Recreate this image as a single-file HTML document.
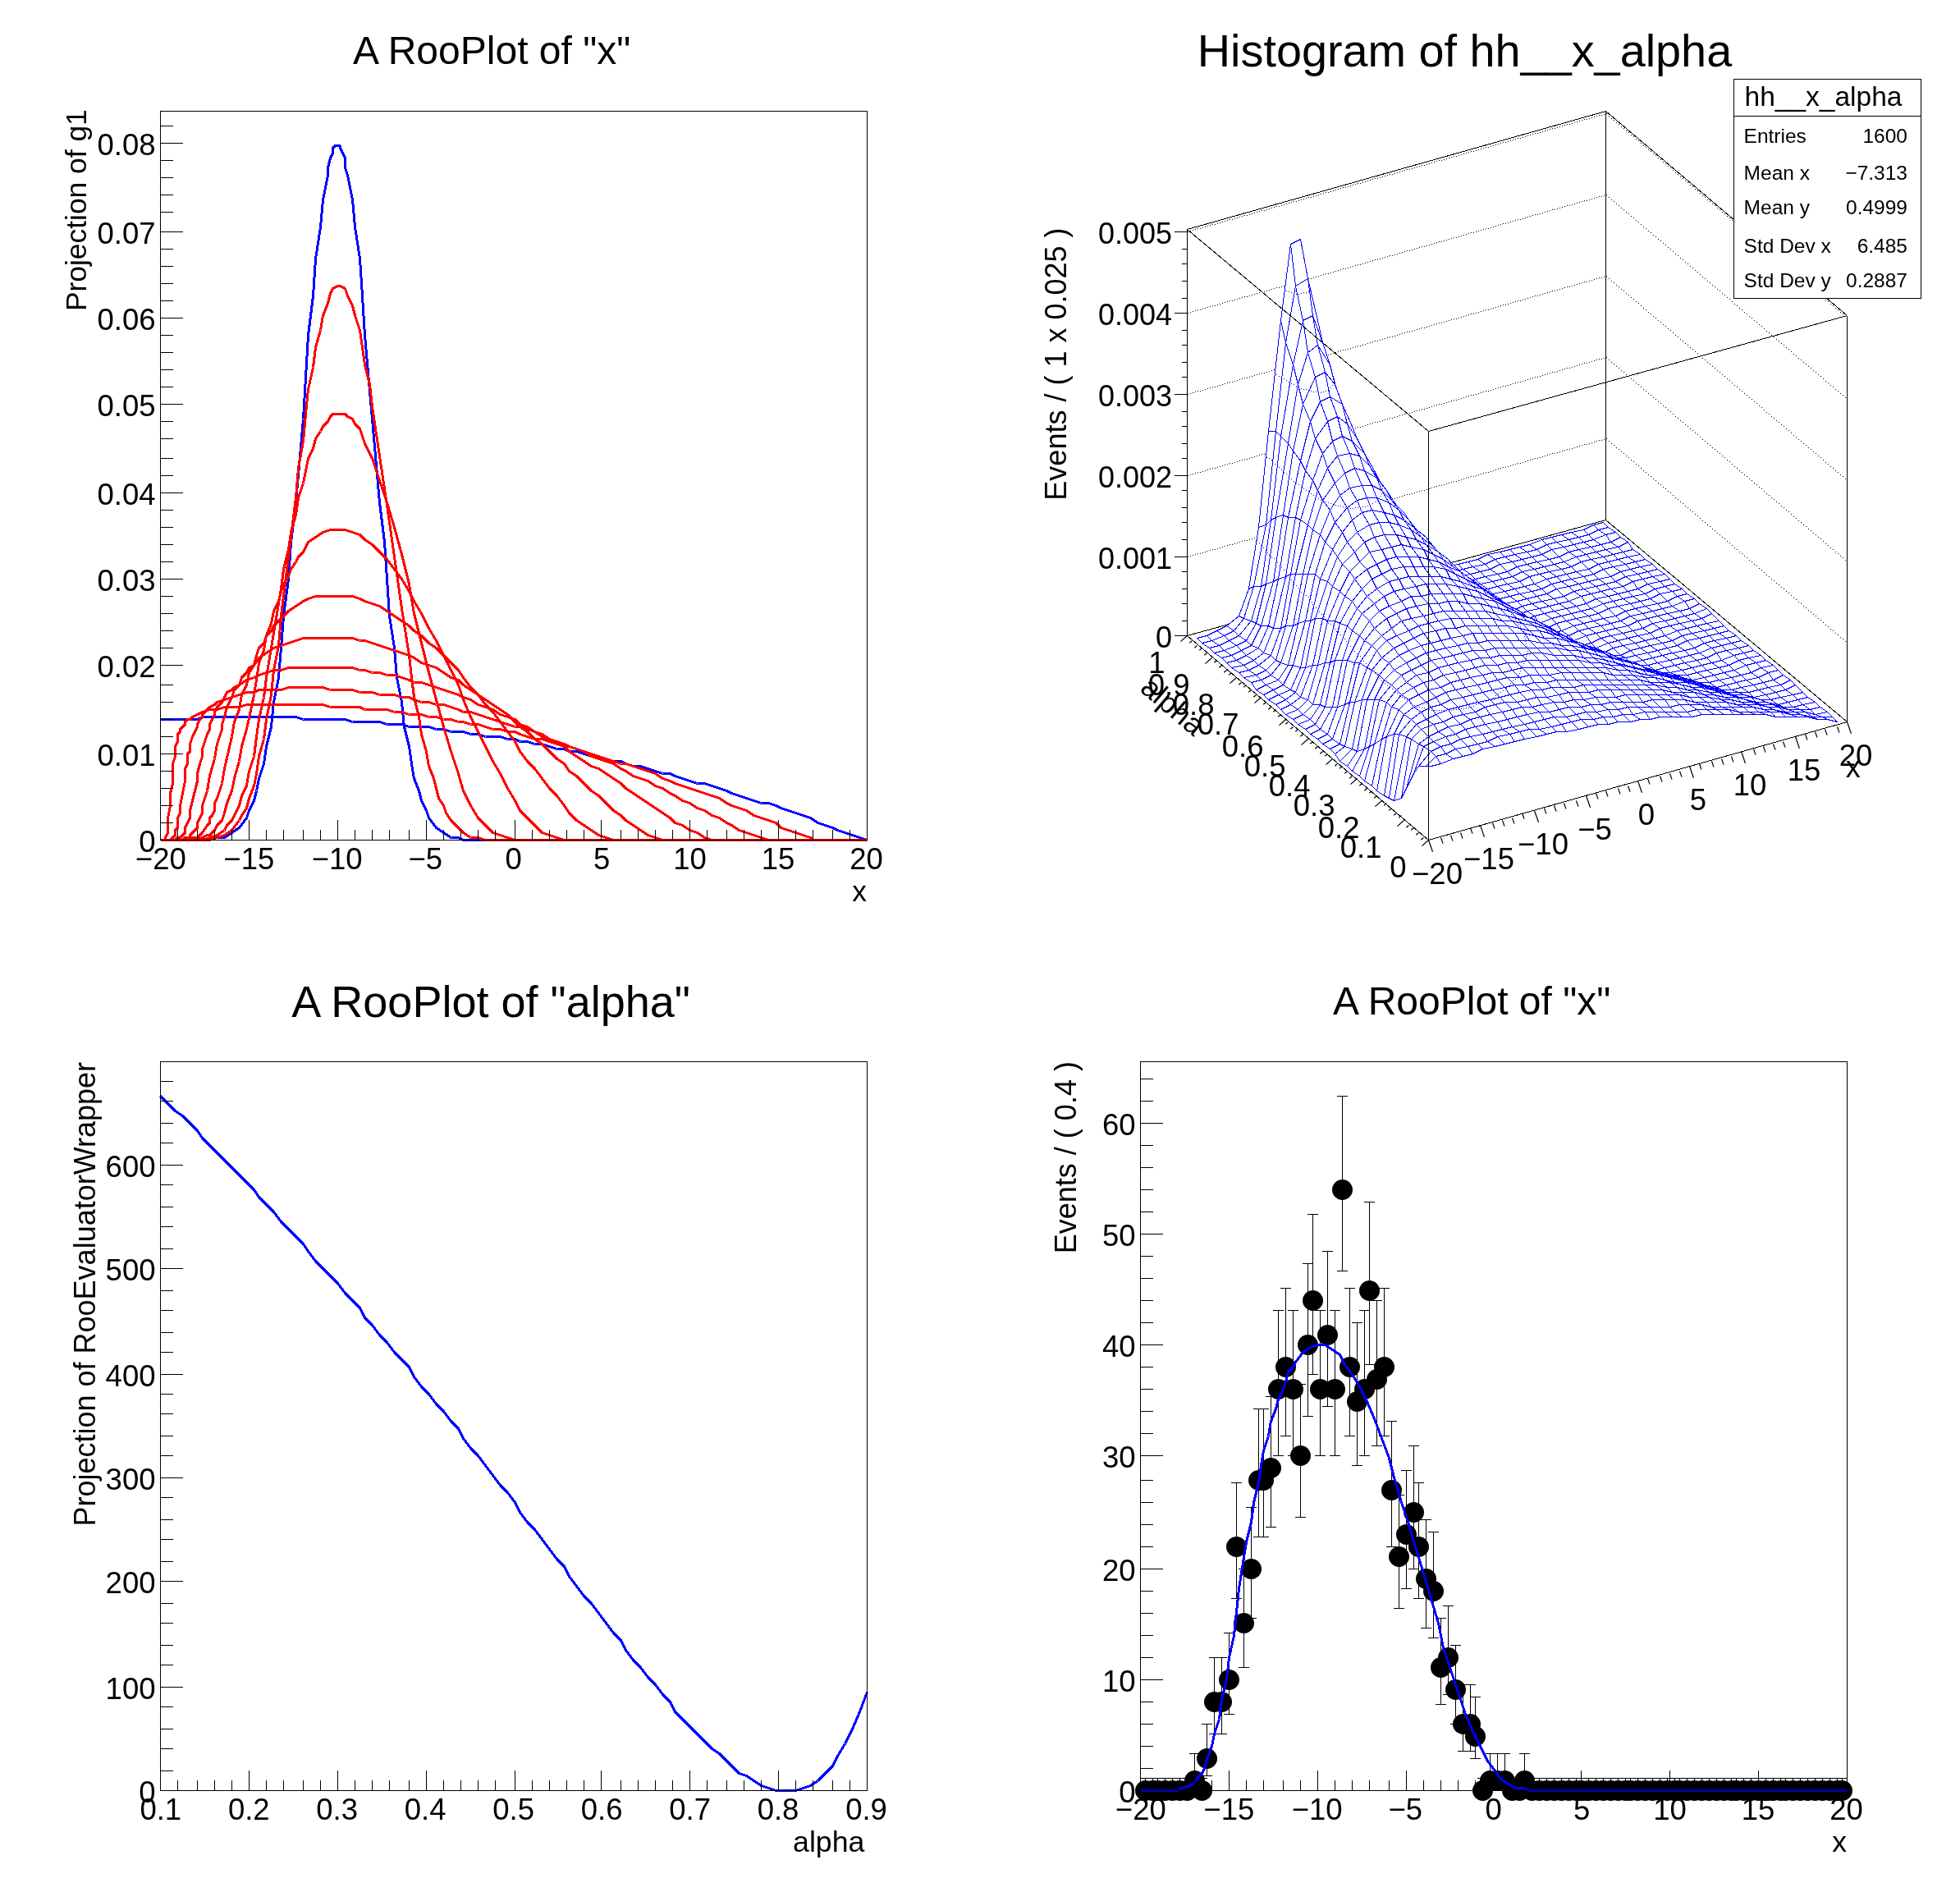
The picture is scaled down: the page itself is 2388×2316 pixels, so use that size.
<!DOCTYPE html><html><head><meta charset="utf-8"><style>html,body{margin:0;padding:0;background:#fff}svg{display:block}path.c{stroke-width:1;fill:none}text{font-family:"Liberation Sans",sans-serif;fill:#000}</style></head><body>
<svg width="2388" height="2316" viewBox="0 0 2388 2316" style="will-change:transform">
<rect width="2388" height="2316" fill="#fff"/>
<rect x="195.5" y="135.5" width="861" height="888" fill="none" stroke="#000" stroke-width="1" shape-rendering="crispEdges"/>
<path d="M195.5 1023.5L204.5 1023.5L213.5 1023.5L222.5 1023.5L231.5 1023.5L240.5 1023.5L246.5 1023.5L255.5 1023.5L264.5 1020.5L273.5 1020.5L282.5 1014.5L291.5 1008.5L300.5 996.5L303.5 987.5L309.5 975.5L312.5 963.5L315.5 948.5L321.5 930.5L324.5 909.5L330.5 885.5L333.5 855.5L339.5 825.5L342.5 789.5L345.5 750.5L351.5 705.5L354.5 660.5L360.5 612.5L369.5 510.5L375.5 408.5L381.5 360.5L384.5 315.5L390.5 276.5L393.5 243.5L396.5 228.5L399.5 213.5L399.5 204.5L402.5 192.5L405.5 186.5L405.5 180.5L408.5 177.5L411.5 177.5L414.5 177.5L414.5 180.5L417.5 186.5L420.5 192.5L420.5 204.5L423.5 213.5L426.5 228.5L429.5 243.5L432.5 276.5L438.5 315.5L441.5 360.5L444.5 408.5L453.5 510.5L462.5 612.5L468.5 660.5L471.5 705.5L474.5 750.5L480.5 789.5L483.5 825.5L489.5 855.5L492.5 885.5L498.5 909.5L501.5 930.5L504.5 948.5L510.5 963.5L513.5 975.5L519.5 987.5L522.5 996.5L531.5 1008.5L540.5 1014.5L549.5 1020.5L558.5 1020.5L564.5 1023.5L573.5 1023.5L582.5 1023.5L591.5 1023.5L600.5 1023.5L609.5 1023.5L618.5 1023.5L627.5 1023.5L633.5 1023.5L642.5 1023.5L651.5 1023.5L660.5 1023.5L669.5 1023.5L678.5 1023.5L687.5 1023.5L693.5 1023.5L702.5 1023.5L711.5 1023.5L720.5 1023.5L729.5 1023.5L738.5 1023.5L747.5 1023.5L756.5 1023.5L762.5 1023.5L771.5 1023.5L780.5 1023.5L789.5 1023.5L798.5 1023.5L807.5 1023.5L816.5 1023.5L822.5 1023.5L831.5 1023.5L840.5 1023.5L849.5 1023.5L858.5 1023.5L867.5 1023.5L876.5 1023.5L885.5 1023.5L891.5 1023.5L900.5 1023.5L909.5 1023.5L918.5 1023.5L927.5 1023.5L936.5 1023.5L945.5 1023.5L951.5 1023.5L960.5 1023.5L969.5 1023.5L978.5 1023.5L987.5 1023.5L996.5 1023.5L1005.5 1023.5L1014.5 1023.5L1020.5 1023.5L1029.5 1023.5L1038.5 1023.5L1047.5 1023.5L1056.5 1023.5" fill="none" stroke="#0000ff" stroke-width="3" stroke-linejoin="bevel" shape-rendering="crispEdges"/>
<path d="M195.5 876.5L204.5 876.5L213.5 876.5L222.5 876.5L231.5 876.5L240.5 876.5L246.5 873.5L255.5 873.5L264.5 873.5L273.5 873.5L282.5 873.5L291.5 873.5L300.5 873.5L309.5 873.5L315.5 873.5L324.5 873.5L333.5 873.5L342.5 873.5L351.5 873.5L360.5 873.5L369.5 876.5L375.5 876.5L384.5 876.5L393.5 876.5L402.5 876.5L411.5 876.5L420.5 876.5L429.5 879.5L438.5 879.5L444.5 879.5L453.5 879.5L462.5 879.5L471.5 882.5L480.5 882.5L489.5 882.5L498.5 885.5L504.5 885.5L513.5 885.5L522.5 885.5L531.5 888.5L540.5 888.5L549.5 891.5L558.5 891.5L564.5 891.5L573.5 894.5L582.5 894.5L591.5 897.5L600.5 897.5L609.5 897.5L618.5 900.5L627.5 900.5L633.5 903.5L642.5 903.5L651.5 906.5L660.5 906.5L669.5 909.5L678.5 912.5L687.5 912.5L693.5 915.5L702.5 915.5L711.5 918.5L720.5 921.5L729.5 921.5L738.5 924.5L747.5 927.5L756.5 927.5L762.5 930.5L771.5 933.5L780.5 933.5L789.5 936.5L798.5 939.5L807.5 942.5L816.5 942.5L822.5 945.5L831.5 948.5L840.5 951.5L849.5 954.5L858.5 954.5L867.5 957.5L876.5 960.5L885.5 963.5L891.5 966.5L900.5 969.5L909.5 972.5L918.5 975.5L927.5 978.5L936.5 978.5L945.5 981.5L951.5 984.5L960.5 987.5L969.5 990.5L978.5 993.5L987.5 996.5L996.5 1002.5L1005.5 1005.5L1014.5 1008.5L1020.5 1011.5L1029.5 1014.5L1038.5 1017.5L1047.5 1020.5L1056.5 1023.5" fill="none" stroke="#0000ff" stroke-width="3" stroke-linejoin="bevel" shape-rendering="crispEdges"/>
<path d="M195.5 1023.5L198.5 1023.5L201.5 1023.5L201.5 1020.5L204.5 1014.5L204.5 1008.5L204.5 996.5L207.5 981.5L207.5 966.5L210.5 954.5L210.5 939.5L210.5 930.5L213.5 921.5L213.5 915.5L213.5 909.5L216.5 903.5L216.5 900.5L216.5 894.5L219.5 891.5L219.5 888.5L222.5 885.5L225.5 882.5L225.5 879.5L228.5 876.5L231.5 876.5L234.5 873.5L240.5 870.5L246.5 867.5L255.5 864.5L264.5 864.5L273.5 861.5L282.5 861.5L291.5 861.5L300.5 858.5L309.5 858.5L315.5 858.5L324.5 858.5L333.5 858.5L342.5 858.5L351.5 858.5L360.5 858.5L369.5 858.5L375.5 858.5L384.5 858.5L393.5 858.5L402.5 861.5L411.5 861.5L420.5 861.5L429.5 861.5L438.5 861.5L444.5 864.5L453.5 864.5L462.5 864.5L471.5 864.5L480.5 867.5L489.5 867.5L498.5 870.5L504.5 870.5L513.5 870.5L522.5 873.5L531.5 873.5L540.5 876.5L549.5 876.5L558.5 879.5L564.5 879.5L573.5 882.5L582.5 882.5L591.5 885.5L600.5 888.5L609.5 888.5L618.5 891.5L627.5 891.5L633.5 894.5L642.5 897.5L651.5 900.5L660.5 900.5L669.5 903.5L678.5 906.5L687.5 909.5L693.5 909.5L702.5 912.5L711.5 915.5L720.5 918.5L729.5 921.5L738.5 924.5L747.5 927.5L756.5 930.5L762.5 930.5L771.5 933.5L780.5 936.5L789.5 939.5L798.5 942.5L807.5 948.5L816.5 951.5L822.5 954.5L831.5 957.5L840.5 960.5L849.5 963.5L858.5 966.5L867.5 969.5L876.5 972.5L885.5 978.5L891.5 981.5L900.5 984.5L909.5 987.5L918.5 993.5L927.5 996.5L936.5 999.5L945.5 1002.5L951.5 1008.5L960.5 1011.5L969.5 1014.5L978.5 1017.5L987.5 1020.5L990.5 1023.5L996.5 1023.5L999.5 1023.5L1005.5 1023.5L1014.5 1023.5L1020.5 1023.5L1029.5 1023.5L1038.5 1023.5L1047.5 1023.5L1056.5 1023.5" fill="none" stroke="#ff0000" stroke-width="3" stroke-linejoin="bevel" shape-rendering="crispEdges"/>
<path d="M195.5 1023.5L204.5 1023.5L207.5 1023.5L210.5 1020.5L213.5 1017.5L213.5 1014.5L213.5 1011.5L216.5 1008.5L216.5 1002.5L216.5 996.5L219.5 990.5L219.5 981.5L222.5 966.5L225.5 951.5L225.5 945.5L225.5 936.5L228.5 930.5L228.5 924.5L228.5 918.5L231.5 915.5L231.5 909.5L231.5 906.5L234.5 897.5L237.5 891.5L240.5 885.5L240.5 882.5L243.5 876.5L246.5 873.5L246.5 870.5L252.5 864.5L255.5 861.5L261.5 858.5L264.5 855.5L273.5 852.5L282.5 849.5L291.5 846.5L300.5 843.5L309.5 843.5L315.5 840.5L324.5 840.5L333.5 840.5L342.5 840.5L351.5 837.5L360.5 837.5L369.5 837.5L375.5 837.5L384.5 837.5L393.5 837.5L402.5 840.5L411.5 840.5L420.5 840.5L429.5 840.5L438.5 843.5L444.5 843.5L453.5 843.5L462.5 846.5L471.5 846.5L480.5 846.5L489.5 849.5L498.5 849.5L504.5 852.5L513.5 855.5L522.5 855.5L531.5 858.5L540.5 858.5L549.5 861.5L558.5 864.5L564.5 867.5L573.5 867.5L582.5 870.5L591.5 873.5L600.5 876.5L609.5 879.5L618.5 882.5L627.5 885.5L633.5 885.5L642.5 888.5L651.5 891.5L660.5 897.5L669.5 900.5L678.5 903.5L687.5 906.5L693.5 909.5L702.5 912.5L711.5 915.5L720.5 921.5L729.5 924.5L738.5 927.5L747.5 930.5L756.5 936.5L762.5 939.5L771.5 945.5L780.5 948.5L789.5 951.5L798.5 957.5L807.5 960.5L816.5 966.5L822.5 969.5L831.5 975.5L840.5 978.5L849.5 984.5L858.5 987.5L867.5 993.5L876.5 996.5L885.5 1002.5L891.5 1005.5L900.5 1011.5L909.5 1014.5L918.5 1017.5L927.5 1020.5L936.5 1023.5L945.5 1023.5L951.5 1023.5L960.5 1023.5L969.5 1023.5L978.5 1023.5L987.5 1023.5L996.5 1023.5L1005.5 1023.5L1014.5 1023.5L1020.5 1023.5L1029.5 1023.5L1038.5 1023.5L1047.5 1023.5L1056.5 1023.5" fill="none" stroke="#ff0000" stroke-width="3" stroke-linejoin="bevel" shape-rendering="crispEdges"/>
<path d="M195.5 1023.5L204.5 1023.5L213.5 1023.5L216.5 1020.5L219.5 1020.5L222.5 1017.5L225.5 1014.5L225.5 1008.5L228.5 1002.5L231.5 996.5L231.5 987.5L234.5 975.5L240.5 951.5L240.5 942.5L243.5 930.5L246.5 921.5L246.5 912.5L249.5 903.5L252.5 894.5L255.5 888.5L255.5 882.5L258.5 876.5L261.5 870.5L261.5 867.5L264.5 861.5L270.5 855.5L273.5 849.5L276.5 843.5L282.5 840.5L285.5 837.5L291.5 834.5L300.5 828.5L309.5 825.5L315.5 822.5L324.5 819.5L333.5 816.5L342.5 816.5L351.5 813.5L360.5 813.5L369.5 813.5L375.5 813.5L384.5 813.5L393.5 813.5L402.5 813.5L411.5 813.5L420.5 813.5L429.5 813.5L438.5 816.5L444.5 816.5L453.5 819.5L462.5 819.5L471.5 822.5L480.5 822.5L489.5 825.5L498.5 828.5L504.5 831.5L513.5 831.5L522.5 834.5L531.5 837.5L540.5 840.5L549.5 843.5L558.5 846.5L564.5 849.5L573.5 852.5L582.5 858.5L591.5 861.5L600.5 864.5L609.5 870.5L618.5 873.5L627.5 876.5L633.5 882.5L642.5 885.5L651.5 891.5L660.5 894.5L669.5 900.5L678.5 906.5L687.5 909.5L693.5 915.5L702.5 921.5L711.5 927.5L720.5 933.5L729.5 936.5L738.5 942.5L747.5 948.5L756.5 954.5L762.5 960.5L771.5 966.5L780.5 972.5L789.5 978.5L798.5 984.5L807.5 990.5L816.5 996.5L822.5 1002.5L831.5 1005.5L840.5 1011.5L849.5 1014.5L858.5 1020.5L867.5 1023.5L876.5 1023.5L885.5 1023.5L891.5 1023.5L900.5 1023.5L909.5 1023.5L918.5 1023.5L927.5 1023.5L936.5 1023.5L945.5 1023.5L951.5 1023.5L960.5 1023.5L969.5 1023.5L978.5 1023.5L987.5 1023.5L996.5 1023.5L1005.5 1023.5L1014.5 1023.5L1020.5 1023.5L1029.5 1023.5L1038.5 1023.5L1047.5 1023.5L1056.5 1023.5" fill="none" stroke="#ff0000" stroke-width="3" stroke-linejoin="bevel" shape-rendering="crispEdges"/>
<path d="M195.5 1023.5L204.5 1023.5L213.5 1023.5L222.5 1023.5L225.5 1020.5L231.5 1020.5L231.5 1017.5L234.5 1014.5L237.5 1011.5L240.5 1008.5L240.5 1002.5L243.5 996.5L246.5 990.5L246.5 981.5L249.5 972.5L252.5 963.5L255.5 945.5L261.5 924.5L264.5 906.5L267.5 897.5L270.5 888.5L270.5 882.5L273.5 873.5L276.5 861.5L282.5 849.5L285.5 840.5L291.5 834.5L294.5 825.5L300.5 819.5L303.5 813.5L309.5 810.5L315.5 801.5L324.5 795.5L333.5 789.5L342.5 786.5L351.5 783.5L360.5 780.5L369.5 777.5L375.5 777.5L384.5 777.5L393.5 777.5L402.5 777.5L411.5 777.5L420.5 777.5L429.5 777.5L438.5 780.5L444.5 780.5L453.5 783.5L462.5 786.5L471.5 789.5L480.5 792.5L489.5 795.5L498.5 798.5L504.5 801.5L513.5 807.5L522.5 810.5L531.5 813.5L540.5 819.5L549.5 825.5L558.5 828.5L564.5 834.5L573.5 840.5L582.5 846.5L591.5 852.5L600.5 858.5L609.5 864.5L618.5 870.5L627.5 879.5L633.5 885.5L642.5 891.5L651.5 900.5L660.5 906.5L669.5 915.5L678.5 924.5L687.5 930.5L693.5 939.5L702.5 945.5L711.5 954.5L720.5 963.5L729.5 969.5L738.5 978.5L747.5 987.5L756.5 993.5L762.5 999.5L771.5 1005.5L780.5 1011.5L789.5 1017.5L798.5 1020.5L807.5 1023.5L816.5 1023.5L822.5 1023.5L831.5 1023.5L840.5 1023.5L849.5 1023.5L858.5 1023.5L867.5 1023.5L876.5 1023.5L885.5 1023.5L891.5 1023.5L900.5 1023.5L909.5 1023.5L918.5 1023.5L927.5 1023.5L936.5 1023.5L945.5 1023.5L951.5 1023.5L960.5 1023.5L969.5 1023.5L978.5 1023.5L987.5 1023.5L996.5 1023.5L1005.5 1023.5L1014.5 1023.5L1020.5 1023.5L1029.5 1023.5L1038.5 1023.5L1047.5 1023.5L1056.5 1023.5" fill="none" stroke="#ff0000" stroke-width="3" stroke-linejoin="bevel" shape-rendering="crispEdges"/>
<path d="M195.5 1023.5L204.5 1023.5L213.5 1023.5L222.5 1023.5L231.5 1023.5L234.5 1020.5L240.5 1020.5L243.5 1017.5L246.5 1014.5L252.5 1005.5L255.5 1002.5L255.5 996.5L258.5 993.5L261.5 987.5L261.5 978.5L264.5 972.5L270.5 954.5L273.5 936.5L282.5 897.5L285.5 879.5L291.5 864.5L294.5 846.5L300.5 834.5L303.5 819.5L309.5 810.5L312.5 798.5L315.5 789.5L321.5 783.5L324.5 774.5L330.5 768.5L333.5 762.5L342.5 753.5L351.5 744.5L360.5 738.5L369.5 732.5L375.5 729.5L384.5 726.5L393.5 726.5L402.5 726.5L411.5 726.5L420.5 726.5L429.5 726.5L438.5 729.5L444.5 732.5L453.5 735.5L462.5 738.5L471.5 744.5L480.5 750.5L489.5 756.5L498.5 762.5L504.5 768.5L513.5 774.5L522.5 783.5L531.5 789.5L540.5 798.5L549.5 807.5L558.5 816.5L564.5 825.5L573.5 837.5L582.5 846.5L591.5 858.5L600.5 867.5L609.5 879.5L618.5 891.5L627.5 903.5L633.5 915.5L642.5 927.5L651.5 936.5L660.5 948.5L669.5 960.5L678.5 969.5L687.5 981.5L693.5 990.5L702.5 999.5L711.5 1005.5L720.5 1011.5L729.5 1017.5L738.5 1020.5L747.5 1023.5L756.5 1023.5L762.5 1023.5L771.5 1023.5L780.5 1023.5L789.5 1023.5L798.5 1023.5L807.5 1023.5L816.5 1023.5L822.5 1023.5L831.5 1023.5L840.5 1023.5L849.5 1023.5L858.5 1023.5L867.5 1023.5L876.5 1023.5L885.5 1023.5L891.5 1023.5L900.5 1023.5L909.5 1023.5L918.5 1023.5L927.5 1023.5L936.5 1023.5L945.5 1023.5L951.5 1023.5L960.5 1023.5L969.5 1023.5L978.5 1023.5L987.5 1023.5L996.5 1023.5L1005.5 1023.5L1014.5 1023.5L1020.5 1023.5L1029.5 1023.5L1038.5 1023.5L1047.5 1023.5L1056.5 1023.5" fill="none" stroke="#ff0000" stroke-width="3" stroke-linejoin="bevel" shape-rendering="crispEdges"/>
<path d="M195.5 1023.5L204.5 1023.5L213.5 1023.5L222.5 1023.5L231.5 1023.5L240.5 1023.5L246.5 1020.5L252.5 1017.5L255.5 1017.5L261.5 1011.5L264.5 1005.5L270.5 999.5L273.5 990.5L276.5 978.5L282.5 963.5L285.5 948.5L291.5 927.5L294.5 909.5L300.5 888.5L309.5 846.5L312.5 828.5L315.5 807.5L321.5 792.5L324.5 774.5L330.5 759.5L333.5 744.5L339.5 732.5L342.5 720.5L345.5 711.5L351.5 702.5L354.5 693.5L360.5 684.5L363.5 678.5L369.5 672.5L375.5 660.5L384.5 654.5L393.5 648.5L402.5 645.5L411.5 645.5L420.5 645.5L429.5 648.5L438.5 651.5L444.5 657.5L453.5 663.5L462.5 672.5L471.5 681.5L480.5 693.5L489.5 705.5L498.5 720.5L504.5 732.5L513.5 747.5L522.5 765.5L531.5 780.5L540.5 798.5L549.5 816.5L558.5 834.5L564.5 852.5L573.5 873.5L582.5 891.5L591.5 909.5L600.5 927.5L609.5 942.5L618.5 960.5L627.5 975.5L633.5 987.5L642.5 996.5L651.5 1005.5L660.5 1014.5L669.5 1017.5L678.5 1020.5L687.5 1023.5L693.5 1023.5L702.5 1023.5L711.5 1023.5L720.5 1023.5L729.5 1023.5L738.5 1023.5L747.5 1023.5L756.5 1023.5L762.5 1023.5L771.5 1023.5L780.5 1023.5L789.5 1023.5L798.5 1023.5L807.5 1023.5L816.5 1023.5L822.5 1023.5L831.5 1023.5L840.5 1023.5L849.5 1023.5L858.5 1023.5L867.5 1023.5L876.5 1023.5L885.5 1023.5L891.5 1023.5L900.5 1023.5L909.5 1023.5L918.5 1023.5L927.5 1023.5L936.5 1023.5L945.5 1023.5L951.5 1023.5L960.5 1023.5L969.5 1023.5L978.5 1023.5L987.5 1023.5L996.5 1023.5L1005.5 1023.5L1014.5 1023.5L1020.5 1023.5L1029.5 1023.5L1038.5 1023.5L1047.5 1023.5L1056.5 1023.5" fill="none" stroke="#ff0000" stroke-width="3" stroke-linejoin="bevel" shape-rendering="crispEdges"/>
<path d="M195.5 1023.5L204.5 1023.5L213.5 1023.5L222.5 1023.5L231.5 1023.5L240.5 1023.5L246.5 1023.5L255.5 1020.5L264.5 1017.5L273.5 1011.5L276.5 1005.5L282.5 999.5L285.5 993.5L291.5 981.5L294.5 969.5L300.5 957.5L303.5 939.5L309.5 921.5L312.5 897.5L315.5 876.5L321.5 849.5L324.5 825.5L333.5 771.5L342.5 717.5L345.5 693.5L351.5 669.5L354.5 648.5L360.5 627.5L363.5 606.5L369.5 588.5L372.5 573.5L375.5 558.5L381.5 546.5L384.5 534.5L390.5 525.5L393.5 519.5L399.5 513.5L402.5 507.5L405.5 504.5L411.5 504.5L414.5 504.5L420.5 504.5L423.5 507.5L429.5 510.5L432.5 516.5L438.5 522.5L441.5 531.5L444.5 540.5L453.5 558.5L462.5 585.5L471.5 612.5L480.5 642.5L489.5 675.5L498.5 711.5L504.5 747.5L513.5 783.5L522.5 819.5L531.5 852.5L540.5 885.5L549.5 915.5L558.5 942.5L564.5 963.5L573.5 981.5L582.5 996.5L591.5 1005.5L600.5 1014.5L609.5 1017.5L618.5 1020.5L627.5 1023.5L633.5 1023.5L642.5 1023.5L651.5 1023.5L660.5 1023.5L669.5 1023.5L678.5 1023.5L687.5 1023.5L693.5 1023.5L702.5 1023.5L711.5 1023.5L720.5 1023.5L729.5 1023.5L738.5 1023.5L747.5 1023.5L756.5 1023.5L762.5 1023.5L771.5 1023.5L780.5 1023.5L789.5 1023.5L798.5 1023.5L807.5 1023.5L816.5 1023.5L822.5 1023.5L831.5 1023.5L840.5 1023.5L849.5 1023.5L858.5 1023.5L867.5 1023.5L876.5 1023.5L885.5 1023.5L891.5 1023.5L900.5 1023.5L909.5 1023.5L918.5 1023.5L927.5 1023.5L936.5 1023.5L945.5 1023.5L951.5 1023.5L960.5 1023.5L969.5 1023.5L978.5 1023.5L987.5 1023.5L996.5 1023.5L1005.5 1023.5L1014.5 1023.5L1020.5 1023.5L1029.5 1023.5L1038.5 1023.5L1047.5 1023.5L1056.5 1023.5" fill="none" stroke="#ff0000" stroke-width="3" stroke-linejoin="bevel" shape-rendering="crispEdges"/>
<path d="M195.5 1023.5L204.5 1023.5L213.5 1023.5L222.5 1023.5L231.5 1023.5L240.5 1023.5L246.5 1023.5L255.5 1023.5L264.5 1020.5L273.5 1017.5L282.5 1011.5L291.5 999.5L294.5 993.5L300.5 984.5L303.5 972.5L309.5 957.5L312.5 942.5L315.5 921.5L321.5 900.5L324.5 876.5L330.5 846.5L333.5 816.5L339.5 786.5L342.5 750.5L351.5 678.5L360.5 606.5L363.5 570.5L369.5 537.5L372.5 504.5L375.5 474.5L381.5 447.5L384.5 423.5L390.5 402.5L393.5 384.5L399.5 369.5L402.5 357.5L405.5 351.5L411.5 348.5L414.5 348.5L420.5 351.5L423.5 360.5L429.5 372.5L432.5 384.5L438.5 402.5L441.5 423.5L444.5 444.5L450.5 468.5L453.5 495.5L462.5 555.5L471.5 615.5L480.5 678.5L489.5 741.5L498.5 798.5L501.5 825.5L504.5 849.5L510.5 873.5L513.5 894.5L519.5 915.5L522.5 933.5L528.5 948.5L531.5 960.5L534.5 972.5L540.5 981.5L543.5 990.5L549.5 999.5L558.5 1008.5L564.5 1014.5L573.5 1020.5L582.5 1020.5L591.5 1023.5L600.5 1023.5L609.5 1023.5L618.5 1023.5L627.5 1023.5L633.5 1023.5L642.5 1023.5L651.5 1023.5L660.5 1023.5L669.5 1023.5L678.5 1023.5L687.5 1023.5L693.5 1023.5L702.5 1023.5L711.5 1023.5L720.5 1023.5L729.5 1023.5L738.5 1023.5L747.5 1023.5L756.5 1023.5L762.5 1023.5L771.5 1023.5L780.5 1023.5L789.5 1023.5L798.5 1023.5L807.5 1023.5L816.5 1023.5L822.5 1023.5L831.5 1023.5L840.5 1023.5L849.5 1023.5L858.5 1023.5L867.5 1023.5L876.5 1023.5L885.5 1023.5L891.5 1023.5L900.5 1023.5L909.5 1023.5L918.5 1023.5L927.5 1023.5L936.5 1023.5L945.5 1023.5L951.5 1023.5L960.5 1023.5L969.5 1023.5L978.5 1023.5L987.5 1023.5L996.5 1023.5L1005.5 1023.5L1014.5 1023.5L1020.5 1023.5L1029.5 1023.5L1038.5 1023.5L1047.5 1023.5L1056.5 1023.5" fill="none" stroke="#ff0000" stroke-width="3" stroke-linejoin="bevel" shape-rendering="crispEdges"/>
<g stroke="#000" stroke-width="1" shape-rendering="crispEdges">
<rect x="195.5" y="135.5" width="861" height="888" fill="none"/>
<line x1="195.5" y1="1023.5" x2="195.5" y2="998.5"/>
<line x1="216.5" y1="1023.5" x2="216.5" y2="1010.5"/>
<line x1="240.5" y1="1023.5" x2="240.5" y2="1010.5"/>
<line x1="261.5" y1="1023.5" x2="261.5" y2="1010.5"/>
<line x1="282.5" y1="1023.5" x2="282.5" y2="1010.5"/>
<line x1="303.5" y1="1023.5" x2="303.5" y2="998.5"/>
<line x1="324.5" y1="1023.5" x2="324.5" y2="1010.5"/>
<line x1="345.5" y1="1023.5" x2="345.5" y2="1010.5"/>
<line x1="369.5" y1="1023.5" x2="369.5" y2="1010.5"/>
<line x1="390.5" y1="1023.5" x2="390.5" y2="1010.5"/>
<line x1="411.5" y1="1023.5" x2="411.5" y2="998.5"/>
<line x1="432.5" y1="1023.5" x2="432.5" y2="1010.5"/>
<line x1="453.5" y1="1023.5" x2="453.5" y2="1010.5"/>
<line x1="474.5" y1="1023.5" x2="474.5" y2="1010.5"/>
<line x1="498.5" y1="1023.5" x2="498.5" y2="1010.5"/>
<line x1="519.5" y1="1023.5" x2="519.5" y2="998.5"/>
<line x1="540.5" y1="1023.5" x2="540.5" y2="1010.5"/>
<line x1="561.5" y1="1023.5" x2="561.5" y2="1010.5"/>
<line x1="582.5" y1="1023.5" x2="582.5" y2="1010.5"/>
<line x1="603.5" y1="1023.5" x2="603.5" y2="1010.5"/>
<line x1="627.5" y1="1023.5" x2="627.5" y2="998.5"/>
<line x1="648.5" y1="1023.5" x2="648.5" y2="1010.5"/>
<line x1="669.5" y1="1023.5" x2="669.5" y2="1010.5"/>
<line x1="690.5" y1="1023.5" x2="690.5" y2="1010.5"/>
<line x1="711.5" y1="1023.5" x2="711.5" y2="1010.5"/>
<line x1="732.5" y1="1023.5" x2="732.5" y2="998.5"/>
<line x1="756.5" y1="1023.5" x2="756.5" y2="1010.5"/>
<line x1="777.5" y1="1023.5" x2="777.5" y2="1010.5"/>
<line x1="798.5" y1="1023.5" x2="798.5" y2="1010.5"/>
<line x1="819.5" y1="1023.5" x2="819.5" y2="1010.5"/>
<line x1="840.5" y1="1023.5" x2="840.5" y2="998.5"/>
<line x1="861.5" y1="1023.5" x2="861.5" y2="1010.5"/>
<line x1="885.5" y1="1023.5" x2="885.5" y2="1010.5"/>
<line x1="906.5" y1="1023.5" x2="906.5" y2="1010.5"/>
<line x1="927.5" y1="1023.5" x2="927.5" y2="1010.5"/>
<line x1="948.5" y1="1023.5" x2="948.5" y2="998.5"/>
<line x1="969.5" y1="1023.5" x2="969.5" y2="1010.5"/>
<line x1="990.5" y1="1023.5" x2="990.5" y2="1010.5"/>
<line x1="1014.5" y1="1023.5" x2="1014.5" y2="1010.5"/>
<line x1="1035.5" y1="1023.5" x2="1035.5" y2="1010.5"/>
<line x1="1056.5" y1="1023.5" x2="1056.5" y2="998.5"/>
<line x1="195.5" y1="1023.5" x2="222.5" y2="1023.5"/>
<line x1="195.5" y1="1002.5" x2="210.5" y2="1002.5"/>
<line x1="195.5" y1="981.5" x2="210.5" y2="981.5"/>
<line x1="195.5" y1="960.5" x2="210.5" y2="960.5"/>
<line x1="195.5" y1="939.5" x2="210.5" y2="939.5"/>
<line x1="195.5" y1="918.5" x2="222.5" y2="918.5"/>
<line x1="195.5" y1="897.5" x2="210.5" y2="897.5"/>
<line x1="195.5" y1="876.5" x2="210.5" y2="876.5"/>
<line x1="195.5" y1="855.5" x2="210.5" y2="855.5"/>
<line x1="195.5" y1="834.5" x2="210.5" y2="834.5"/>
<line x1="195.5" y1="810.5" x2="222.5" y2="810.5"/>
<line x1="195.5" y1="789.5" x2="210.5" y2="789.5"/>
<line x1="195.5" y1="768.5" x2="210.5" y2="768.5"/>
<line x1="195.5" y1="747.5" x2="210.5" y2="747.5"/>
<line x1="195.5" y1="726.5" x2="210.5" y2="726.5"/>
<line x1="195.5" y1="705.5" x2="222.5" y2="705.5"/>
<line x1="195.5" y1="684.5" x2="210.5" y2="684.5"/>
<line x1="195.5" y1="663.5" x2="210.5" y2="663.5"/>
<line x1="195.5" y1="642.5" x2="210.5" y2="642.5"/>
<line x1="195.5" y1="621.5" x2="210.5" y2="621.5"/>
<line x1="195.5" y1="600.5" x2="222.5" y2="600.5"/>
<line x1="195.5" y1="579.5" x2="210.5" y2="579.5"/>
<line x1="195.5" y1="558.5" x2="210.5" y2="558.5"/>
<line x1="195.5" y1="534.5" x2="210.5" y2="534.5"/>
<line x1="195.5" y1="513.5" x2="210.5" y2="513.5"/>
<line x1="195.5" y1="492.5" x2="222.5" y2="492.5"/>
<line x1="195.5" y1="471.5" x2="210.5" y2="471.5"/>
<line x1="195.5" y1="450.5" x2="210.5" y2="450.5"/>
<line x1="195.5" y1="429.5" x2="210.5" y2="429.5"/>
<line x1="195.5" y1="408.5" x2="210.5" y2="408.5"/>
<line x1="195.5" y1="387.5" x2="222.5" y2="387.5"/>
<line x1="195.5" y1="366.5" x2="210.5" y2="366.5"/>
<line x1="195.5" y1="345.5" x2="210.5" y2="345.5"/>
<line x1="195.5" y1="324.5" x2="210.5" y2="324.5"/>
<line x1="195.5" y1="303.5" x2="210.5" y2="303.5"/>
<line x1="195.5" y1="282.5" x2="222.5" y2="282.5"/>
<line x1="195.5" y1="258.5" x2="210.5" y2="258.5"/>
<line x1="195.5" y1="237.5" x2="210.5" y2="237.5"/>
<line x1="195.5" y1="216.5" x2="210.5" y2="216.5"/>
<line x1="195.5" y1="195.5" x2="210.5" y2="195.5"/>
<line x1="195.5" y1="174.5" x2="222.5" y2="174.5"/>
<line x1="195.5" y1="153.5" x2="210.5" y2="153.5"/>
</g>
<g font-size="36.5">
<text x="195.8" y="1058.9" text-anchor="middle">−20</text>
<text x="303.3" y="1058.9" text-anchor="middle">−15</text>
<text x="410.7" y="1058.9" text-anchor="middle">−10</text>
<text x="518.2" y="1058.9" text-anchor="middle">−5</text>
<text x="625.7" y="1058.9" text-anchor="middle">0</text>
<text x="733.1" y="1058.9" text-anchor="middle">5</text>
<text x="840.6" y="1058.9" text-anchor="middle">10</text>
<text x="948" y="1058.9" text-anchor="middle">15</text>
<text x="1055.5" y="1058.9" text-anchor="middle">20</text>
<text x="189.5" y="1038.3" text-anchor="end" font-size="36.5">0</text>
<text x="189.5" y="933.3" text-anchor="end" font-size="36.5">0.01</text>
<text x="189.5" y="825.3" text-anchor="end" font-size="36.5">0.02</text>
<text x="189.5" y="720.3" text-anchor="end" font-size="36.5">0.03</text>
<text x="189.5" y="615.3" text-anchor="end" font-size="36.5">0.04</text>
<text x="189.5" y="507.3" text-anchor="end" font-size="36.5">0.05</text>
<text x="189.5" y="402.3" text-anchor="end" font-size="36.5">0.06</text>
<text x="189.5" y="297.3" text-anchor="end" font-size="36.5">0.07</text>
<text x="189.5" y="189.3" text-anchor="end" font-size="36.5">0.08</text>
</g>
<text x="1055.9" y="1097.8" font-size="35.4" text-anchor="end">x</text>
<text x="104.9" y="133.2" font-size="35.4" text-anchor="end" transform="rotate(-90 104.9 133.2)">Projection of g1</text>
<text x="430" y="77.8" font-size="48" text-anchor="start">A RooPlot of "x"</text>
<rect x="195.5" y="1293.5" width="861" height="888" fill="none" stroke="#000" stroke-width="1" shape-rendering="crispEdges"/>
<path d="M195.5 1335.5L204.5 1344.5L213.5 1353.5L222.5 1359.5L231.5 1368.5L240.5 1377.5L246.5 1386.5L255.5 1395.5L264.5 1404.5L273.5 1413.5L282.5 1422.5L291.5 1431.5L300.5 1440.5L309.5 1449.5L315.5 1458.5L324.5 1467.5L333.5 1476.5L342.5 1488.5L351.5 1497.5L360.5 1506.5L369.5 1515.5L375.5 1524.5L384.5 1536.5L393.5 1545.5L402.5 1554.5L411.5 1563.5L420.5 1575.5L429.5 1584.5L438.5 1593.5L444.5 1605.5L453.5 1614.5L462.5 1626.5L471.5 1635.5L480.5 1647.5L489.5 1656.5L498.5 1665.5L504.5 1677.5L513.5 1689.5L522.5 1698.5L531.5 1710.5L540.5 1719.5L549.5 1731.5L558.5 1740.5L564.5 1752.5L573.5 1764.5L582.5 1773.5L591.5 1785.5L600.5 1797.5L609.5 1809.5L618.5 1818.5L627.5 1830.5L633.5 1842.5L642.5 1854.5L651.5 1863.5L660.5 1875.5L669.5 1887.5L678.5 1899.5L687.5 1908.5L693.5 1920.5L702.5 1932.5L711.5 1944.5L720.5 1953.5L729.5 1965.5L738.5 1977.5L747.5 1989.5L756.5 1998.5L762.5 2010.5L771.5 2022.5L780.5 2031.5L789.5 2043.5L798.5 2052.5L807.5 2064.5L816.5 2073.5L822.5 2085.5L831.5 2094.5L840.5 2103.5L849.5 2112.5L858.5 2121.5L867.5 2130.5L876.5 2136.5L885.5 2145.5L891.5 2151.5L900.5 2160.5L909.5 2163.5L918.5 2169.5L927.5 2175.5L936.5 2178.5L945.5 2181.5L951.5 2181.5L960.5 2181.5L969.5 2181.5L978.5 2178.5L987.5 2175.5L996.5 2169.5L1005.5 2160.5L1014.5 2151.5L1020.5 2139.5L1029.5 2124.5L1038.5 2106.5L1047.5 2085.5L1056.5 2061.5" fill="none" stroke="#0000ff" stroke-width="3" stroke-linejoin="bevel" shape-rendering="crispEdges"/>
<g stroke="#000" stroke-width="1" shape-rendering="crispEdges">
<rect x="195.5" y="1293.5" width="861" height="888" fill="none"/>
<line x1="195.5" y1="2181.5" x2="195.5" y2="2156.5"/>
<line x1="216.5" y1="2181.5" x2="216.5" y2="2168.5"/>
<line x1="240.5" y1="2181.5" x2="240.5" y2="2168.5"/>
<line x1="261.5" y1="2181.5" x2="261.5" y2="2168.5"/>
<line x1="282.5" y1="2181.5" x2="282.5" y2="2168.5"/>
<line x1="303.5" y1="2181.5" x2="303.5" y2="2156.5"/>
<line x1="324.5" y1="2181.5" x2="324.5" y2="2168.5"/>
<line x1="345.5" y1="2181.5" x2="345.5" y2="2168.5"/>
<line x1="369.5" y1="2181.5" x2="369.5" y2="2168.5"/>
<line x1="390.5" y1="2181.5" x2="390.5" y2="2168.5"/>
<line x1="411.5" y1="2181.5" x2="411.5" y2="2156.5"/>
<line x1="432.5" y1="2181.5" x2="432.5" y2="2168.5"/>
<line x1="453.5" y1="2181.5" x2="453.5" y2="2168.5"/>
<line x1="474.5" y1="2181.5" x2="474.5" y2="2168.5"/>
<line x1="498.5" y1="2181.5" x2="498.5" y2="2168.5"/>
<line x1="519.5" y1="2181.5" x2="519.5" y2="2156.5"/>
<line x1="540.5" y1="2181.5" x2="540.5" y2="2168.5"/>
<line x1="561.5" y1="2181.5" x2="561.5" y2="2168.5"/>
<line x1="582.5" y1="2181.5" x2="582.5" y2="2168.5"/>
<line x1="603.5" y1="2181.5" x2="603.5" y2="2168.5"/>
<line x1="627.5" y1="2181.5" x2="627.5" y2="2156.5"/>
<line x1="648.5" y1="2181.5" x2="648.5" y2="2168.5"/>
<line x1="669.5" y1="2181.5" x2="669.5" y2="2168.5"/>
<line x1="690.5" y1="2181.5" x2="690.5" y2="2168.5"/>
<line x1="711.5" y1="2181.5" x2="711.5" y2="2168.5"/>
<line x1="732.5" y1="2181.5" x2="732.5" y2="2156.5"/>
<line x1="756.5" y1="2181.5" x2="756.5" y2="2168.5"/>
<line x1="777.5" y1="2181.5" x2="777.5" y2="2168.5"/>
<line x1="798.5" y1="2181.5" x2="798.5" y2="2168.5"/>
<line x1="819.5" y1="2181.5" x2="819.5" y2="2168.5"/>
<line x1="840.5" y1="2181.5" x2="840.5" y2="2156.5"/>
<line x1="861.5" y1="2181.5" x2="861.5" y2="2168.5"/>
<line x1="885.5" y1="2181.5" x2="885.5" y2="2168.5"/>
<line x1="906.5" y1="2181.5" x2="906.5" y2="2168.5"/>
<line x1="927.5" y1="2181.5" x2="927.5" y2="2168.5"/>
<line x1="948.5" y1="2181.5" x2="948.5" y2="2156.5"/>
<line x1="969.5" y1="2181.5" x2="969.5" y2="2168.5"/>
<line x1="990.5" y1="2181.5" x2="990.5" y2="2168.5"/>
<line x1="1014.5" y1="2181.5" x2="1014.5" y2="2168.5"/>
<line x1="1035.5" y1="2181.5" x2="1035.5" y2="2168.5"/>
<line x1="1056.5" y1="2181.5" x2="1056.5" y2="2156.5"/>
<line x1="195.5" y1="2181.5" x2="222.5" y2="2181.5"/>
<line x1="195.5" y1="2157.5" x2="210.5" y2="2157.5"/>
<line x1="195.5" y1="2130.5" x2="210.5" y2="2130.5"/>
<line x1="195.5" y1="2106.5" x2="210.5" y2="2106.5"/>
<line x1="195.5" y1="2079.5" x2="210.5" y2="2079.5"/>
<line x1="195.5" y1="2055.5" x2="222.5" y2="2055.5"/>
<line x1="195.5" y1="2028.5" x2="210.5" y2="2028.5"/>
<line x1="195.5" y1="2004.5" x2="210.5" y2="2004.5"/>
<line x1="195.5" y1="1977.5" x2="210.5" y2="1977.5"/>
<line x1="195.5" y1="1953.5" x2="210.5" y2="1953.5"/>
<line x1="195.5" y1="1926.5" x2="222.5" y2="1926.5"/>
<line x1="195.5" y1="1902.5" x2="210.5" y2="1902.5"/>
<line x1="195.5" y1="1875.5" x2="210.5" y2="1875.5"/>
<line x1="195.5" y1="1851.5" x2="210.5" y2="1851.5"/>
<line x1="195.5" y1="1824.5" x2="210.5" y2="1824.5"/>
<line x1="195.5" y1="1800.5" x2="222.5" y2="1800.5"/>
<line x1="195.5" y1="1773.5" x2="210.5" y2="1773.5"/>
<line x1="195.5" y1="1749.5" x2="210.5" y2="1749.5"/>
<line x1="195.5" y1="1722.5" x2="210.5" y2="1722.5"/>
<line x1="195.5" y1="1698.5" x2="210.5" y2="1698.5"/>
<line x1="195.5" y1="1674.5" x2="222.5" y2="1674.5"/>
<line x1="195.5" y1="1647.5" x2="210.5" y2="1647.5"/>
<line x1="195.5" y1="1623.5" x2="210.5" y2="1623.5"/>
<line x1="195.5" y1="1596.5" x2="210.5" y2="1596.5"/>
<line x1="195.5" y1="1572.5" x2="210.5" y2="1572.5"/>
<line x1="195.5" y1="1545.5" x2="222.5" y2="1545.5"/>
<line x1="195.5" y1="1521.5" x2="210.5" y2="1521.5"/>
<line x1="195.5" y1="1494.5" x2="210.5" y2="1494.5"/>
<line x1="195.5" y1="1470.5" x2="210.5" y2="1470.5"/>
<line x1="195.5" y1="1443.5" x2="210.5" y2="1443.5"/>
<line x1="195.5" y1="1419.5" x2="222.5" y2="1419.5"/>
<line x1="195.5" y1="1392.5" x2="210.5" y2="1392.5"/>
<line x1="195.5" y1="1368.5" x2="210.5" y2="1368.5"/>
<line x1="195.5" y1="1341.5" x2="210.5" y2="1341.5"/>
<line x1="195.5" y1="1317.5" x2="210.5" y2="1317.5"/>
</g>
<g font-size="36.5">
<text x="195.8" y="2216.9" text-anchor="middle">0.1</text>
<text x="303.3" y="2216.9" text-anchor="middle">0.2</text>
<text x="410.7" y="2216.9" text-anchor="middle">0.3</text>
<text x="518.2" y="2216.9" text-anchor="middle">0.4</text>
<text x="625.7" y="2216.9" text-anchor="middle">0.5</text>
<text x="733.1" y="2216.9" text-anchor="middle">0.6</text>
<text x="840.6" y="2216.9" text-anchor="middle">0.7</text>
<text x="948" y="2216.9" text-anchor="middle">0.8</text>
<text x="1055.5" y="2216.9" text-anchor="middle">0.9</text>
<text x="189.5" y="2196.3" text-anchor="end" font-size="36.5">0</text>
<text x="189.5" y="2070.3" text-anchor="end" font-size="36.5">100</text>
<text x="189.5" y="1941.3" text-anchor="end" font-size="36.5">200</text>
<text x="189.5" y="1815.3" text-anchor="end" font-size="36.5">300</text>
<text x="189.5" y="1689.3" text-anchor="end" font-size="36.5">400</text>
<text x="189.5" y="1560.3" text-anchor="end" font-size="36.5">500</text>
<text x="189.5" y="1434.3" text-anchor="end" font-size="36.5">600</text>
</g>
<text x="1053.4" y="2255.8" font-size="35.7" text-anchor="end">alpha</text>
<text x="116.5" y="1293.9" font-size="36" text-anchor="end" transform="rotate(-90 116.5 1293.9)">Projection of RooEvaluatorWrapper</text>
<text x="355.3" y="1238.9" font-size="54" text-anchor="start">A RooPlot of "alpha"</text>
<rect x="1389.5" y="1293.5" width="861" height="888" fill="none" stroke="#000" stroke-width="1" shape-rendering="crispEdges"/>
<g stroke="#000" stroke-width="1" shape-rendering="crispEdges">
<line x1="1395.5" y1="2181.5" x2="1395.5" y2="2166.5"/>
<line x1="1389.5" y1="2166.5" x2="1401.5" y2="2166.5"/>
<line x1="1404.5" y1="2181.5" x2="1404.5" y2="2166.5"/>
<line x1="1397.5" y1="2166.5" x2="1410.5" y2="2166.5"/>
<line x1="1410.5" y1="2181.5" x2="1410.5" y2="2166.5"/>
<line x1="1403.5" y1="2166.5" x2="1416.5" y2="2166.5"/>
<line x1="1419.5" y1="2181.5" x2="1419.5" y2="2166.5"/>
<line x1="1412.5" y1="2166.5" x2="1425.5" y2="2166.5"/>
<line x1="1428.5" y1="2181.5" x2="1428.5" y2="2166.5"/>
<line x1="1421.5" y1="2166.5" x2="1434.5" y2="2166.5"/>
<line x1="1437.5" y1="2181.5" x2="1437.5" y2="2166.5"/>
<line x1="1430.5" y1="2166.5" x2="1443.5" y2="2166.5"/>
<line x1="1446.5" y1="2181.5" x2="1446.5" y2="2166.5"/>
<line x1="1439.5" y1="2166.5" x2="1452.5" y2="2166.5"/>
<line x1="1455.5" y1="2178.5" x2="1455.5" y2="2136.5"/>
<line x1="1448.5" y1="2136.5" x2="1461.5" y2="2136.5"/>
<line x1="1448.5" y1="2178.5" x2="1461.5" y2="2178.5"/>
<line x1="1464.5" y1="2181.5" x2="1464.5" y2="2166.5"/>
<line x1="1457.5" y1="2166.5" x2="1470.5" y2="2166.5"/>
<line x1="1470.5" y1="2163.5" x2="1470.5" y2="2100.5"/>
<line x1="1463.5" y1="2100.5" x2="1476.5" y2="2100.5"/>
<line x1="1463.5" y1="2163.5" x2="1476.5" y2="2163.5"/>
<line x1="1479.5" y1="2112.5" x2="1479.5" y2="2019.5"/>
<line x1="1472.5" y1="2019.5" x2="1485.5" y2="2019.5"/>
<line x1="1472.5" y1="2112.5" x2="1485.5" y2="2112.5"/>
<line x1="1488.5" y1="2112.5" x2="1488.5" y2="2019.5"/>
<line x1="1481.5" y1="2019.5" x2="1494.5" y2="2019.5"/>
<line x1="1481.5" y1="2112.5" x2="1494.5" y2="2112.5"/>
<line x1="1497.5" y1="2088.5" x2="1497.5" y2="1989.5"/>
<line x1="1490.5" y1="1989.5" x2="1503.5" y2="1989.5"/>
<line x1="1490.5" y1="2088.5" x2="1503.5" y2="2088.5"/>
<line x1="1506.5" y1="1947.5" x2="1506.5" y2="1806.5"/>
<line x1="1499.5" y1="1806.5" x2="1512.5" y2="1806.5"/>
<line x1="1499.5" y1="1947.5" x2="1512.5" y2="1947.5"/>
<line x1="1515.5" y1="2031.5" x2="1515.5" y2="1911.5"/>
<line x1="1508.5" y1="1911.5" x2="1521.5" y2="1911.5"/>
<line x1="1508.5" y1="2031.5" x2="1521.5" y2="2031.5"/>
<line x1="1524.5" y1="1971.5" x2="1524.5" y2="1836.5"/>
<line x1="1517.5" y1="1836.5" x2="1530.5" y2="1836.5"/>
<line x1="1517.5" y1="1971.5" x2="1530.5" y2="1971.5"/>
<line x1="1533.5" y1="1872.5" x2="1533.5" y2="1716.5"/>
<line x1="1526.5" y1="1716.5" x2="1539.5" y2="1716.5"/>
<line x1="1526.5" y1="1872.5" x2="1539.5" y2="1872.5"/>
<line x1="1539.5" y1="1872.5" x2="1539.5" y2="1716.5"/>
<line x1="1532.5" y1="1716.5" x2="1545.5" y2="1716.5"/>
<line x1="1532.5" y1="1872.5" x2="1545.5" y2="1872.5"/>
<line x1="1548.5" y1="1860.5" x2="1548.5" y2="1701.5"/>
<line x1="1541.5" y1="1701.5" x2="1554.5" y2="1701.5"/>
<line x1="1541.5" y1="1860.5" x2="1554.5" y2="1860.5"/>
<line x1="1557.5" y1="1773.5" x2="1557.5" y2="1596.5"/>
<line x1="1550.5" y1="1596.5" x2="1563.5" y2="1596.5"/>
<line x1="1550.5" y1="1773.5" x2="1563.5" y2="1773.5"/>
<line x1="1566.5" y1="1749.5" x2="1566.5" y2="1569.5"/>
<line x1="1559.5" y1="1569.5" x2="1572.5" y2="1569.5"/>
<line x1="1559.5" y1="1749.5" x2="1572.5" y2="1749.5"/>
<line x1="1575.5" y1="1773.5" x2="1575.5" y2="1596.5"/>
<line x1="1568.5" y1="1596.5" x2="1581.5" y2="1596.5"/>
<line x1="1568.5" y1="1773.5" x2="1581.5" y2="1773.5"/>
<line x1="1584.5" y1="1848.5" x2="1584.5" y2="1686.5"/>
<line x1="1577.5" y1="1686.5" x2="1590.5" y2="1686.5"/>
<line x1="1577.5" y1="1848.5" x2="1590.5" y2="1848.5"/>
<line x1="1593.5" y1="1725.5" x2="1593.5" y2="1539.5"/>
<line x1="1586.5" y1="1539.5" x2="1599.5" y2="1539.5"/>
<line x1="1586.5" y1="1725.5" x2="1599.5" y2="1725.5"/>
<line x1="1599.5" y1="1674.5" x2="1599.5" y2="1479.5"/>
<line x1="1592.5" y1="1479.5" x2="1605.5" y2="1479.5"/>
<line x1="1592.5" y1="1674.5" x2="1605.5" y2="1674.5"/>
<line x1="1608.5" y1="1773.5" x2="1608.5" y2="1596.5"/>
<line x1="1601.5" y1="1596.5" x2="1614.5" y2="1596.5"/>
<line x1="1601.5" y1="1773.5" x2="1614.5" y2="1773.5"/>
<line x1="1617.5" y1="1713.5" x2="1617.5" y2="1524.5"/>
<line x1="1610.5" y1="1524.5" x2="1623.5" y2="1524.5"/>
<line x1="1610.5" y1="1713.5" x2="1623.5" y2="1713.5"/>
<line x1="1626.5" y1="1773.5" x2="1626.5" y2="1596.5"/>
<line x1="1619.5" y1="1596.5" x2="1632.5" y2="1596.5"/>
<line x1="1619.5" y1="1773.5" x2="1632.5" y2="1773.5"/>
<line x1="1635.5" y1="1548.5" x2="1635.5" y2="1335.5"/>
<line x1="1628.5" y1="1335.5" x2="1641.5" y2="1335.5"/>
<line x1="1628.5" y1="1548.5" x2="1641.5" y2="1548.5"/>
<line x1="1644.5" y1="1749.5" x2="1644.5" y2="1569.5"/>
<line x1="1637.5" y1="1569.5" x2="1650.5" y2="1569.5"/>
<line x1="1637.5" y1="1749.5" x2="1650.5" y2="1749.5"/>
<line x1="1653.5" y1="1785.5" x2="1653.5" y2="1611.5"/>
<line x1="1646.5" y1="1611.5" x2="1659.5" y2="1611.5"/>
<line x1="1646.5" y1="1785.5" x2="1659.5" y2="1785.5"/>
<line x1="1662.5" y1="1773.5" x2="1662.5" y2="1596.5"/>
<line x1="1655.5" y1="1596.5" x2="1668.5" y2="1596.5"/>
<line x1="1655.5" y1="1773.5" x2="1668.5" y2="1773.5"/>
<line x1="1668.5" y1="1662.5" x2="1668.5" y2="1464.5"/>
<line x1="1661.5" y1="1464.5" x2="1674.5" y2="1464.5"/>
<line x1="1661.5" y1="1662.5" x2="1674.5" y2="1662.5"/>
<line x1="1677.5" y1="1761.5" x2="1677.5" y2="1584.5"/>
<line x1="1670.5" y1="1584.5" x2="1683.5" y2="1584.5"/>
<line x1="1670.5" y1="1761.5" x2="1683.5" y2="1761.5"/>
<line x1="1686.5" y1="1749.5" x2="1686.5" y2="1569.5"/>
<line x1="1679.5" y1="1569.5" x2="1692.5" y2="1569.5"/>
<line x1="1679.5" y1="1749.5" x2="1692.5" y2="1749.5"/>
<line x1="1695.5" y1="1884.5" x2="1695.5" y2="1731.5"/>
<line x1="1688.5" y1="1731.5" x2="1701.5" y2="1731.5"/>
<line x1="1688.5" y1="1884.5" x2="1701.5" y2="1884.5"/>
<line x1="1704.5" y1="1959.5" x2="1704.5" y2="1821.5"/>
<line x1="1697.5" y1="1821.5" x2="1710.5" y2="1821.5"/>
<line x1="1697.5" y1="1959.5" x2="1710.5" y2="1959.5"/>
<line x1="1713.5" y1="1935.5" x2="1713.5" y2="1791.5"/>
<line x1="1706.5" y1="1791.5" x2="1719.5" y2="1791.5"/>
<line x1="1706.5" y1="1935.5" x2="1719.5" y2="1935.5"/>
<line x1="1722.5" y1="1911.5" x2="1722.5" y2="1761.5"/>
<line x1="1715.5" y1="1761.5" x2="1728.5" y2="1761.5"/>
<line x1="1715.5" y1="1911.5" x2="1728.5" y2="1911.5"/>
<line x1="1728.5" y1="1947.5" x2="1728.5" y2="1806.5"/>
<line x1="1721.5" y1="1806.5" x2="1734.5" y2="1806.5"/>
<line x1="1721.5" y1="1947.5" x2="1734.5" y2="1947.5"/>
<line x1="1737.5" y1="1983.5" x2="1737.5" y2="1851.5"/>
<line x1="1730.5" y1="1851.5" x2="1743.5" y2="1851.5"/>
<line x1="1730.5" y1="1983.5" x2="1743.5" y2="1983.5"/>
<line x1="1746.5" y1="1995.5" x2="1746.5" y2="1866.5"/>
<line x1="1739.5" y1="1866.5" x2="1752.5" y2="1866.5"/>
<line x1="1739.5" y1="1995.5" x2="1752.5" y2="1995.5"/>
<line x1="1755.5" y1="2076.5" x2="1755.5" y2="1971.5"/>
<line x1="1748.5" y1="1971.5" x2="1761.5" y2="1971.5"/>
<line x1="1748.5" y1="2076.5" x2="1761.5" y2="2076.5"/>
<line x1="1764.5" y1="2064.5" x2="1764.5" y2="1956.5"/>
<line x1="1757.5" y1="1956.5" x2="1770.5" y2="1956.5"/>
<line x1="1757.5" y1="2064.5" x2="1770.5" y2="2064.5"/>
<line x1="1773.5" y1="2100.5" x2="1773.5" y2="2004.5"/>
<line x1="1766.5" y1="2004.5" x2="1779.5" y2="2004.5"/>
<line x1="1766.5" y1="2100.5" x2="1779.5" y2="2100.5"/>
<line x1="1782.5" y1="2133.5" x2="1782.5" y2="2052.5"/>
<line x1="1775.5" y1="2052.5" x2="1788.5" y2="2052.5"/>
<line x1="1775.5" y1="2133.5" x2="1788.5" y2="2133.5"/>
<line x1="1791.5" y1="2133.5" x2="1791.5" y2="2052.5"/>
<line x1="1784.5" y1="2052.5" x2="1797.5" y2="2052.5"/>
<line x1="1784.5" y1="2133.5" x2="1797.5" y2="2133.5"/>
<line x1="1797.5" y1="2142.5" x2="1797.5" y2="2067.5"/>
<line x1="1790.5" y1="2067.5" x2="1803.5" y2="2067.5"/>
<line x1="1790.5" y1="2142.5" x2="1803.5" y2="2142.5"/>
<line x1="1806.5" y1="2181.5" x2="1806.5" y2="2166.5"/>
<line x1="1799.5" y1="2166.5" x2="1812.5" y2="2166.5"/>
<line x1="1815.5" y1="2178.5" x2="1815.5" y2="2136.5"/>
<line x1="1808.5" y1="2136.5" x2="1821.5" y2="2136.5"/>
<line x1="1808.5" y1="2178.5" x2="1821.5" y2="2178.5"/>
<line x1="1824.5" y1="2178.5" x2="1824.5" y2="2136.5"/>
<line x1="1817.5" y1="2136.5" x2="1830.5" y2="2136.5"/>
<line x1="1817.5" y1="2178.5" x2="1830.5" y2="2178.5"/>
<line x1="1833.5" y1="2178.5" x2="1833.5" y2="2136.5"/>
<line x1="1826.5" y1="2136.5" x2="1839.5" y2="2136.5"/>
<line x1="1826.5" y1="2178.5" x2="1839.5" y2="2178.5"/>
<line x1="1842.5" y1="2181.5" x2="1842.5" y2="2166.5"/>
<line x1="1835.5" y1="2166.5" x2="1848.5" y2="2166.5"/>
<line x1="1851.5" y1="2181.5" x2="1851.5" y2="2166.5"/>
<line x1="1844.5" y1="2166.5" x2="1857.5" y2="2166.5"/>
<line x1="1857.5" y1="2178.5" x2="1857.5" y2="2136.5"/>
<line x1="1850.5" y1="2136.5" x2="1863.5" y2="2136.5"/>
<line x1="1850.5" y1="2178.5" x2="1863.5" y2="2178.5"/>
<line x1="1866.5" y1="2181.5" x2="1866.5" y2="2166.5"/>
<line x1="1859.5" y1="2166.5" x2="1872.5" y2="2166.5"/>
<line x1="1875.5" y1="2181.5" x2="1875.5" y2="2166.5"/>
<line x1="1868.5" y1="2166.5" x2="1881.5" y2="2166.5"/>
<line x1="1884.5" y1="2181.5" x2="1884.5" y2="2166.5"/>
<line x1="1877.5" y1="2166.5" x2="1890.5" y2="2166.5"/>
<line x1="1893.5" y1="2181.5" x2="1893.5" y2="2166.5"/>
<line x1="1886.5" y1="2166.5" x2="1899.5" y2="2166.5"/>
<line x1="1902.5" y1="2181.5" x2="1902.5" y2="2166.5"/>
<line x1="1895.5" y1="2166.5" x2="1908.5" y2="2166.5"/>
<line x1="1911.5" y1="2181.5" x2="1911.5" y2="2166.5"/>
<line x1="1904.5" y1="2166.5" x2="1917.5" y2="2166.5"/>
<line x1="1920.5" y1="2181.5" x2="1920.5" y2="2166.5"/>
<line x1="1913.5" y1="2166.5" x2="1926.5" y2="2166.5"/>
<line x1="1926.5" y1="2181.5" x2="1926.5" y2="2166.5"/>
<line x1="1919.5" y1="2166.5" x2="1932.5" y2="2166.5"/>
<line x1="1935.5" y1="2181.5" x2="1935.5" y2="2166.5"/>
<line x1="1928.5" y1="2166.5" x2="1941.5" y2="2166.5"/>
<line x1="1944.5" y1="2181.5" x2="1944.5" y2="2166.5"/>
<line x1="1937.5" y1="2166.5" x2="1950.5" y2="2166.5"/>
<line x1="1953.5" y1="2181.5" x2="1953.5" y2="2166.5"/>
<line x1="1946.5" y1="2166.5" x2="1959.5" y2="2166.5"/>
<line x1="1962.5" y1="2181.5" x2="1962.5" y2="2166.5"/>
<line x1="1955.5" y1="2166.5" x2="1968.5" y2="2166.5"/>
<line x1="1971.5" y1="2181.5" x2="1971.5" y2="2166.5"/>
<line x1="1964.5" y1="2166.5" x2="1977.5" y2="2166.5"/>
<line x1="1980.5" y1="2181.5" x2="1980.5" y2="2166.5"/>
<line x1="1973.5" y1="2166.5" x2="1986.5" y2="2166.5"/>
<line x1="1986.5" y1="2181.5" x2="1986.5" y2="2166.5"/>
<line x1="1979.5" y1="2166.5" x2="1992.5" y2="2166.5"/>
<line x1="1995.5" y1="2181.5" x2="1995.5" y2="2166.5"/>
<line x1="1988.5" y1="2166.5" x2="2001.5" y2="2166.5"/>
<line x1="2004.5" y1="2181.5" x2="2004.5" y2="2166.5"/>
<line x1="1997.5" y1="2166.5" x2="2010.5" y2="2166.5"/>
<line x1="2013.5" y1="2181.5" x2="2013.5" y2="2166.5"/>
<line x1="2006.5" y1="2166.5" x2="2019.5" y2="2166.5"/>
<line x1="2022.5" y1="2181.5" x2="2022.5" y2="2166.5"/>
<line x1="2015.5" y1="2166.5" x2="2028.5" y2="2166.5"/>
<line x1="2031.5" y1="2181.5" x2="2031.5" y2="2166.5"/>
<line x1="2024.5" y1="2166.5" x2="2037.5" y2="2166.5"/>
<line x1="2040.5" y1="2181.5" x2="2040.5" y2="2166.5"/>
<line x1="2033.5" y1="2166.5" x2="2046.5" y2="2166.5"/>
<line x1="2046.5" y1="2181.5" x2="2046.5" y2="2166.5"/>
<line x1="2039.5" y1="2166.5" x2="2052.5" y2="2166.5"/>
<line x1="2055.5" y1="2181.5" x2="2055.5" y2="2166.5"/>
<line x1="2048.5" y1="2166.5" x2="2061.5" y2="2166.5"/>
<line x1="2064.5" y1="2181.5" x2="2064.5" y2="2166.5"/>
<line x1="2057.5" y1="2166.5" x2="2070.5" y2="2166.5"/>
<line x1="2073.5" y1="2181.5" x2="2073.5" y2="2166.5"/>
<line x1="2066.5" y1="2166.5" x2="2079.5" y2="2166.5"/>
<line x1="2082.5" y1="2181.5" x2="2082.5" y2="2166.5"/>
<line x1="2075.5" y1="2166.5" x2="2088.5" y2="2166.5"/>
<line x1="2091.5" y1="2181.5" x2="2091.5" y2="2166.5"/>
<line x1="2084.5" y1="2166.5" x2="2097.5" y2="2166.5"/>
<line x1="2100.5" y1="2181.5" x2="2100.5" y2="2166.5"/>
<line x1="2093.5" y1="2166.5" x2="2106.5" y2="2166.5"/>
<line x1="2109.5" y1="2181.5" x2="2109.5" y2="2166.5"/>
<line x1="2102.5" y1="2166.5" x2="2115.5" y2="2166.5"/>
<line x1="2115.5" y1="2181.5" x2="2115.5" y2="2166.5"/>
<line x1="2108.5" y1="2166.5" x2="2121.5" y2="2166.5"/>
<line x1="2124.5" y1="2181.5" x2="2124.5" y2="2166.5"/>
<line x1="2117.5" y1="2166.5" x2="2130.5" y2="2166.5"/>
<line x1="2133.5" y1="2181.5" x2="2133.5" y2="2166.5"/>
<line x1="2126.5" y1="2166.5" x2="2139.5" y2="2166.5"/>
<line x1="2142.5" y1="2181.5" x2="2142.5" y2="2166.5"/>
<line x1="2135.5" y1="2166.5" x2="2148.5" y2="2166.5"/>
<line x1="2151.5" y1="2181.5" x2="2151.5" y2="2166.5"/>
<line x1="2144.5" y1="2166.5" x2="2157.5" y2="2166.5"/>
<line x1="2160.5" y1="2181.5" x2="2160.5" y2="2166.5"/>
<line x1="2153.5" y1="2166.5" x2="2166.5" y2="2166.5"/>
<line x1="2169.5" y1="2181.5" x2="2169.5" y2="2166.5"/>
<line x1="2162.5" y1="2166.5" x2="2175.5" y2="2166.5"/>
<line x1="2175.5" y1="2181.5" x2="2175.5" y2="2166.5"/>
<line x1="2168.5" y1="2166.5" x2="2181.5" y2="2166.5"/>
<line x1="2184.5" y1="2181.5" x2="2184.5" y2="2166.5"/>
<line x1="2177.5" y1="2166.5" x2="2190.5" y2="2166.5"/>
<line x1="2193.5" y1="2181.5" x2="2193.5" y2="2166.5"/>
<line x1="2186.5" y1="2166.5" x2="2199.5" y2="2166.5"/>
<line x1="2202.5" y1="2181.5" x2="2202.5" y2="2166.5"/>
<line x1="2195.5" y1="2166.5" x2="2208.5" y2="2166.5"/>
<line x1="2211.5" y1="2181.5" x2="2211.5" y2="2166.5"/>
<line x1="2204.5" y1="2166.5" x2="2217.5" y2="2166.5"/>
<line x1="2220.5" y1="2181.5" x2="2220.5" y2="2166.5"/>
<line x1="2213.5" y1="2166.5" x2="2226.5" y2="2166.5"/>
<line x1="2229.5" y1="2181.5" x2="2229.5" y2="2166.5"/>
<line x1="2222.5" y1="2166.5" x2="2235.5" y2="2166.5"/>
<line x1="2238.5" y1="2181.5" x2="2238.5" y2="2166.5"/>
<line x1="2231.5" y1="2166.5" x2="2244.5" y2="2166.5"/>
<line x1="2244.5" y1="2181.5" x2="2244.5" y2="2166.5"/>
<line x1="2237.5" y1="2166.5" x2="2250.5" y2="2166.5"/>
</g>
<g fill="#000">
<circle cx="1395.5" cy="2181.5" r="12.5"/>
<circle cx="1404.5" cy="2181.5" r="12.5"/>
<circle cx="1410.5" cy="2181.5" r="12.5"/>
<circle cx="1419.5" cy="2181.5" r="12.5"/>
<circle cx="1428.5" cy="2181.5" r="12.5"/>
<circle cx="1437.5" cy="2181.5" r="12.5"/>
<circle cx="1446.5" cy="2181.5" r="12.5"/>
<circle cx="1455.5" cy="2169.5" r="12.5"/>
<circle cx="1464.5" cy="2181.5" r="12.5"/>
<circle cx="1470.5" cy="2142.5" r="12.5"/>
<circle cx="1479.5" cy="2073.5" r="12.5"/>
<circle cx="1488.5" cy="2073.5" r="12.5"/>
<circle cx="1497.5" cy="2046.5" r="12.5"/>
<circle cx="1506.5" cy="1884.5" r="12.5"/>
<circle cx="1515.5" cy="1977.5" r="12.5"/>
<circle cx="1524.5" cy="1911.5" r="12.5"/>
<circle cx="1533.5" cy="1803.5" r="12.5"/>
<circle cx="1539.5" cy="1803.5" r="12.5"/>
<circle cx="1548.5" cy="1788.5" r="12.5"/>
<circle cx="1557.5" cy="1692.5" r="12.5"/>
<circle cx="1566.5" cy="1665.5" r="12.5"/>
<circle cx="1575.5" cy="1692.5" r="12.5"/>
<circle cx="1584.5" cy="1773.5" r="12.5"/>
<circle cx="1593.5" cy="1638.5" r="12.5"/>
<circle cx="1599.5" cy="1584.5" r="12.5"/>
<circle cx="1608.5" cy="1692.5" r="12.5"/>
<circle cx="1617.5" cy="1626.5" r="12.5"/>
<circle cx="1626.5" cy="1692.5" r="12.5"/>
<circle cx="1635.5" cy="1449.5" r="12.5"/>
<circle cx="1644.5" cy="1665.5" r="12.5"/>
<circle cx="1653.5" cy="1707.5" r="12.5"/>
<circle cx="1662.5" cy="1692.5" r="12.5"/>
<circle cx="1668.5" cy="1572.5" r="12.5"/>
<circle cx="1677.5" cy="1680.5" r="12.5"/>
<circle cx="1686.5" cy="1665.5" r="12.5"/>
<circle cx="1695.5" cy="1815.5" r="12.5"/>
<circle cx="1704.5" cy="1896.5" r="12.5"/>
<circle cx="1713.5" cy="1869.5" r="12.5"/>
<circle cx="1722.5" cy="1842.5" r="12.5"/>
<circle cx="1728.5" cy="1884.5" r="12.5"/>
<circle cx="1737.5" cy="1923.5" r="12.5"/>
<circle cx="1746.5" cy="1938.5" r="12.5"/>
<circle cx="1755.5" cy="2031.5" r="12.5"/>
<circle cx="1764.5" cy="2019.5" r="12.5"/>
<circle cx="1773.5" cy="2058.5" r="12.5"/>
<circle cx="1782.5" cy="2100.5" r="12.5"/>
<circle cx="1791.5" cy="2100.5" r="12.5"/>
<circle cx="1797.5" cy="2115.5" r="12.5"/>
<circle cx="1806.5" cy="2181.5" r="12.5"/>
<circle cx="1815.5" cy="2169.5" r="12.5"/>
<circle cx="1824.5" cy="2169.5" r="12.5"/>
<circle cx="1833.5" cy="2169.5" r="12.5"/>
<circle cx="1842.5" cy="2181.5" r="12.5"/>
<circle cx="1851.5" cy="2181.5" r="12.5"/>
<circle cx="1857.5" cy="2169.5" r="12.5"/>
<circle cx="1866.5" cy="2181.5" r="12.5"/>
<circle cx="1875.5" cy="2181.5" r="12.5"/>
<circle cx="1884.5" cy="2181.5" r="12.5"/>
<circle cx="1893.5" cy="2181.5" r="12.5"/>
<circle cx="1902.5" cy="2181.5" r="12.5"/>
<circle cx="1911.5" cy="2181.5" r="12.5"/>
<circle cx="1920.5" cy="2181.5" r="12.5"/>
<circle cx="1926.5" cy="2181.5" r="12.5"/>
<circle cx="1935.5" cy="2181.5" r="12.5"/>
<circle cx="1944.5" cy="2181.5" r="12.5"/>
<circle cx="1953.5" cy="2181.5" r="12.5"/>
<circle cx="1962.5" cy="2181.5" r="12.5"/>
<circle cx="1971.5" cy="2181.5" r="12.5"/>
<circle cx="1980.5" cy="2181.5" r="12.5"/>
<circle cx="1986.5" cy="2181.5" r="12.5"/>
<circle cx="1995.5" cy="2181.5" r="12.5"/>
<circle cx="2004.5" cy="2181.5" r="12.5"/>
<circle cx="2013.5" cy="2181.5" r="12.5"/>
<circle cx="2022.5" cy="2181.5" r="12.5"/>
<circle cx="2031.5" cy="2181.5" r="12.5"/>
<circle cx="2040.5" cy="2181.5" r="12.5"/>
<circle cx="2046.5" cy="2181.5" r="12.5"/>
<circle cx="2055.5" cy="2181.5" r="12.5"/>
<circle cx="2064.5" cy="2181.5" r="12.5"/>
<circle cx="2073.5" cy="2181.5" r="12.5"/>
<circle cx="2082.5" cy="2181.5" r="12.5"/>
<circle cx="2091.5" cy="2181.5" r="12.5"/>
<circle cx="2100.5" cy="2181.5" r="12.5"/>
<circle cx="2109.5" cy="2181.5" r="12.5"/>
<circle cx="2115.5" cy="2181.5" r="12.5"/>
<circle cx="2124.5" cy="2181.5" r="12.5"/>
<circle cx="2133.5" cy="2181.5" r="12.5"/>
<circle cx="2142.5" cy="2181.5" r="12.5"/>
<circle cx="2151.5" cy="2181.5" r="12.5"/>
<circle cx="2160.5" cy="2181.5" r="12.5"/>
<circle cx="2169.5" cy="2181.5" r="12.5"/>
<circle cx="2175.5" cy="2181.5" r="12.5"/>
<circle cx="2184.5" cy="2181.5" r="12.5"/>
<circle cx="2193.5" cy="2181.5" r="12.5"/>
<circle cx="2202.5" cy="2181.5" r="12.5"/>
<circle cx="2211.5" cy="2181.5" r="12.5"/>
<circle cx="2220.5" cy="2181.5" r="12.5"/>
<circle cx="2229.5" cy="2181.5" r="12.5"/>
<circle cx="2238.5" cy="2181.5" r="12.5"/>
<circle cx="2244.5" cy="2181.5" r="12.5"/>
</g>
<path d="M1389.5 2181.5L1398.5 2181.5L1407.5 2181.5L1416.5 2181.5L1425.5 2181.5L1434.5 2181.5L1440.5 2178.5L1449.5 2175.5L1455.5 2172.5L1458.5 2166.5L1464.5 2160.5L1467.5 2154.5L1470.5 2142.5L1476.5 2127.5L1479.5 2112.5L1485.5 2094.5L1488.5 2070.5L1494.5 2046.5L1497.5 2019.5L1503.5 1992.5L1509.5 1935.5L1518.5 1878.5L1524.5 1854.5L1527.5 1830.5L1533.5 1806.5L1536.5 1785.5L1539.5 1767.5L1545.5 1749.5L1548.5 1731.5L1554.5 1716.5L1557.5 1704.5L1563.5 1692.5L1566.5 1683.5L1569.5 1671.5L1575.5 1665.5L1578.5 1659.5L1587.5 1647.5L1596.5 1641.5L1605.5 1638.5L1614.5 1638.5L1623.5 1644.5L1632.5 1650.5L1638.5 1662.5L1647.5 1674.5L1656.5 1689.5L1665.5 1707.5L1674.5 1728.5L1683.5 1752.5L1692.5 1776.5L1698.5 1800.5L1707.5 1830.5L1716.5 1857.5L1725.5 1887.5L1734.5 1917.5L1743.5 1947.5L1752.5 1977.5L1758.5 2007.5L1767.5 2034.5L1776.5 2061.5L1785.5 2088.5L1794.5 2109.5L1803.5 2127.5L1812.5 2145.5L1821.5 2157.5L1827.5 2166.5L1836.5 2172.5L1845.5 2178.5L1854.5 2178.5L1863.5 2181.5L1872.5 2181.5L1881.5 2181.5L1887.5 2181.5L1896.5 2181.5L1905.5 2181.5L1914.5 2181.5L1923.5 2181.5L1932.5 2181.5L1941.5 2181.5L1950.5 2181.5L1956.5 2181.5L1965.5 2181.5L1974.5 2181.5L1983.5 2181.5L1992.5 2181.5L2001.5 2181.5L2010.5 2181.5L2016.5 2181.5L2025.5 2181.5L2034.5 2181.5L2043.5 2181.5L2052.5 2181.5L2061.5 2181.5L2070.5 2181.5L2079.5 2181.5L2085.5 2181.5L2094.5 2181.5L2103.5 2181.5L2112.5 2181.5L2121.5 2181.5L2130.5 2181.5L2139.5 2181.5L2145.5 2181.5L2154.5 2181.5L2163.5 2181.5L2172.5 2181.5L2181.5 2181.5L2190.5 2181.5L2199.5 2181.5L2208.5 2181.5L2214.5 2181.5L2223.5 2181.5L2232.5 2181.5L2241.5 2181.5L2250.5 2181.5" fill="none" stroke="#0000ff" stroke-width="3" stroke-linejoin="bevel" shape-rendering="crispEdges"/>
<g stroke="#000" stroke-width="1" shape-rendering="crispEdges">
<rect x="1389.5" y="1293.5" width="861" height="888" fill="none"/>
<line x1="1389.5" y1="2181.5" x2="1389.5" y2="2156.5"/>
<line x1="1410.5" y1="2181.5" x2="1410.5" y2="2168.5"/>
<line x1="1434.5" y1="2181.5" x2="1434.5" y2="2168.5"/>
<line x1="1455.5" y1="2181.5" x2="1455.5" y2="2168.5"/>
<line x1="1476.5" y1="2181.5" x2="1476.5" y2="2168.5"/>
<line x1="1497.5" y1="2181.5" x2="1497.5" y2="2156.5"/>
<line x1="1518.5" y1="2181.5" x2="1518.5" y2="2168.5"/>
<line x1="1539.5" y1="2181.5" x2="1539.5" y2="2168.5"/>
<line x1="1563.5" y1="2181.5" x2="1563.5" y2="2168.5"/>
<line x1="1584.5" y1="2181.5" x2="1584.5" y2="2168.5"/>
<line x1="1605.5" y1="2181.5" x2="1605.5" y2="2156.5"/>
<line x1="1626.5" y1="2181.5" x2="1626.5" y2="2168.5"/>
<line x1="1647.5" y1="2181.5" x2="1647.5" y2="2168.5"/>
<line x1="1668.5" y1="2181.5" x2="1668.5" y2="2168.5"/>
<line x1="1692.5" y1="2181.5" x2="1692.5" y2="2168.5"/>
<line x1="1713.5" y1="2181.5" x2="1713.5" y2="2156.5"/>
<line x1="1734.5" y1="2181.5" x2="1734.5" y2="2168.5"/>
<line x1="1755.5" y1="2181.5" x2="1755.5" y2="2168.5"/>
<line x1="1776.5" y1="2181.5" x2="1776.5" y2="2168.5"/>
<line x1="1797.5" y1="2181.5" x2="1797.5" y2="2168.5"/>
<line x1="1821.5" y1="2181.5" x2="1821.5" y2="2156.5"/>
<line x1="1842.5" y1="2181.5" x2="1842.5" y2="2168.5"/>
<line x1="1863.5" y1="2181.5" x2="1863.5" y2="2168.5"/>
<line x1="1884.5" y1="2181.5" x2="1884.5" y2="2168.5"/>
<line x1="1905.5" y1="2181.5" x2="1905.5" y2="2168.5"/>
<line x1="1926.5" y1="2181.5" x2="1926.5" y2="2156.5"/>
<line x1="1950.5" y1="2181.5" x2="1950.5" y2="2168.5"/>
<line x1="1971.5" y1="2181.5" x2="1971.5" y2="2168.5"/>
<line x1="1992.5" y1="2181.5" x2="1992.5" y2="2168.5"/>
<line x1="2013.5" y1="2181.5" x2="2013.5" y2="2168.5"/>
<line x1="2034.5" y1="2181.5" x2="2034.5" y2="2156.5"/>
<line x1="2055.5" y1="2181.5" x2="2055.5" y2="2168.5"/>
<line x1="2079.5" y1="2181.5" x2="2079.5" y2="2168.5"/>
<line x1="2100.5" y1="2181.5" x2="2100.5" y2="2168.5"/>
<line x1="2121.5" y1="2181.5" x2="2121.5" y2="2168.5"/>
<line x1="2142.5" y1="2181.5" x2="2142.5" y2="2156.5"/>
<line x1="2163.5" y1="2181.5" x2="2163.5" y2="2168.5"/>
<line x1="2184.5" y1="2181.5" x2="2184.5" y2="2168.5"/>
<line x1="2208.5" y1="2181.5" x2="2208.5" y2="2168.5"/>
<line x1="2229.5" y1="2181.5" x2="2229.5" y2="2168.5"/>
<line x1="2250.5" y1="2181.5" x2="2250.5" y2="2156.5"/>
<line x1="1389.5" y1="2181.5" x2="1416.5" y2="2181.5"/>
<line x1="1389.5" y1="2154.5" x2="1404.5" y2="2154.5"/>
<line x1="1389.5" y1="2127.5" x2="1404.5" y2="2127.5"/>
<line x1="1389.5" y1="2100.5" x2="1404.5" y2="2100.5"/>
<line x1="1389.5" y1="2073.5" x2="1404.5" y2="2073.5"/>
<line x1="1389.5" y1="2046.5" x2="1416.5" y2="2046.5"/>
<line x1="1389.5" y1="2019.5" x2="1404.5" y2="2019.5"/>
<line x1="1389.5" y1="1992.5" x2="1404.5" y2="1992.5"/>
<line x1="1389.5" y1="1965.5" x2="1404.5" y2="1965.5"/>
<line x1="1389.5" y1="1938.5" x2="1404.5" y2="1938.5"/>
<line x1="1389.5" y1="1911.5" x2="1416.5" y2="1911.5"/>
<line x1="1389.5" y1="1884.5" x2="1404.5" y2="1884.5"/>
<line x1="1389.5" y1="1857.5" x2="1404.5" y2="1857.5"/>
<line x1="1389.5" y1="1830.5" x2="1404.5" y2="1830.5"/>
<line x1="1389.5" y1="1803.5" x2="1404.5" y2="1803.5"/>
<line x1="1389.5" y1="1773.5" x2="1416.5" y2="1773.5"/>
<line x1="1389.5" y1="1746.5" x2="1404.5" y2="1746.5"/>
<line x1="1389.5" y1="1719.5" x2="1404.5" y2="1719.5"/>
<line x1="1389.5" y1="1692.5" x2="1404.5" y2="1692.5"/>
<line x1="1389.5" y1="1665.5" x2="1404.5" y2="1665.5"/>
<line x1="1389.5" y1="1638.5" x2="1416.5" y2="1638.5"/>
<line x1="1389.5" y1="1611.5" x2="1404.5" y2="1611.5"/>
<line x1="1389.5" y1="1584.5" x2="1404.5" y2="1584.5"/>
<line x1="1389.5" y1="1557.5" x2="1404.5" y2="1557.5"/>
<line x1="1389.5" y1="1530.5" x2="1404.5" y2="1530.5"/>
<line x1="1389.5" y1="1503.5" x2="1416.5" y2="1503.5"/>
<line x1="1389.5" y1="1476.5" x2="1404.5" y2="1476.5"/>
<line x1="1389.5" y1="1449.5" x2="1404.5" y2="1449.5"/>
<line x1="1389.5" y1="1422.5" x2="1404.5" y2="1422.5"/>
<line x1="1389.5" y1="1395.5" x2="1404.5" y2="1395.5"/>
<line x1="1389.5" y1="1368.5" x2="1416.5" y2="1368.5"/>
<line x1="1389.5" y1="1341.5" x2="1404.5" y2="1341.5"/>
<line x1="1389.5" y1="1314.5" x2="1404.5" y2="1314.5"/>
</g>
<g font-size="36.5">
<text x="1389.8" y="2216.9" text-anchor="middle">−20</text>
<text x="1497.3" y="2216.9" text-anchor="middle">−15</text>
<text x="1604.7" y="2216.9" text-anchor="middle">−10</text>
<text x="1712.2" y="2216.9" text-anchor="middle">−5</text>
<text x="1819.7" y="2216.9" text-anchor="middle">0</text>
<text x="1927.1" y="2216.9" text-anchor="middle">5</text>
<text x="2034.6" y="2216.9" text-anchor="middle">10</text>
<text x="2142" y="2216.9" text-anchor="middle">15</text>
<text x="2249.5" y="2216.9" text-anchor="middle">20</text>
<text x="1383.5" y="2196.3" text-anchor="end" font-size="36.5">0</text>
<text x="1383.5" y="2061.3" text-anchor="end" font-size="36.5">10</text>
<text x="1383.5" y="1926.3" text-anchor="end" font-size="36.5">20</text>
<text x="1383.5" y="1788.3" text-anchor="end" font-size="36.5">30</text>
<text x="1383.5" y="1653.3" text-anchor="end" font-size="36.5">40</text>
<text x="1383.5" y="1518.3" text-anchor="end" font-size="36.5">50</text>
<text x="1383.5" y="1383.3" text-anchor="end" font-size="36.5">60</text>
</g>
<text x="2249.9" y="2255.8" font-size="35.4" text-anchor="end">x</text>
<text x="1311" y="1293.1" font-size="36" text-anchor="end" transform="rotate(-90 1311 1293.1)">Events / ( 0.4 )</text>
<text x="1624" y="1235.8" font-size="48" text-anchor="start">A RooPlot of "x"</text>
<g stroke="#000" stroke-width="1" fill="none" shape-rendering="crispEdges">
<line x1="1446.5" y1="774.5" x2="1956.5" y2="633.5"/>
<line x1="1956.5" y1="633.5" x2="2250.5" y2="879.5"/>
<line x1="1956.5" y1="633.5" x2="1956.5" y2="135.5"/>
<line x1="1446.5" y1="279.5" x2="1956.5" y2="135.5"/>
<line x1="1956.5" y1="135.5" x2="2250.5" y2="384.5"/>
<line x1="1446.5" y1="774.5" x2="1446.5" y2="279.5"/>
<line x1="2250.5" y1="879.5" x2="2250.5" y2="384.5"/>
</g>
<path d="M1447 678.5h1M1450 677.5h1M1453 676.5h1M1456 675.5h1M1459 674.5h1M1462 674.5h1M1465 673.5h1M1468 672.5h1M1471 671.5h1M1474 670.5h1M1477 669.5h1M1480 669.5h1M1483 668.5h1M1486 667.5h1M1489 666.5h1M1492 665.5h1M1495 664.5h1M1498 663.5h1M1501 663.5h1M1504 662.5h1M1507 661.5h1M1510 660.5h1M1513 659.5h1M1516 658.5h1M1519 658.5h1M1522 657.5h1M1525 656.5h1M1528 655.5h1M1531 654.5h1M1534 653.5h1M1537 652.5h1M1540 652.5h1M1543 651.5h1M1546 650.5h1M1549 649.5h1M1552 648.5h1M1555 647.5h1M1558 647.5h1M1561 646.5h1M1564 645.5h1M1567 644.5h1M1570 643.5h1M1573 642.5h1M1576 641.5h1M1579 641.5h1M1582 640.5h1M1585 639.5h1M1588 638.5h1M1591 637.5h1M1594 636.5h1M1597 636.5h1M1600 635.5h1M1603 634.5h1M1606 633.5h1M1609 632.5h1M1612 631.5h1M1615 630.5h1M1618 630.5h1M1621 629.5h1M1624 628.5h1M1627 627.5h1M1630 626.5h1M1633 625.5h1M1636 624.5h1M1639 624.5h1M1642 623.5h1M1645 622.5h1M1648 621.5h1M1651 620.5h1M1654 619.5h1M1657 619.5h1M1660 618.5h1M1663 617.5h1M1666 616.5h1M1669 615.5h1M1672 614.5h1M1675 613.5h1M1678 613.5h1M1681 612.5h1M1684 611.5h1M1687 610.5h1M1690 609.5h1M1693 608.5h1M1696 608.5h1M1699 607.5h1M1702 606.5h1M1705 605.5h1M1708 604.5h1M1711 603.5h1M1714 602.5h1M1717 602.5h1M1720 601.5h1M1723 600.5h1M1726 599.5h1M1729 598.5h1M1732 597.5h1M1735 597.5h1M1738 596.5h1M1741 595.5h1M1744 594.5h1M1747 593.5h1M1750 592.5h1M1753 591.5h1M1756 591.5h1M1759 590.5h1M1762 589.5h1M1765 588.5h1M1768 587.5h1M1771 586.5h1M1774 586.5h1M1777 585.5h1M1780 584.5h1M1783 583.5h1M1786 582.5h1M1789 581.5h1M1792 580.5h1M1795 580.5h1M1798 579.5h1M1801 578.5h1M1804 577.5h1M1807 576.5h1M1810 575.5h1M1813 575.5h1M1816 574.5h1M1819 573.5h1M1822 572.5h1M1825 571.5h1M1828 570.5h1M1831 569.5h1M1834 569.5h1M1837 568.5h1M1840 567.5h1M1843 566.5h1M1846 565.5h1M1849 564.5h1M1852 564.5h1M1855 563.5h1M1858 562.5h1M1861 561.5h1M1864 560.5h1M1867 559.5h1M1870 558.5h1M1873 558.5h1M1876 557.5h1M1879 556.5h1M1882 555.5h1M1885 554.5h1M1888 553.5h1M1891 552.5h1M1894 552.5h1M1897 551.5h1M1900 550.5h1M1903 549.5h1M1906 548.5h1M1909 547.5h1M1912 547.5h1M1915 546.5h1M1918 545.5h1M1921 544.5h1M1924 543.5h1M1927 542.5h1M1930 541.5h1M1933 541.5h1M1936 540.5h1M1939 539.5h1M1942 538.5h1M1945 537.5h1M1948 536.5h1M1951 536.5h1M1954 535.5h1M1957 534.5h1M1960 537.5h1M1963 540.5h1M1966 542.5h1M1969 545.5h1M1972 547.5h1M1975 550.5h1M1978 552.5h1M1981 555.5h1M1984 557.5h1M1987 560.5h1M1990 562.5h1M1993 565.5h1M1996 567.5h1M1999 570.5h1M2002 573.5h1M2005 575.5h1M2008 578.5h1M2011 580.5h1M2014 583.5h1M2017 585.5h1M2020 588.5h1M2023 590.5h1M2026 593.5h1M2029 595.5h1M2032 598.5h1M2035 600.5h1M2038 603.5h1M2041 606.5h1M2044 608.5h1M2047 611.5h1M2050 613.5h1M2053 616.5h1M2056 618.5h1M2059 621.5h1M2062 623.5h1M2065 626.5h1M2068 628.5h1M2071 631.5h1M2074 634.5h1M2077 636.5h1M2080 639.5h1M2083 641.5h1M2086 644.5h1M2089 646.5h1M2092 649.5h1M2095 651.5h1M2098 654.5h1M2101 656.5h1M2104 659.5h1M2107 661.5h1M2110 664.5h1M2113 667.5h1M2116 669.5h1M2119 672.5h1M2122 674.5h1M2125 677.5h1M2128 679.5h1M2131 682.5h1M2134 684.5h1M2137 687.5h1M2140 689.5h1M2143 692.5h1M2146 694.5h1M2149 697.5h1M2152 700.5h1M2155 702.5h1M2158 705.5h1M2161 707.5h1M2164 710.5h1M2167 712.5h1M2170 715.5h1M2173 717.5h1M2176 720.5h1M2179 722.5h1M2182 725.5h1M2185 728.5h1M2188 730.5h1M2191 733.5h1M2194 735.5h1M2197 738.5h1M2200 740.5h1M2203 743.5h1M2206 745.5h1M2209 748.5h1M2212 750.5h1M2215 753.5h1M2218 755.5h1M2221 758.5h1M2224 761.5h1M2227 763.5h1M2230 766.5h1M2233 768.5h1M2236 771.5h1M2239 773.5h1M2242 776.5h1M2245 778.5h1M2248 781.5h1M1447 579.5h1M1450 578.5h1M1453 577.5h1M1456 576.5h1M1459 575.5h1M1462 575.5h1M1465 574.5h1M1468 573.5h1M1471 572.5h1M1474 571.5h1M1477 570.5h1M1480 570.5h1M1483 569.5h1M1486 568.5h1M1489 567.5h1M1492 566.5h1M1495 565.5h1M1498 564.5h1M1501 564.5h1M1504 563.5h1M1507 562.5h1M1510 561.5h1M1513 560.5h1M1516 559.5h1M1519 559.5h1M1522 558.5h1M1525 557.5h1M1528 556.5h1M1531 555.5h1M1534 554.5h1M1537 553.5h1M1540 553.5h1M1543 552.5h1M1546 551.5h1M1549 550.5h1M1552 549.5h1M1555 548.5h1M1558 548.5h1M1561 547.5h1M1564 546.5h1M1567 545.5h1M1570 544.5h1M1573 543.5h1M1576 542.5h1M1579 542.5h1M1582 541.5h1M1585 540.5h1M1588 539.5h1M1591 538.5h1M1594 537.5h1M1597 537.5h1M1600 536.5h1M1603 535.5h1M1606 534.5h1M1609 533.5h1M1612 532.5h1M1615 531.5h1M1618 531.5h1M1621 530.5h1M1624 529.5h1M1627 528.5h1M1630 527.5h1M1633 526.5h1M1636 525.5h1M1639 525.5h1M1642 524.5h1M1645 523.5h1M1648 522.5h1M1651 521.5h1M1654 520.5h1M1657 520.5h1M1660 519.5h1M1663 518.5h1M1666 517.5h1M1669 516.5h1M1672 515.5h1M1675 514.5h1M1678 514.5h1M1681 513.5h1M1684 512.5h1M1687 511.5h1M1690 510.5h1M1693 509.5h1M1696 509.5h1M1699 508.5h1M1702 507.5h1M1705 506.5h1M1708 505.5h1M1711 504.5h1M1714 503.5h1M1717 503.5h1M1720 502.5h1M1723 501.5h1M1726 500.5h1M1729 499.5h1M1732 498.5h1M1735 498.5h1M1738 497.5h1M1741 496.5h1M1744 495.5h1M1747 494.5h1M1750 493.5h1M1753 492.5h1M1756 492.5h1M1759 491.5h1M1762 490.5h1M1765 489.5h1M1768 488.5h1M1771 487.5h1M1774 487.5h1M1777 486.5h1M1780 485.5h1M1783 484.5h1M1786 483.5h1M1789 482.5h1M1792 481.5h1M1795 481.5h1M1798 480.5h1M1801 479.5h1M1804 478.5h1M1807 477.5h1M1810 476.5h1M1813 476.5h1M1816 475.5h1M1819 474.5h1M1822 473.5h1M1825 472.5h1M1828 471.5h1M1831 470.5h1M1834 470.5h1M1837 469.5h1M1840 468.5h1M1843 467.5h1M1846 466.5h1M1849 465.5h1M1852 465.5h1M1855 464.5h1M1858 463.5h1M1861 462.5h1M1864 461.5h1M1867 460.5h1M1870 459.5h1M1873 459.5h1M1876 458.5h1M1879 457.5h1M1882 456.5h1M1885 455.5h1M1888 454.5h1M1891 453.5h1M1894 453.5h1M1897 452.5h1M1900 451.5h1M1903 450.5h1M1906 449.5h1M1909 448.5h1M1912 448.5h1M1915 447.5h1M1918 446.5h1M1921 445.5h1M1924 444.5h1M1927 443.5h1M1930 442.5h1M1933 442.5h1M1936 441.5h1M1939 440.5h1M1942 439.5h1M1945 438.5h1M1948 437.5h1M1951 437.5h1M1954 436.5h1M1957 435.5h1M1960 438.5h1M1963 441.5h1M1966 443.5h1M1969 446.5h1M1972 448.5h1M1975 451.5h1M1978 453.5h1M1981 456.5h1M1984 458.5h1M1987 461.5h1M1990 463.5h1M1993 466.5h1M1996 468.5h1M1999 471.5h1M2002 474.5h1M2005 476.5h1M2008 479.5h1M2011 481.5h1M2014 484.5h1M2017 486.5h1M2020 489.5h1M2023 491.5h1M2026 494.5h1M2029 496.5h1M2032 499.5h1M2035 501.5h1M2038 504.5h1M2041 507.5h1M2044 509.5h1M2047 512.5h1M2050 514.5h1M2053 517.5h1M2056 519.5h1M2059 522.5h1M2062 524.5h1M2065 527.5h1M2068 529.5h1M2071 532.5h1M2074 535.5h1M2077 537.5h1M2080 540.5h1M2083 542.5h1M2086 545.5h1M2089 547.5h1M2092 550.5h1M2095 552.5h1M2098 555.5h1M2101 557.5h1M2104 560.5h1M2107 562.5h1M2110 565.5h1M2113 568.5h1M2116 570.5h1M2119 573.5h1M2122 575.5h1M2125 578.5h1M2128 580.5h1M2131 583.5h1M2134 585.5h1M2137 588.5h1M2140 590.5h1M2143 593.5h1M2146 595.5h1M2149 598.5h1M2152 601.5h1M2155 603.5h1M2158 606.5h1M2161 608.5h1M2164 611.5h1M2167 613.5h1M2170 616.5h1M2173 618.5h1M2176 621.5h1M2179 623.5h1M2182 626.5h1M2185 629.5h1M2188 631.5h1M2191 634.5h1M2194 636.5h1M2197 639.5h1M2200 641.5h1M2203 644.5h1M2206 646.5h1M2209 649.5h1M2212 651.5h1M2215 654.5h1M2218 656.5h1M2221 659.5h1M2224 662.5h1M2227 664.5h1M2230 667.5h1M2233 669.5h1M2236 672.5h1M2239 674.5h1M2242 677.5h1M2245 679.5h1M2248 682.5h1M1447 480.5h1M1450 479.5h1M1453 478.5h1M1456 477.5h1M1459 476.5h1M1462 476.5h1M1465 475.5h1M1468 474.5h1M1471 473.5h1M1474 472.5h1M1477 471.5h1M1480 471.5h1M1483 470.5h1M1486 469.5h1M1489 468.5h1M1492 467.5h1M1495 466.5h1M1498 465.5h1M1501 465.5h1M1504 464.5h1M1507 463.5h1M1510 462.5h1M1513 461.5h1M1516 460.5h1M1519 460.5h1M1522 459.5h1M1525 458.5h1M1528 457.5h1M1531 456.5h1M1534 455.5h1M1537 454.5h1M1540 454.5h1M1543 453.5h1M1546 452.5h1M1549 451.5h1M1552 450.5h1M1555 449.5h1M1558 449.5h1M1561 448.5h1M1564 447.5h1M1567 446.5h1M1570 445.5h1M1573 444.5h1M1576 443.5h1M1579 443.5h1M1582 442.5h1M1585 441.5h1M1588 440.5h1M1591 439.5h1M1594 438.5h1M1597 438.5h1M1600 437.5h1M1603 436.5h1M1606 435.5h1M1609 434.5h1M1612 433.5h1M1615 432.5h1M1618 432.5h1M1621 431.5h1M1624 430.5h1M1627 429.5h1M1630 428.5h1M1633 427.5h1M1636 426.5h1M1639 426.5h1M1642 425.5h1M1645 424.5h1M1648 423.5h1M1651 422.5h1M1654 421.5h1M1657 421.5h1M1660 420.5h1M1663 419.5h1M1666 418.5h1M1669 417.5h1M1672 416.5h1M1675 415.5h1M1678 415.5h1M1681 414.5h1M1684 413.5h1M1687 412.5h1M1690 411.5h1M1693 410.5h1M1696 410.5h1M1699 409.5h1M1702 408.5h1M1705 407.5h1M1708 406.5h1M1711 405.5h1M1714 404.5h1M1717 404.5h1M1720 403.5h1M1723 402.5h1M1726 401.5h1M1729 400.5h1M1732 399.5h1M1735 399.5h1M1738 398.5h1M1741 397.5h1M1744 396.5h1M1747 395.5h1M1750 394.5h1M1753 393.5h1M1756 393.5h1M1759 392.5h1M1762 391.5h1M1765 390.5h1M1768 389.5h1M1771 388.5h1M1774 388.5h1M1777 387.5h1M1780 386.5h1M1783 385.5h1M1786 384.5h1M1789 383.5h1M1792 382.5h1M1795 382.5h1M1798 381.5h1M1801 380.5h1M1804 379.5h1M1807 378.5h1M1810 377.5h1M1813 377.5h1M1816 376.5h1M1819 375.5h1M1822 374.5h1M1825 373.5h1M1828 372.5h1M1831 371.5h1M1834 371.5h1M1837 370.5h1M1840 369.5h1M1843 368.5h1M1846 367.5h1M1849 366.5h1M1852 366.5h1M1855 365.5h1M1858 364.5h1M1861 363.5h1M1864 362.5h1M1867 361.5h1M1870 360.5h1M1873 360.5h1M1876 359.5h1M1879 358.5h1M1882 357.5h1M1885 356.5h1M1888 355.5h1M1891 354.5h1M1894 354.5h1M1897 353.5h1M1900 352.5h1M1903 351.5h1M1906 350.5h1M1909 349.5h1M1912 349.5h1M1915 348.5h1M1918 347.5h1M1921 346.5h1M1924 345.5h1M1927 344.5h1M1930 343.5h1M1933 343.5h1M1936 342.5h1M1939 341.5h1M1942 340.5h1M1945 339.5h1M1948 338.5h1M1951 338.5h1M1954 337.5h1M1957 336.5h1M1960 339.5h1M1963 342.5h1M1966 344.5h1M1969 347.5h1M1972 349.5h1M1975 352.5h1M1978 354.5h1M1981 357.5h1M1984 359.5h1M1987 362.5h1M1990 364.5h1M1993 367.5h1M1996 369.5h1M1999 372.5h1M2002 375.5h1M2005 377.5h1M2008 380.5h1M2011 382.5h1M2014 385.5h1M2017 387.5h1M2020 390.5h1M2023 392.5h1M2026 395.5h1M2029 397.5h1M2032 400.5h1M2035 402.5h1M2038 405.5h1M2041 408.5h1M2044 410.5h1M2047 413.5h1M2050 415.5h1M2053 418.5h1M2056 420.5h1M2059 423.5h1M2062 425.5h1M2065 428.5h1M2068 430.5h1M2071 433.5h1M2074 436.5h1M2077 438.5h1M2080 441.5h1M2083 443.5h1M2086 446.5h1M2089 448.5h1M2092 451.5h1M2095 453.5h1M2098 456.5h1M2101 458.5h1M2104 461.5h1M2107 463.5h1M2110 466.5h1M2113 469.5h1M2116 471.5h1M2119 474.5h1M2122 476.5h1M2125 479.5h1M2128 481.5h1M2131 484.5h1M2134 486.5h1M2137 489.5h1M2140 491.5h1M2143 494.5h1M2146 496.5h1M2149 499.5h1M2152 502.5h1M2155 504.5h1M2158 507.5h1M2161 509.5h1M2164 512.5h1M2167 514.5h1M2170 517.5h1M2173 519.5h1M2176 522.5h1M2179 524.5h1M2182 527.5h1M2185 530.5h1M2188 532.5h1M2191 535.5h1M2194 537.5h1M2197 540.5h1M2200 542.5h1M2203 545.5h1M2206 547.5h1M2209 550.5h1M2212 552.5h1M2215 555.5h1M2218 557.5h1M2221 560.5h1M2224 563.5h1M2227 565.5h1M2230 568.5h1M2233 570.5h1M2236 573.5h1M2239 575.5h1M2242 578.5h1M2245 580.5h1M2248 583.5h1M1447 381.5h1M1450 380.5h1M1453 379.5h1M1456 378.5h1M1459 377.5h1M1462 377.5h1M1465 376.5h1M1468 375.5h1M1471 374.5h1M1474 373.5h1M1477 372.5h1M1480 372.5h1M1483 371.5h1M1486 370.5h1M1489 369.5h1M1492 368.5h1M1495 367.5h1M1498 366.5h1M1501 366.5h1M1504 365.5h1M1507 364.5h1M1510 363.5h1M1513 362.5h1M1516 361.5h1M1519 361.5h1M1522 360.5h1M1525 359.5h1M1528 358.5h1M1531 357.5h1M1534 356.5h1M1537 355.5h1M1540 355.5h1M1543 354.5h1M1546 353.5h1M1549 352.5h1M1552 351.5h1M1555 350.5h1M1558 350.5h1M1561 349.5h1M1564 348.5h1M1567 347.5h1M1570 346.5h1M1573 345.5h1M1576 344.5h1M1579 344.5h1M1582 343.5h1M1585 342.5h1M1588 341.5h1M1591 340.5h1M1594 339.5h1M1597 339.5h1M1600 338.5h1M1603 337.5h1M1606 336.5h1M1609 335.5h1M1612 334.5h1M1615 333.5h1M1618 333.5h1M1621 332.5h1M1624 331.5h1M1627 330.5h1M1630 329.5h1M1633 328.5h1M1636 327.5h1M1639 327.5h1M1642 326.5h1M1645 325.5h1M1648 324.5h1M1651 323.5h1M1654 322.5h1M1657 322.5h1M1660 321.5h1M1663 320.5h1M1666 319.5h1M1669 318.5h1M1672 317.5h1M1675 316.5h1M1678 316.5h1M1681 315.5h1M1684 314.5h1M1687 313.5h1M1690 312.5h1M1693 311.5h1M1696 311.5h1M1699 310.5h1M1702 309.5h1M1705 308.5h1M1708 307.5h1M1711 306.5h1M1714 305.5h1M1717 305.5h1M1720 304.5h1M1723 303.5h1M1726 302.5h1M1729 301.5h1M1732 300.5h1M1735 300.5h1M1738 299.5h1M1741 298.5h1M1744 297.5h1M1747 296.5h1M1750 295.5h1M1753 294.5h1M1756 294.5h1M1759 293.5h1M1762 292.5h1M1765 291.5h1M1768 290.5h1M1771 289.5h1M1774 289.5h1M1777 288.5h1M1780 287.5h1M1783 286.5h1M1786 285.5h1M1789 284.5h1M1792 283.5h1M1795 283.5h1M1798 282.5h1M1801 281.5h1M1804 280.5h1M1807 279.5h1M1810 278.5h1M1813 278.5h1M1816 277.5h1M1819 276.5h1M1822 275.5h1M1825 274.5h1M1828 273.5h1M1831 272.5h1M1834 272.5h1M1837 271.5h1M1840 270.5h1M1843 269.5h1M1846 268.5h1M1849 267.5h1M1852 267.5h1M1855 266.5h1M1858 265.5h1M1861 264.5h1M1864 263.5h1M1867 262.5h1M1870 261.5h1M1873 261.5h1M1876 260.5h1M1879 259.5h1M1882 258.5h1M1885 257.5h1M1888 256.5h1M1891 255.5h1M1894 255.5h1M1897 254.5h1M1900 253.5h1M1903 252.5h1M1906 251.5h1M1909 250.5h1M1912 250.5h1M1915 249.5h1M1918 248.5h1M1921 247.5h1M1924 246.5h1M1927 245.5h1M1930 244.5h1M1933 244.5h1M1936 243.5h1M1939 242.5h1M1942 241.5h1M1945 240.5h1M1948 239.5h1M1951 239.5h1M1954 238.5h1M1957 237.5h1M1960 240.5h1M1963 243.5h1M1966 245.5h1M1969 248.5h1M1972 250.5h1M1975 253.5h1M1978 255.5h1M1981 258.5h1M1984 260.5h1M1987 263.5h1M1990 265.5h1M1993 268.5h1M1996 270.5h1M1999 273.5h1M2002 276.5h1M2005 278.5h1M2008 281.5h1M2011 283.5h1M2014 286.5h1M2017 288.5h1M2020 291.5h1M2023 293.5h1M2026 296.5h1M2029 298.5h1M2032 301.5h1M2035 303.5h1M2038 306.5h1M2041 309.5h1M2044 311.5h1M2047 314.5h1M2050 316.5h1M2053 319.5h1M2056 321.5h1M2059 324.5h1M2062 326.5h1M2065 329.5h1M2068 331.5h1M2071 334.5h1M2074 337.5h1M2077 339.5h1M2080 342.5h1M2083 344.5h1M2086 347.5h1M2089 349.5h1M2092 352.5h1M2095 354.5h1M2098 357.5h1M2101 359.5h1M2104 362.5h1M2107 364.5h1M2110 367.5h1M2113 370.5h1M2116 372.5h1M2119 375.5h1M2122 377.5h1M2125 380.5h1M2128 382.5h1M2131 385.5h1M2134 387.5h1M2137 390.5h1M2140 392.5h1M2143 395.5h1M2146 397.5h1M2149 400.5h1M2152 403.5h1M2155 405.5h1M2158 408.5h1M2161 410.5h1M2164 413.5h1M2167 415.5h1M2170 418.5h1M2173 420.5h1M2176 423.5h1M2179 425.5h1M2182 428.5h1M2185 431.5h1M2188 433.5h1M2191 436.5h1M2194 438.5h1M2197 441.5h1M2200 443.5h1M2203 446.5h1M2206 448.5h1M2209 451.5h1M2212 453.5h1M2215 456.5h1M2218 458.5h1M2221 461.5h1M2224 464.5h1M2227 466.5h1M2230 469.5h1M2233 471.5h1M2236 474.5h1M2239 476.5h1M2242 479.5h1M2245 481.5h1M2248 484.5h1M1447 282.5h1M1450 281.5h1M1453 280.5h1M1456 279.5h1M1459 278.5h1M1462 278.5h1M1465 277.5h1M1468 276.5h1M1471 275.5h1M1474 274.5h1M1477 273.5h1M1480 273.5h1M1483 272.5h1M1486 271.5h1M1489 270.5h1M1492 269.5h1M1495 268.5h1M1498 267.5h1M1501 267.5h1M1504 266.5h1M1507 265.5h1M1510 264.5h1M1513 263.5h1M1516 262.5h1M1519 262.5h1M1522 261.5h1M1525 260.5h1M1528 259.5h1M1531 258.5h1M1534 257.5h1M1537 256.5h1M1540 256.5h1M1543 255.5h1M1546 254.5h1M1549 253.5h1M1552 252.5h1M1555 251.5h1M1558 251.5h1M1561 250.5h1M1564 249.5h1M1567 248.5h1M1570 247.5h1M1573 246.5h1M1576 245.5h1M1579 245.5h1M1582 244.5h1M1585 243.5h1M1588 242.5h1M1591 241.5h1M1594 240.5h1M1597 240.5h1M1600 239.5h1M1603 238.5h1M1606 237.5h1M1609 236.5h1M1612 235.5h1M1615 234.5h1M1618 234.5h1M1621 233.5h1M1624 232.5h1M1627 231.5h1M1630 230.5h1M1633 229.5h1M1636 228.5h1M1639 228.5h1M1642 227.5h1M1645 226.5h1M1648 225.5h1M1651 224.5h1M1654 223.5h1M1657 223.5h1M1660 222.5h1M1663 221.5h1M1666 220.5h1M1669 219.5h1M1672 218.5h1M1675 217.5h1M1678 217.5h1M1681 216.5h1M1684 215.5h1M1687 214.5h1M1690 213.5h1M1693 212.5h1M1696 212.5h1M1699 211.5h1M1702 210.5h1M1705 209.5h1M1708 208.5h1M1711 207.5h1M1714 206.5h1M1717 206.5h1M1720 205.5h1M1723 204.5h1M1726 203.5h1M1729 202.5h1M1732 201.5h1M1735 201.5h1M1738 200.5h1M1741 199.5h1M1744 198.5h1M1747 197.5h1M1750 196.5h1M1753 195.5h1M1756 195.5h1M1759 194.5h1M1762 193.5h1M1765 192.5h1M1768 191.5h1M1771 190.5h1M1774 190.5h1M1777 189.5h1M1780 188.5h1M1783 187.5h1M1786 186.5h1M1789 185.5h1M1792 184.5h1M1795 184.5h1M1798 183.5h1M1801 182.5h1M1804 181.5h1M1807 180.5h1M1810 179.5h1M1813 179.5h1M1816 178.5h1M1819 177.5h1M1822 176.5h1M1825 175.5h1M1828 174.5h1M1831 173.5h1M1834 173.5h1M1837 172.5h1M1840 171.5h1M1843 170.5h1M1846 169.5h1M1849 168.5h1M1852 168.5h1M1855 167.5h1M1858 166.5h1M1861 165.5h1M1864 164.5h1M1867 163.5h1M1870 162.5h1M1873 162.5h1M1876 161.5h1M1879 160.5h1M1882 159.5h1M1885 158.5h1M1888 157.5h1M1891 156.5h1M1894 156.5h1M1897 155.5h1M1900 154.5h1M1903 153.5h1M1906 152.5h1M1909 151.5h1M1912 151.5h1M1915 150.5h1M1918 149.5h1M1921 148.5h1M1924 147.5h1M1927 146.5h1M1930 145.5h1M1933 145.5h1M1936 144.5h1M1939 143.5h1M1942 142.5h1M1945 141.5h1M1948 140.5h1M1951 140.5h1M1954 139.5h1M1957 138.5h1M1960 141.5h1M1963 144.5h1M1966 146.5h1M1969 149.5h1M1972 151.5h1M1975 154.5h1M1978 156.5h1M1981 159.5h1M1984 161.5h1M1987 164.5h1M1990 166.5h1M1993 169.5h1M1996 171.5h1M1999 174.5h1M2002 177.5h1M2005 179.5h1M2008 182.5h1M2011 184.5h1M2014 187.5h1M2017 189.5h1M2020 192.5h1M2023 194.5h1M2026 197.5h1M2029 199.5h1M2032 202.5h1M2035 204.5h1M2038 207.5h1M2041 210.5h1M2044 212.5h1M2047 215.5h1M2050 217.5h1M2053 220.5h1M2056 222.5h1M2059 225.5h1M2062 227.5h1M2065 230.5h1M2068 232.5h1M2071 235.5h1M2074 238.5h1M2077 240.5h1M2080 243.5h1M2083 245.5h1M2086 248.5h1M2089 250.5h1M2092 253.5h1M2095 255.5h1M2098 258.5h1M2101 260.5h1M2104 263.5h1M2107 265.5h1M2110 268.5h1M2113 271.5h1M2116 273.5h1M2119 276.5h1M2122 278.5h1M2125 281.5h1M2128 283.5h1M2131 286.5h1M2134 288.5h1M2137 291.5h1M2140 293.5h1M2143 296.5h1M2146 298.5h1M2149 301.5h1M2152 304.5h1M2155 306.5h1M2158 309.5h1M2161 311.5h1M2164 314.5h1M2167 316.5h1M2170 319.5h1M2173 321.5h1M2176 324.5h1M2179 326.5h1M2182 329.5h1M2185 332.5h1M2188 334.5h1M2191 337.5h1M2194 339.5h1M2197 342.5h1M2200 344.5h1M2203 347.5h1M2206 349.5h1M2209 352.5h1M2212 354.5h1M2215 357.5h1M2218 359.5h1M2221 362.5h1M2224 365.5h1M2227 367.5h1M2230 370.5h1M2233 372.5h1M2236 375.5h1M2239 377.5h1M2242 380.5h1M2245 382.5h1M2248 385.5h1" stroke="#000" stroke-width="1" fill="none" shape-rendering="crispEdges"/>
<g stroke="#0000ff" stroke-width="1" fill="#fff" stroke-linejoin="round" shape-rendering="crispEdges">
<path d="M1947.5 645.5L1959.5 642.5L1953.5 636.5L1941.5 639.5Z"/>
<path d="M1935.5 651.5L1947.5 645.5L1941.5 639.5L1929.5 645.5Z"/>
<path d="M1956.5 651.5L1968.5 648.5L1959.5 642.5L1947.5 645.5Z"/>
<path d="M1923.5 654.5L1935.5 651.5L1929.5 645.5L1914.5 648.5Z"/>
<path d="M1941.5 657.5L1956.5 651.5L1947.5 645.5L1935.5 651.5Z"/>
<path d="M1911.5 657.5L1923.5 654.5L1914.5 648.5L1902.5 651.5Z"/>
<path d="M1962.5 660.5L1974.5 654.5L1968.5 648.5L1956.5 651.5Z"/>
<path d="M1929.5 660.5L1941.5 657.5L1935.5 651.5L1923.5 654.5Z"/>
<path d="M1896.5 660.5L1911.5 657.5L1902.5 651.5L1890.5 654.5Z"/>
<path d="M1950.5 663.5L1962.5 660.5L1956.5 651.5L1941.5 657.5Z"/>
<path d="M1917.5 663.5L1929.5 660.5L1923.5 654.5L1911.5 657.5Z"/>
<path d="M1884.5 663.5L1896.5 660.5L1890.5 654.5L1878.5 657.5Z"/>
<path d="M1971.5 666.5L1983.5 660.5L1974.5 654.5L1962.5 660.5Z"/>
<path d="M1938.5 666.5L1950.5 663.5L1941.5 657.5L1929.5 660.5Z"/>
<path d="M1905.5 666.5L1917.5 663.5L1911.5 657.5L1896.5 660.5Z"/>
<path d="M1872.5 669.5L1884.5 663.5L1878.5 657.5L1863.5 663.5Z"/>
<path d="M1956.5 669.5L1971.5 666.5L1962.5 660.5L1950.5 663.5Z"/>
<path d="M1923.5 669.5L1938.5 666.5L1929.5 660.5L1917.5 663.5Z"/>
<path d="M1890.5 669.5L1905.5 666.5L1896.5 660.5L1884.5 663.5Z"/>
<path d="M1977.5 672.5L1989.5 669.5L1983.5 660.5L1971.5 666.5Z"/>
<path d="M1860.5 672.5L1872.5 669.5L1863.5 663.5L1851.5 666.5Z"/>
<path d="M1944.5 672.5L1956.5 669.5L1950.5 663.5L1938.5 666.5Z"/>
<path d="M1911.5 672.5L1923.5 669.5L1917.5 663.5L1905.5 666.5Z"/>
<path d="M1878.5 675.5L1890.5 669.5L1884.5 663.5L1872.5 669.5Z"/>
<path d="M1965.5 675.5L1977.5 672.5L1971.5 666.5L1956.5 669.5Z"/>
<path d="M1845.5 675.5L1860.5 672.5L1851.5 666.5L1839.5 669.5Z"/>
<path d="M1932.5 675.5L1944.5 672.5L1938.5 666.5L1923.5 669.5Z"/>
<path d="M1899.5 678.5L1911.5 672.5L1905.5 666.5L1890.5 669.5Z"/>
<path d="M1983.5 678.5L1998.5 675.5L1989.5 669.5L1977.5 672.5Z"/>
<path d="M1866.5 678.5L1878.5 675.5L1872.5 669.5L1860.5 672.5Z"/>
<path d="M1953.5 678.5L1965.5 675.5L1956.5 669.5L1944.5 672.5Z"/>
<path d="M1833.5 678.5L1845.5 675.5L1839.5 669.5L1827.5 672.5Z"/>
<path d="M1920.5 678.5L1932.5 675.5L1923.5 669.5L1911.5 672.5Z"/>
<path d="M1887.5 681.5L1899.5 678.5L1890.5 669.5L1878.5 675.5Z"/>
<path d="M1971.5 681.5L1983.5 678.5L1977.5 672.5L1965.5 675.5Z"/>
<path d="M1854.5 681.5L1866.5 678.5L1860.5 672.5L1845.5 675.5Z"/>
<path d="M1938.5 681.5L1953.5 678.5L1944.5 672.5L1932.5 675.5Z"/>
<path d="M1821.5 681.5L1833.5 678.5L1827.5 672.5L1812.5 675.5Z"/>
<path d="M1905.5 684.5L1920.5 678.5L1911.5 672.5L1899.5 678.5Z"/>
<path d="M1992.5 684.5L2004.5 681.5L1998.5 675.5L1983.5 678.5Z"/>
<path d="M1872.5 684.5L1887.5 681.5L1878.5 675.5L1866.5 678.5Z"/>
<path d="M1959.5 684.5L1971.5 681.5L1965.5 675.5L1953.5 678.5Z"/>
<path d="M1842.5 684.5L1854.5 681.5L1845.5 675.5L1833.5 678.5Z"/>
<path d="M1926.5 684.5L1938.5 681.5L1932.5 675.5L1920.5 678.5Z"/>
<path d="M1809.5 687.5L1821.5 681.5L1812.5 675.5L1800.5 681.5Z"/>
<path d="M1893.5 687.5L1905.5 684.5L1899.5 678.5L1887.5 681.5Z"/>
<path d="M1980.5 687.5L1992.5 684.5L1983.5 678.5L1971.5 681.5Z"/>
<path d="M1860.5 687.5L1872.5 684.5L1866.5 678.5L1854.5 681.5Z"/>
<path d="M1947.5 687.5L1959.5 684.5L1953.5 678.5L1938.5 681.5Z"/>
<path d="M1827.5 687.5L1842.5 684.5L1833.5 678.5L1821.5 681.5Z"/>
<path d="M1914.5 690.5L1926.5 684.5L1920.5 678.5L1905.5 684.5Z"/>
<path d="M1794.5 690.5L1809.5 687.5L1800.5 681.5L1788.5 684.5Z"/>
<path d="M1998.5 690.5L2013.5 687.5L2004.5 681.5L1992.5 684.5Z"/>
<path d="M1881.5 690.5L1893.5 687.5L1887.5 681.5L1872.5 684.5Z"/>
<path d="M1965.5 690.5L1980.5 687.5L1971.5 681.5L1959.5 684.5Z"/>
<path d="M1848.5 690.5L1860.5 687.5L1854.5 681.5L1842.5 684.5Z"/>
<path d="M1935.5 693.5L1947.5 687.5L1938.5 681.5L1926.5 684.5Z"/>
<path d="M1815.5 693.5L1827.5 687.5L1821.5 681.5L1809.5 687.5Z"/>
<path d="M1902.5 693.5L1914.5 690.5L1905.5 684.5L1893.5 687.5Z"/>
<path d="M1782.5 693.5L1794.5 690.5L1788.5 684.5L1776.5 687.5Z"/>
<path d="M1986.5 693.5L1998.5 690.5L1992.5 684.5L1980.5 687.5Z"/>
<path d="M1869.5 693.5L1881.5 690.5L1872.5 684.5L1860.5 687.5Z"/>
<path d="M1953.5 693.5L1965.5 690.5L1959.5 684.5L1947.5 687.5Z"/>
<path d="M1836.5 696.5L1848.5 690.5L1842.5 684.5L1827.5 687.5Z"/>
<path d="M1920.5 696.5L1935.5 693.5L1926.5 684.5L1914.5 690.5Z"/>
<path d="M1803.5 696.5L1815.5 693.5L1809.5 687.5L1794.5 690.5Z"/>
<path d="M2007.5 696.5L2019.5 693.5L2013.5 687.5L1998.5 690.5Z"/>
<path d="M1887.5 696.5L1902.5 693.5L1893.5 687.5L1881.5 690.5Z"/>
<path d="M1770.5 696.5L1782.5 693.5L1776.5 687.5L1761.5 690.5Z"/>
<path d="M1974.5 696.5L1986.5 693.5L1980.5 687.5L1965.5 690.5Z"/>
<path d="M1854.5 696.5L1869.5 693.5L1860.5 687.5L1848.5 690.5Z"/>
<path d="M1941.5 699.5L1953.5 693.5L1947.5 687.5L1935.5 693.5Z"/>
<path d="M1824.5 699.5L1836.5 696.5L1827.5 687.5L1815.5 693.5Z"/>
<path d="M1908.5 699.5L1920.5 696.5L1914.5 690.5L1902.5 693.5Z"/>
<path d="M1791.5 699.5L1803.5 696.5L1794.5 690.5L1782.5 693.5Z"/>
<path d="M1995.5 699.5L2007.5 696.5L1998.5 690.5L1986.5 693.5Z"/>
<path d="M1875.5 699.5L1887.5 696.5L1881.5 690.5L1869.5 693.5Z"/>
<path d="M1758.5 699.5L1770.5 696.5L1761.5 690.5L1749.5 693.5Z"/>
<path d="M1962.5 702.5L1974.5 696.5L1965.5 690.5L1953.5 693.5Z"/>
<path d="M1842.5 702.5L1854.5 696.5L1848.5 690.5L1836.5 696.5Z"/>
<path d="M1929.5 702.5L1941.5 699.5L1935.5 693.5L1920.5 696.5Z"/>
<path d="M1809.5 702.5L1824.5 699.5L1815.5 693.5L1803.5 696.5Z"/>
<path d="M2013.5 702.5L2028.5 699.5L2019.5 693.5L2007.5 696.5Z"/>
<path d="M1896.5 702.5L1908.5 699.5L1902.5 693.5L1887.5 696.5Z"/>
<path d="M1776.5 702.5L1791.5 699.5L1782.5 693.5L1770.5 696.5Z"/>
<path d="M1980.5 702.5L1995.5 699.5L1986.5 693.5L1974.5 696.5Z"/>
<path d="M1863.5 702.5L1875.5 699.5L1869.5 693.5L1854.5 696.5Z"/>
<path d="M1743.5 705.5L1758.5 699.5L1749.5 693.5L1737.5 696.5Z"/>
<path d="M1947.5 705.5L1962.5 702.5L1953.5 693.5L1941.5 699.5Z"/>
<path d="M1830.5 705.5L1842.5 702.5L1836.5 696.5L1824.5 699.5Z"/>
<path d="M1914.5 705.5L1929.5 702.5L1920.5 696.5L1908.5 699.5Z"/>
<path d="M1797.5 705.5L1809.5 702.5L1803.5 696.5L1791.5 699.5Z"/>
<path d="M2001.5 705.5L2013.5 702.5L2007.5 696.5L1995.5 699.5Z"/>
<path d="M1884.5 705.5L1896.5 702.5L1887.5 696.5L1875.5 699.5Z"/>
<path d="M1764.5 705.5L1776.5 702.5L1770.5 696.5L1758.5 699.5Z"/>
<path d="M1968.5 708.5L1980.5 702.5L1974.5 696.5L1962.5 702.5Z"/>
<path d="M1851.5 708.5L1863.5 702.5L1854.5 696.5L1842.5 702.5Z"/>
<path d="M1731.5 708.5L1743.5 705.5L1737.5 696.5L1725.5 702.5Z"/>
<path d="M1935.5 708.5L1947.5 705.5L1941.5 699.5L1929.5 702.5Z"/>
<path d="M1818.5 708.5L1830.5 705.5L1824.5 699.5L1809.5 702.5Z"/>
<path d="M2022.5 708.5L2034.5 705.5L2028.5 699.5L2013.5 702.5Z"/>
<path d="M1902.5 708.5L1914.5 705.5L1908.5 699.5L1896.5 702.5Z"/>
<path d="M1785.5 708.5L1797.5 705.5L1791.5 699.5L1776.5 702.5Z"/>
<path d="M1989.5 708.5L2001.5 705.5L1995.5 699.5L1980.5 702.5Z"/>
<path d="M1869.5 711.5L1884.5 705.5L1875.5 699.5L1863.5 702.5Z"/>
<path d="M1752.5 711.5L1764.5 705.5L1758.5 699.5L1743.5 705.5Z"/>
<path d="M1956.5 711.5L1968.5 708.5L1962.5 702.5L1947.5 705.5Z"/>
<path d="M1836.5 711.5L1851.5 708.5L1842.5 702.5L1830.5 705.5Z"/>
<path d="M1719.5 711.5L1731.5 708.5L1725.5 702.5L1710.5 705.5Z"/>
<path d="M1923.5 711.5L1935.5 708.5L1929.5 702.5L1914.5 705.5Z"/>
<path d="M1803.5 711.5L1818.5 708.5L1809.5 702.5L1797.5 705.5Z"/>
<path d="M2007.5 711.5L2022.5 708.5L2013.5 702.5L2001.5 705.5Z"/>
<path d="M1890.5 711.5L1902.5 708.5L1896.5 702.5L1884.5 705.5Z"/>
<path d="M1773.5 714.5L1785.5 708.5L1776.5 702.5L1764.5 705.5Z"/>
<path d="M1977.5 714.5L1989.5 708.5L1980.5 702.5L1968.5 708.5Z"/>
<path d="M1857.5 714.5L1869.5 711.5L1863.5 702.5L1851.5 708.5Z"/>
<path d="M1740.5 714.5L1752.5 711.5L1743.5 705.5L1731.5 708.5Z"/>
<path d="M1944.5 714.5L1956.5 711.5L1947.5 705.5L1935.5 708.5Z"/>
<path d="M1824.5 714.5L1836.5 711.5L1830.5 705.5L1818.5 708.5Z"/>
<path d="M1707.5 714.5L1719.5 711.5L1710.5 705.5L1698.5 708.5Z"/>
<path d="M2028.5 714.5L2040.5 711.5L2034.5 705.5L2022.5 708.5Z"/>
<path d="M1911.5 714.5L1923.5 711.5L1914.5 705.5L1902.5 708.5Z"/>
<path d="M1791.5 714.5L1803.5 711.5L1797.5 705.5L1785.5 708.5Z"/>
<path d="M1995.5 717.5L2007.5 711.5L2001.5 705.5L1989.5 708.5Z"/>
<path d="M1878.5 717.5L1890.5 711.5L1884.5 705.5L1869.5 711.5Z"/>
<path d="M1758.5 717.5L1773.5 714.5L1764.5 705.5L1752.5 711.5Z"/>
<path d="M1962.5 717.5L1977.5 714.5L1968.5 708.5L1956.5 711.5Z"/>
<path d="M1845.5 717.5L1857.5 714.5L1851.5 708.5L1836.5 711.5Z"/>
<path d="M1725.5 717.5L1740.5 714.5L1731.5 708.5L1719.5 711.5Z"/>
<path d="M1929.5 717.5L1944.5 714.5L1935.5 708.5L1923.5 711.5Z"/>
<path d="M1812.5 717.5L1824.5 714.5L1818.5 708.5L1803.5 711.5Z"/>
<path d="M1692.5 717.5L1707.5 714.5L1698.5 708.5L1686.5 711.5Z"/>
<path d="M2016.5 717.5L2028.5 714.5L2022.5 708.5L2007.5 711.5Z"/>
<path d="M1896.5 717.5L1911.5 714.5L1902.5 708.5L1890.5 711.5Z"/>
<path d="M1779.5 720.5L1791.5 714.5L1785.5 708.5L1773.5 714.5Z"/>
<path d="M1983.5 720.5L1995.5 717.5L1989.5 708.5L1977.5 714.5Z"/>
<path d="M1866.5 720.5L1878.5 717.5L1869.5 711.5L1857.5 714.5Z"/>
<path d="M1746.5 720.5L1758.5 717.5L1752.5 711.5L1740.5 714.5Z"/>
<path d="M1950.5 720.5L1962.5 717.5L1956.5 711.5L1944.5 714.5Z"/>
<path d="M1833.5 720.5L1845.5 717.5L1836.5 711.5L1824.5 714.5Z"/>
<path d="M1713.5 720.5L1725.5 717.5L1719.5 711.5L1707.5 714.5Z"/>
<path d="M2037.5 720.5L2049.5 717.5L2040.5 711.5L2028.5 714.5Z"/>
<path d="M1917.5 720.5L1929.5 717.5L1923.5 711.5L1911.5 714.5Z"/>
<path d="M1800.5 720.5L1812.5 717.5L1803.5 711.5L1791.5 714.5Z"/>
<path d="M1680.5 720.5L1692.5 717.5L1686.5 711.5L1674.5 714.5Z"/>
<path d="M2004.5 723.5L2016.5 717.5L2007.5 711.5L1995.5 717.5Z"/>
<path d="M1884.5 723.5L1896.5 717.5L1890.5 711.5L1878.5 717.5Z"/>
<path d="M1767.5 723.5L1779.5 720.5L1773.5 714.5L1758.5 717.5Z"/>
<path d="M1971.5 723.5L1983.5 720.5L1977.5 714.5L1962.5 717.5Z"/>
<path d="M1851.5 723.5L1866.5 720.5L1857.5 714.5L1845.5 717.5Z"/>
<path d="M1734.5 723.5L1746.5 720.5L1740.5 714.5L1725.5 717.5Z"/>
<path d="M1938.5 723.5L1950.5 720.5L1944.5 714.5L1929.5 717.5Z"/>
<path d="M1818.5 723.5L1833.5 720.5L1824.5 714.5L1812.5 717.5Z"/>
<path d="M1701.5 723.5L1713.5 720.5L1707.5 714.5L1692.5 717.5Z"/>
<path d="M2022.5 723.5L2037.5 720.5L2028.5 714.5L2016.5 717.5Z"/>
<path d="M1905.5 726.5L1917.5 720.5L1911.5 714.5L1896.5 717.5Z"/>
<path d="M1785.5 726.5L1800.5 720.5L1791.5 714.5L1779.5 720.5Z"/>
<path d="M1668.5 717.5L1680.5 720.5L1674.5 714.5L1662.5 714.5Z"/>
<path d="M1989.5 726.5L2004.5 723.5L1995.5 717.5L1983.5 720.5Z"/>
<path d="M1872.5 726.5L1884.5 723.5L1878.5 717.5L1866.5 720.5Z"/>
<path d="M1755.5 726.5L1767.5 723.5L1758.5 717.5L1746.5 720.5Z"/>
<path d="M1959.5 726.5L1971.5 723.5L1962.5 717.5L1950.5 720.5Z"/>
<path d="M1839.5 726.5L1851.5 723.5L1845.5 717.5L1833.5 720.5Z"/>
<path d="M1722.5 726.5L1734.5 723.5L1725.5 717.5L1713.5 720.5Z"/>
<path d="M2043.5 726.5L2055.5 723.5L2049.5 717.5L2037.5 720.5Z"/>
<path d="M1926.5 726.5L1938.5 723.5L1929.5 717.5L1917.5 720.5Z"/>
<path d="M1806.5 729.5L1818.5 723.5L1812.5 717.5L1800.5 720.5Z"/>
<path d="M1689.5 723.5L1701.5 723.5L1692.5 717.5L1680.5 720.5Z"/>
<path d="M2010.5 729.5L2022.5 723.5L2016.5 717.5L2004.5 723.5Z"/>
<path d="M1893.5 729.5L1905.5 726.5L1896.5 717.5L1884.5 723.5Z"/>
<path d="M1773.5 729.5L1785.5 726.5L1779.5 720.5L1767.5 723.5Z"/>
<path d="M1656.5 699.5L1668.5 717.5L1662.5 714.5L1647.5 705.5Z"/>
<path d="M1977.5 729.5L1989.5 726.5L1983.5 720.5L1971.5 723.5Z"/>
<path d="M1860.5 729.5L1872.5 726.5L1866.5 720.5L1851.5 723.5Z"/>
<path d="M1740.5 729.5L1755.5 726.5L1746.5 720.5L1734.5 723.5Z"/>
<path d="M1944.5 729.5L1959.5 726.5L1950.5 720.5L1938.5 723.5Z"/>
<path d="M1827.5 729.5L1839.5 726.5L1833.5 720.5L1818.5 723.5Z"/>
<path d="M1707.5 729.5L1722.5 726.5L1713.5 720.5L1701.5 723.5Z"/>
<path d="M2031.5 732.5L2043.5 726.5L2037.5 720.5L2022.5 723.5Z"/>
<path d="M1911.5 732.5L1926.5 726.5L1917.5 720.5L1905.5 726.5Z"/>
<path d="M1794.5 732.5L1806.5 729.5L1800.5 720.5L1785.5 726.5Z"/>
<path d="M1674.5 714.5L1689.5 723.5L1680.5 720.5L1668.5 717.5Z"/>
<path d="M1998.5 732.5L2010.5 729.5L2004.5 723.5L1989.5 726.5Z"/>
<path d="M1878.5 732.5L1893.5 729.5L1884.5 723.5L1872.5 726.5Z"/>
<path d="M1761.5 732.5L1773.5 729.5L1767.5 723.5L1755.5 726.5Z"/>
<path d="M1644.5 654.5L1656.5 699.5L1647.5 705.5L1635.5 675.5Z"/>
<path d="M1965.5 732.5L1977.5 729.5L1971.5 723.5L1959.5 726.5Z"/>
<path d="M1848.5 732.5L1860.5 729.5L1851.5 723.5L1839.5 726.5Z"/>
<path d="M1728.5 732.5L1740.5 729.5L1734.5 723.5L1722.5 726.5Z"/>
<path d="M2052.5 732.5L2064.5 729.5L2055.5 723.5L2043.5 726.5Z"/>
<path d="M1932.5 735.5L1944.5 729.5L1938.5 723.5L1926.5 726.5Z"/>
<path d="M1815.5 735.5L1827.5 729.5L1818.5 723.5L1806.5 729.5Z"/>
<path d="M1695.5 723.5L1707.5 729.5L1701.5 723.5L1689.5 723.5Z"/>
<path d="M2019.5 735.5L2031.5 732.5L2022.5 723.5L2010.5 729.5Z"/>
<path d="M1899.5 735.5L1911.5 732.5L1905.5 726.5L1893.5 729.5Z"/>
<path d="M1782.5 735.5L1794.5 732.5L1785.5 726.5L1773.5 729.5Z"/>
<path d="M1662.5 684.5L1674.5 714.5L1668.5 717.5L1656.5 699.5Z"/>
<path d="M1986.5 735.5L1998.5 732.5L1989.5 726.5L1977.5 729.5Z"/>
<path d="M1866.5 735.5L1878.5 732.5L1872.5 726.5L1860.5 729.5Z"/>
<path d="M1749.5 735.5L1761.5 732.5L1755.5 726.5L1740.5 729.5Z"/>
<path d="M1629.5 576.5L1644.5 654.5L1635.5 675.5L1623.5 603.5Z"/>
<path class="c" d="M1630 630.5h1M1633 632.5h1M1636 633.5h1M1639 635.5h1"/>
<path d="M1953.5 735.5L1965.5 732.5L1959.5 726.5L1944.5 729.5Z"/>
<path d="M1833.5 735.5L1848.5 732.5L1839.5 726.5L1827.5 729.5Z"/>
<path d="M1716.5 732.5L1728.5 732.5L1722.5 726.5L1707.5 729.5Z"/>
<path d="M2037.5 738.5L2052.5 732.5L2043.5 726.5L2031.5 732.5Z"/>
<path d="M1920.5 738.5L1932.5 735.5L1926.5 726.5L1911.5 732.5Z"/>
<path d="M1800.5 738.5L1815.5 735.5L1806.5 729.5L1794.5 732.5Z"/>
<path d="M1683.5 705.5L1695.5 723.5L1689.5 723.5L1674.5 714.5Z"/>
<path d="M2004.5 738.5L2019.5 735.5L2010.5 729.5L1998.5 732.5Z"/>
<path d="M1887.5 738.5L1899.5 735.5L1893.5 729.5L1878.5 732.5Z"/>
<path d="M1767.5 738.5L1782.5 735.5L1773.5 729.5L1761.5 732.5Z"/>
<path d="M1650.5 630.5L1662.5 684.5L1656.5 699.5L1644.5 654.5Z"/>
<path class="c" d="M1651 638.5h1"/>
<path d="M1971.5 738.5L1986.5 735.5L1977.5 729.5L1965.5 732.5Z"/>
<path d="M1854.5 738.5L1866.5 735.5L1860.5 729.5L1848.5 732.5Z"/>
<path d="M1734.5 735.5L1749.5 735.5L1740.5 729.5L1728.5 732.5Z"/>
<path d="M2058.5 741.5L2070.5 735.5L2064.5 729.5L2052.5 732.5Z"/>
<path d="M1617.5 480.5L1629.5 576.5L1623.5 603.5L1611.5 492.5Z"/>
<path class="c" d="M1618 535.5h1M1621 537.5h1M1624 539.5h1"/>
<path d="M1938.5 741.5L1953.5 735.5L1944.5 729.5L1932.5 735.5Z"/>
<path d="M1821.5 741.5L1833.5 735.5L1827.5 729.5L1815.5 735.5Z"/>
<path d="M1704.5 720.5L1716.5 732.5L1707.5 729.5L1695.5 723.5Z"/>
<path d="M2025.5 741.5L2037.5 738.5L2031.5 732.5L2019.5 735.5Z"/>
<path d="M1908.5 741.5L1920.5 738.5L1911.5 732.5L1899.5 735.5Z"/>
<path d="M1788.5 741.5L1800.5 738.5L1794.5 732.5L1782.5 735.5Z"/>
<path d="M1671.5 669.5L1683.5 705.5L1674.5 714.5L1662.5 684.5Z"/>
<path d="M1992.5 741.5L2004.5 738.5L1998.5 732.5L1986.5 735.5Z"/>
<path d="M1875.5 741.5L1887.5 738.5L1878.5 732.5L1866.5 735.5Z"/>
<path d="M1755.5 741.5L1767.5 738.5L1761.5 732.5L1749.5 735.5Z"/>
<path d="M1638.5 558.5L1650.5 630.5L1644.5 654.5L1629.5 576.5Z"/>
<path class="c" d="M1642 636.5h1M1645 637.5h1M1648 638.5h1"/>
<path d="M1959.5 741.5L1971.5 738.5L1965.5 732.5L1953.5 735.5Z"/>
<path d="M1842.5 744.5L1854.5 738.5L1848.5 732.5L1833.5 735.5Z"/>
<path d="M1722.5 729.5L1734.5 735.5L1728.5 732.5L1716.5 732.5Z"/>
<path d="M2046.5 744.5L2058.5 741.5L2052.5 732.5L2037.5 738.5Z"/>
<path d="M1605.5 390.5L1617.5 480.5L1611.5 492.5L1596.5 369.5Z"/>
<path class="c" d="M1606 439.5h1M1609 442.5h1M1612 444.5h1"/>
<path d="M1926.5 744.5L1938.5 741.5L1932.5 735.5L1920.5 738.5Z"/>
<path d="M1809.5 744.5L1821.5 741.5L1815.5 735.5L1800.5 738.5Z"/>
<path d="M1689.5 693.5L1704.5 720.5L1695.5 723.5L1683.5 705.5Z"/>
<path d="M2013.5 744.5L2025.5 741.5L2019.5 735.5L2004.5 738.5Z"/>
<path d="M1893.5 744.5L1908.5 741.5L1899.5 735.5L1887.5 738.5Z"/>
<path d="M1776.5 744.5L1788.5 741.5L1782.5 735.5L1767.5 738.5Z"/>
<path d="M1656.5 615.5L1671.5 669.5L1662.5 684.5L1650.5 630.5Z"/>
<path class="c" d="M1654 640.5h1M1657 641.5h1M1660 643.5h1M1663 644.5h1"/>
<path d="M1980.5 744.5L1992.5 741.5L1986.5 735.5L1971.5 738.5Z"/>
<path d="M1860.5 744.5L1875.5 741.5L1866.5 735.5L1854.5 738.5Z"/>
<path d="M1743.5 738.5L1755.5 741.5L1749.5 735.5L1734.5 735.5Z"/>
<path d="M2064.5 747.5L2079.5 741.5L2070.5 735.5L2058.5 741.5Z"/>
<path d="M1623.5 480.5L1638.5 558.5L1629.5 576.5L1617.5 480.5Z"/>
<path class="c" d="M1627 541.5h1M1630 542.5h1M1633 544.5h1M1636 545.5h1"/>
<path d="M1947.5 747.5L1959.5 741.5L1953.5 735.5L1938.5 741.5Z"/>
<path d="M1827.5 747.5L1842.5 744.5L1833.5 735.5L1821.5 741.5Z"/>
<path d="M1710.5 714.5L1722.5 729.5L1716.5 732.5L1704.5 720.5Z"/>
<path d="M2031.5 747.5L2046.5 744.5L2037.5 738.5L2025.5 741.5Z"/>
<path d="M1593.5 339.5L1605.5 390.5L1596.5 369.5L1584.5 291.5Z"/>
<path class="c" d="M1593 346.5h1M1595 349.5h1"/>
<path d="M1914.5 747.5L1926.5 744.5L1920.5 738.5L1908.5 741.5Z"/>
<path d="M1797.5 747.5L1809.5 744.5L1800.5 738.5L1788.5 741.5Z"/>
<path d="M1677.5 654.5L1689.5 693.5L1683.5 705.5L1671.5 669.5Z"/>
<path d="M2001.5 747.5L2013.5 744.5L2004.5 738.5L1992.5 741.5Z"/>
<path d="M1881.5 747.5L1893.5 744.5L1887.5 738.5L1875.5 741.5Z"/>
<path d="M1764.5 744.5L1776.5 744.5L1767.5 738.5L1755.5 741.5Z"/>
<path d="M1644.5 549.5L1656.5 615.5L1650.5 630.5L1638.5 558.5Z"/>
<path d="M1968.5 750.5L1980.5 744.5L1971.5 738.5L1959.5 741.5Z"/>
<path d="M1848.5 750.5L1860.5 744.5L1854.5 738.5L1842.5 744.5Z"/>
<path d="M1731.5 726.5L1743.5 738.5L1734.5 735.5L1722.5 729.5Z"/>
<path d="M2052.5 750.5L2064.5 747.5L2058.5 741.5L2046.5 744.5Z"/>
<path d="M1611.5 417.5L1623.5 480.5L1617.5 480.5L1605.5 390.5Z"/>
<path class="c" d="M1614 448.5h1M1617 451.5h1"/>
<path d="M1935.5 750.5L1947.5 747.5L1938.5 741.5L1926.5 744.5Z"/>
<path d="M1815.5 750.5L1827.5 747.5L1821.5 741.5L1809.5 744.5Z"/>
<path d="M1698.5 681.5L1710.5 714.5L1704.5 720.5L1689.5 693.5Z"/>
<path d="M2019.5 750.5L2031.5 747.5L2025.5 741.5L2013.5 744.5Z"/>
<path d="M1578.5 348.5L1593.5 339.5L1584.5 291.5L1572.5 297.5Z"/>
<path d="M1902.5 750.5L1914.5 747.5L1908.5 741.5L1893.5 744.5Z"/>
<path d="M1782.5 750.5L1797.5 747.5L1788.5 741.5L1776.5 744.5Z"/>
<path d="M1665.5 603.5L1677.5 654.5L1671.5 669.5L1656.5 615.5Z"/>
<path class="c" d="M1666 646.5h1M1669 647.5h1M1672 648.5h1M1675 649.5h1"/>
<path d="M1986.5 750.5L2001.5 747.5L1992.5 741.5L1980.5 744.5Z"/>
<path d="M1869.5 750.5L1881.5 747.5L1875.5 741.5L1860.5 744.5Z"/>
<path d="M1749.5 738.5L1764.5 744.5L1755.5 741.5L1743.5 738.5Z"/>
<path d="M2073.5 753.5L2085.5 747.5L2079.5 741.5L2064.5 747.5Z"/>
<path d="M1632.5 489.5L1644.5 549.5L1638.5 558.5L1623.5 480.5Z"/>
<path class="c" d="M1639 547.5h1M1642 549.5h1"/>
<path d="M1953.5 753.5L1968.5 750.5L1959.5 741.5L1947.5 747.5Z"/>
<path d="M1836.5 753.5L1848.5 750.5L1842.5 744.5L1827.5 747.5Z"/>
<path d="M1716.5 705.5L1731.5 726.5L1722.5 729.5L1710.5 714.5Z"/>
<path d="M2040.5 753.5L2052.5 750.5L2046.5 744.5L2031.5 747.5Z"/>
<path d="M1599.5 384.5L1611.5 417.5L1605.5 390.5L1593.5 339.5Z"/>
<path class="c" d="M1596 352.5h1M1595 355.5h1"/>
<path d="M1920.5 753.5L1935.5 750.5L1926.5 744.5L1914.5 747.5Z"/>
<path d="M1803.5 753.5L1815.5 750.5L1809.5 744.5L1797.5 747.5Z"/>
<path d="M1686.5 642.5L1698.5 681.5L1689.5 693.5L1677.5 654.5Z"/>
<path class="c" d="M1681 652.5h1M1684 652.5h1M1687 653.5h1M1690 654.5h1"/>
<path d="M2007.5 753.5L2019.5 750.5L2013.5 744.5L2001.5 747.5Z"/>
<path d="M1566.5 417.5L1578.5 348.5L1572.5 297.5L1560.5 390.5Z"/>
<path class="c" d="M1567 354.5h1M1570 355.5h1M1573 356.5h1M1576 357.5h1"/>
<path d="M1890.5 753.5L1902.5 750.5L1893.5 744.5L1881.5 747.5Z"/>
<path d="M1770.5 747.5L1782.5 750.5L1776.5 744.5L1764.5 744.5Z"/>
<path d="M1653.5 549.5L1665.5 603.5L1656.5 615.5L1644.5 549.5Z"/>
<path class="c" d="M1645 551.5h1M1648 552.5h1M1651 554.5h1M1654 556.5h1"/>
<path d="M1974.5 756.5L1986.5 750.5L1980.5 744.5L1968.5 750.5Z"/>
<path d="M1857.5 756.5L1869.5 750.5L1860.5 744.5L1848.5 750.5Z"/>
<path d="M1737.5 720.5L1749.5 738.5L1743.5 738.5L1731.5 726.5Z"/>
<path d="M2061.5 756.5L2073.5 753.5L2064.5 747.5L2052.5 750.5Z"/>
<path d="M1620.5 444.5L1632.5 489.5L1623.5 480.5L1611.5 417.5Z"/>
<path class="c" d="M1619 454.5h1M1622 457.5h1"/>
<path d="M1941.5 756.5L1953.5 753.5L1947.5 747.5L1935.5 750.5Z"/>
<path d="M1824.5 756.5L1836.5 753.5L1827.5 747.5L1815.5 750.5Z"/>
<path d="M1704.5 672.5L1716.5 705.5L1710.5 714.5L1698.5 681.5Z"/>
<path d="M2028.5 756.5L2040.5 753.5L2031.5 747.5L2019.5 750.5Z"/>
<path d="M1587.5 390.5L1599.5 384.5L1593.5 339.5L1578.5 348.5Z"/>
<path class="c" d="M1582 358.5h1M1585 357.5h1M1588 356.5h1M1591 356.5h1M1594 355.5h1"/>
<path d="M1908.5 756.5L1920.5 753.5L1914.5 747.5L1902.5 750.5Z"/>
<path d="M1791.5 753.5L1803.5 753.5L1797.5 747.5L1782.5 750.5Z"/>
<path d="M1671.5 597.5L1686.5 642.5L1677.5 654.5L1665.5 603.5Z"/>
<path class="c" d="M1678 651.5h1"/>
<path d="M1995.5 756.5L2007.5 753.5L2001.5 747.5L1986.5 750.5Z"/>
<path d="M1554.5 525.5L1566.5 417.5L1560.5 390.5L1545.5 525.5Z"/>
<path class="c" d="M1555 456.5h1M1558 458.5h1M1561 459.5h1"/>
<path d="M1875.5 759.5L1890.5 753.5L1881.5 747.5L1869.5 750.5Z"/>
<path d="M1758.5 735.5L1770.5 747.5L1764.5 744.5L1749.5 738.5Z"/>
<path d="M2079.5 759.5L2094.5 756.5L2085.5 747.5L2073.5 753.5Z"/>
<path d="M1638.5 504.5L1653.5 549.5L1644.5 549.5L1632.5 489.5Z"/>
<path d="M1962.5 759.5L1974.5 756.5L1968.5 750.5L1953.5 753.5Z"/>
<path d="M1842.5 759.5L1857.5 756.5L1848.5 750.5L1836.5 753.5Z"/>
<path d="M1725.5 696.5L1737.5 720.5L1731.5 726.5L1716.5 705.5Z"/>
<path d="M2046.5 759.5L2061.5 756.5L2052.5 750.5L2040.5 753.5Z"/>
<path d="M1605.5 420.5L1620.5 444.5L1611.5 417.5L1599.5 384.5Z"/>
<path d="M1929.5 759.5L1941.5 756.5L1935.5 750.5L1920.5 753.5Z"/>
<path d="M1809.5 756.5L1824.5 756.5L1815.5 750.5L1803.5 753.5Z"/>
<path d="M1692.5 636.5L1704.5 672.5L1698.5 681.5L1686.5 642.5Z"/>
<path class="c" d="M1693 655.5h1M1696 657.5h1M1699 659.5h1"/>
<path d="M2013.5 759.5L2028.5 756.5L2019.5 750.5L2007.5 753.5Z"/>
<path d="M1575.5 444.5L1587.5 390.5L1578.5 348.5L1566.5 417.5Z"/>
<path class="c" d="M1579 358.5h1"/>
<path d="M1896.5 759.5L1908.5 756.5L1902.5 750.5L1890.5 753.5Z"/>
<path d="M1779.5 744.5L1791.5 753.5L1782.5 750.5L1770.5 747.5Z"/>
<path d="M1659.5 555.5L1671.5 597.5L1665.5 603.5L1653.5 549.5Z"/>
<path class="c" d="M1656 559.5h1M1659 562.5h1"/>
<path d="M1983.5 762.5L1995.5 756.5L1986.5 750.5L1974.5 756.5Z"/>
<path d="M1542.5 639.5L1554.5 525.5L1545.5 525.5L1533.5 642.5Z"/>
<path class="c" d="M1543 557.5h1M1546 558.5h1M1549 560.5h1"/>
<path d="M1863.5 762.5L1875.5 759.5L1869.5 750.5L1857.5 756.5Z"/>
<path d="M1746.5 714.5L1758.5 735.5L1749.5 738.5L1737.5 720.5Z"/>
<path d="M2067.5 762.5L2079.5 759.5L2073.5 753.5L2061.5 756.5Z"/>
<path d="M1626.5 468.5L1638.5 504.5L1632.5 489.5L1620.5 444.5Z"/>
<path class="c" d="M1624 460.5h1M1625 463.5h1"/>
<path d="M1950.5 762.5L1962.5 759.5L1953.5 753.5L1941.5 756.5Z"/>
<path d="M1830.5 762.5L1842.5 759.5L1836.5 753.5L1824.5 756.5Z"/>
<path d="M1713.5 666.5L1725.5 696.5L1716.5 705.5L1704.5 672.5Z"/>
<path d="M2034.5 762.5L2046.5 759.5L2040.5 753.5L2028.5 756.5Z"/>
<path d="M1593.5 429.5L1605.5 420.5L1599.5 384.5L1587.5 390.5Z"/>
<path d="M1917.5 762.5L1929.5 759.5L1920.5 753.5L1908.5 756.5Z"/>
<path d="M1797.5 753.5L1809.5 756.5L1803.5 753.5L1791.5 753.5Z"/>
<path d="M1680.5 597.5L1692.5 636.5L1686.5 642.5L1671.5 597.5Z"/>
<path d="M2001.5 765.5L2013.5 759.5L2007.5 753.5L1995.5 756.5Z"/>
<path d="M1560.5 531.5L1575.5 444.5L1566.5 417.5L1554.5 525.5Z"/>
<path class="c" d="M1564 461.5h1M1567 463.5h1M1570 465.5h1"/>
<path d="M1884.5 765.5L1896.5 759.5L1890.5 753.5L1875.5 759.5Z"/>
<path d="M1764.5 729.5L1779.5 744.5L1770.5 747.5L1758.5 735.5Z"/>
<path d="M2088.5 765.5L2100.5 762.5L2094.5 756.5L2079.5 759.5Z"/>
<path d="M1647.5 519.5L1659.5 555.5L1653.5 549.5L1638.5 504.5Z"/>
<path d="M1968.5 765.5L1983.5 762.5L1974.5 756.5L1962.5 759.5Z"/>
<path d="M1527.5 714.5L1542.5 639.5L1533.5 642.5L1521.5 717.5Z"/>
<path class="c" d="M1531 658.5h1M1534 661.5h1M1536 664.5h1"/>
<path d="M1851.5 765.5L1863.5 762.5L1857.5 756.5L1842.5 759.5Z"/>
<path d="M1731.5 690.5L1746.5 714.5L1737.5 720.5L1725.5 696.5Z"/>
<path d="M2055.5 765.5L2067.5 762.5L2061.5 756.5L2046.5 759.5Z"/>
<path d="M1614.5 453.5L1626.5 468.5L1620.5 444.5L1605.5 420.5Z"/>
<path class="c" d="M1625 466.5h1"/>
<path d="M1935.5 765.5L1950.5 762.5L1941.5 756.5L1929.5 759.5Z"/>
<path d="M1818.5 759.5L1830.5 762.5L1824.5 756.5L1809.5 756.5Z"/>
<path d="M1698.5 633.5L1713.5 666.5L1704.5 672.5L1692.5 636.5Z"/>
<path class="c" d="M1702 660.5h1M1705 661.5h1M1708 663.5h1M1711 664.5h1"/>
<path d="M2022.5 765.5L2034.5 762.5L2028.5 756.5L2013.5 759.5Z"/>
<path d="M1581.5 468.5L1593.5 429.5L1587.5 390.5L1575.5 444.5Z"/>
<path d="M1902.5 768.5L1917.5 762.5L1908.5 756.5L1896.5 759.5Z"/>
<path d="M1785.5 741.5L1797.5 753.5L1791.5 753.5L1779.5 744.5Z"/>
<path d="M1668.5 564.5L1680.5 597.5L1671.5 597.5L1659.5 555.5Z"/>
<path class="c" d="M1663 564.5h1M1666 567.5h1M1669 569.5h1"/>
<path d="M1989.5 768.5L2001.5 765.5L1995.5 756.5L1983.5 762.5Z"/>
<path d="M1548.5 633.5L1560.5 531.5L1554.5 525.5L1542.5 639.5Z"/>
<path class="c" d="M1550 562.5h1M1553 565.5h1M1556 568.5h1"/>
<path d="M1872.5 768.5L1884.5 765.5L1875.5 759.5L1863.5 762.5Z"/>
<path d="M1752.5 708.5L1764.5 729.5L1758.5 735.5L1746.5 714.5Z"/>
<path d="M2076.5 768.5L2088.5 765.5L2079.5 759.5L2067.5 762.5Z"/>
<path d="M1635.5 492.5L1647.5 519.5L1638.5 504.5L1626.5 468.5Z"/>
<path d="M1956.5 768.5L1968.5 765.5L1962.5 759.5L1950.5 762.5Z"/>
<path d="M1515.5 753.5L1527.5 714.5L1521.5 717.5L1509.5 750.5Z"/>
<path d="M1839.5 765.5L1851.5 765.5L1842.5 759.5L1830.5 762.5Z"/>
<path d="M1719.5 660.5L1731.5 690.5L1725.5 696.5L1713.5 666.5Z"/>
<path class="c" d="M1717 666.5h1M1720 668.5h1"/>
<path d="M2043.5 768.5L2055.5 765.5L2046.5 759.5L2034.5 762.5Z"/>
<path d="M1602.5 459.5L1614.5 453.5L1605.5 420.5L1593.5 429.5Z"/>
<path d="M1923.5 768.5L1935.5 765.5L1929.5 759.5L1917.5 762.5Z"/>
<path d="M1806.5 753.5L1818.5 759.5L1809.5 756.5L1797.5 753.5Z"/>
<path d="M1686.5 600.5L1698.5 633.5L1692.5 636.5L1680.5 597.5Z"/>
<path d="M2010.5 771.5L2022.5 765.5L2013.5 759.5L2001.5 765.5Z"/>
<path d="M1569.5 540.5L1581.5 468.5L1575.5 444.5L1560.5 531.5Z"/>
<path class="c" d="M1573 467.5h1M1576 468.5h1M1579 470.5h1"/>
<path d="M1890.5 771.5L1902.5 768.5L1896.5 759.5L1884.5 765.5Z"/>
<path d="M1773.5 726.5L1785.5 741.5L1779.5 744.5L1764.5 729.5Z"/>
<path d="M2094.5 771.5L2106.5 768.5L2100.5 762.5L2088.5 765.5Z"/>
<path d="M1653.5 534.5L1668.5 564.5L1659.5 555.5L1647.5 519.5Z"/>
<path d="M1977.5 771.5L1989.5 768.5L1983.5 762.5L1968.5 765.5Z"/>
<path d="M1536.5 714.5L1548.5 633.5L1542.5 639.5L1527.5 714.5Z"/>
<path class="c" d="M1539 667.5h1M1542 670.5h1"/>
<path d="M1857.5 771.5L1872.5 768.5L1863.5 762.5L1851.5 765.5Z"/>
<path d="M1740.5 684.5L1752.5 708.5L1746.5 714.5L1731.5 690.5Z"/>
<path d="M2061.5 771.5L2076.5 768.5L2067.5 762.5L2055.5 765.5Z"/>
<path d="M1620.5 483.5L1635.5 492.5L1626.5 468.5L1614.5 453.5Z"/>
<path class="c" d="M1623 469.5h1M1621 472.5h1M1619 475.5h1"/>
<path d="M1944.5 771.5L1956.5 768.5L1950.5 762.5L1935.5 765.5Z"/>
<path d="M1503.5 768.5L1515.5 753.5L1509.5 750.5L1494.5 762.5Z"/>
<path d="M1824.5 762.5L1839.5 765.5L1830.5 762.5L1818.5 759.5Z"/>
<path d="M1707.5 633.5L1719.5 660.5L1713.5 666.5L1698.5 633.5Z"/>
<path class="c" d="M1714 665.5h1"/>
<path d="M2028.5 774.5L2043.5 768.5L2034.5 762.5L2022.5 765.5Z"/>
<path d="M1587.5 492.5L1602.5 459.5L1593.5 429.5L1581.5 468.5Z"/>
<path class="c" d="M1585 473.5h1M1588 474.5h1M1591 474.5h1M1594 475.5h1"/>
<path d="M1911.5 774.5L1923.5 768.5L1917.5 762.5L1902.5 768.5Z"/>
<path d="M1791.5 738.5L1806.5 753.5L1797.5 753.5L1785.5 741.5Z"/>
<path d="M1674.5 573.5L1686.5 600.5L1680.5 597.5L1668.5 564.5Z"/>
<path class="c" d="M1673 574.5h1"/>
<path d="M1995.5 774.5L2010.5 771.5L2001.5 765.5L1989.5 768.5Z"/>
<path d="M1554.5 630.5L1569.5 540.5L1560.5 531.5L1548.5 633.5Z"/>
<path class="c" d="M1558 569.5h1M1561 572.5h1"/>
<path d="M1878.5 774.5L1890.5 771.5L1884.5 765.5L1872.5 768.5Z"/>
<path d="M1758.5 705.5L1773.5 726.5L1764.5 729.5L1752.5 708.5Z"/>
<path d="M2082.5 774.5L2094.5 771.5L2088.5 765.5L2076.5 768.5Z"/>
<path d="M1641.5 516.5L1653.5 534.5L1647.5 519.5L1635.5 492.5Z"/>
<path d="M1962.5 774.5L1977.5 771.5L1968.5 765.5L1956.5 768.5Z"/>
<path d="M1524.5 756.5L1536.5 714.5L1527.5 714.5L1515.5 753.5Z"/>
<path d="M1845.5 768.5L1857.5 771.5L1851.5 765.5L1839.5 765.5Z"/>
<path d="M1728.5 660.5L1740.5 684.5L1731.5 690.5L1719.5 660.5Z"/>
<path class="c" d="M1723 669.5h1M1726 670.5h1M1729 671.5h1M1732 672.5h1M1735 674.5h1"/>
<path d="M2049.5 774.5L2061.5 771.5L2055.5 765.5L2043.5 768.5Z"/>
<path d="M1608.5 489.5L1620.5 483.5L1614.5 453.5L1602.5 459.5Z"/>
<path class="c" d="M1609 478.5h1M1612 477.5h1M1615 476.5h1M1618 476.5h1"/>
<path d="M1932.5 774.5L1944.5 771.5L1935.5 765.5L1923.5 768.5Z"/>
<path d="M1491.5 774.5L1503.5 768.5L1494.5 762.5L1482.5 768.5Z"/>
<path d="M1812.5 750.5L1824.5 762.5L1818.5 759.5L1806.5 753.5Z"/>
<path d="M1695.5 606.5L1707.5 633.5L1698.5 633.5L1686.5 600.5Z"/>
<path d="M2016.5 777.5L2028.5 774.5L2022.5 765.5L2010.5 771.5Z"/>
<path d="M1575.5 549.5L1587.5 492.5L1581.5 468.5L1569.5 540.5Z"/>
<path class="c" d="M1582 472.5h1"/>
<path d="M1899.5 777.5L1911.5 774.5L1902.5 768.5L1890.5 771.5Z"/>
<path d="M1779.5 723.5L1791.5 738.5L1785.5 741.5L1773.5 726.5Z"/>
<path d="M2103.5 777.5L2115.5 774.5L2106.5 768.5L2094.5 771.5Z"/>
<path d="M1662.5 552.5L1674.5 573.5L1668.5 564.5L1653.5 534.5Z"/>
<path d="M1983.5 777.5L1995.5 774.5L1989.5 768.5L1977.5 771.5Z"/>
<path d="M1542.5 711.5L1554.5 630.5L1548.5 633.5L1536.5 714.5Z"/>
<path class="c" d="M1544 673.5h1M1546 676.5h1"/>
<path d="M1866.5 774.5L1878.5 774.5L1872.5 768.5L1857.5 771.5Z"/>
<path d="M1746.5 684.5L1758.5 705.5L1752.5 708.5L1740.5 684.5Z"/>
<path d="M2070.5 777.5L2082.5 774.5L2076.5 768.5L2061.5 771.5Z"/>
<path d="M1629.5 507.5L1641.5 516.5L1635.5 492.5L1620.5 483.5Z"/>
<path d="M1950.5 777.5L1962.5 774.5L1956.5 768.5L1944.5 771.5Z"/>
<path d="M1509.5 774.5L1524.5 756.5L1515.5 753.5L1503.5 768.5Z"/>
<path d="M1833.5 759.5L1845.5 768.5L1839.5 765.5L1824.5 762.5Z"/>
<path d="M1713.5 636.5L1728.5 660.5L1719.5 660.5L1707.5 633.5Z"/>
<path d="M2037.5 780.5L2049.5 774.5L2043.5 768.5L2028.5 774.5Z"/>
<path d="M1596.5 513.5L1608.5 489.5L1602.5 459.5L1587.5 492.5Z"/>
<path class="c" d="M1597 476.5h1M1600 477.5h1M1603 477.5h1M1606 478.5h1"/>
<path d="M1917.5 780.5L1932.5 774.5L1923.5 768.5L1911.5 774.5Z"/>
<path d="M1476.5 780.5L1491.5 774.5L1482.5 768.5L1470.5 774.5Z"/>
<path d="M1800.5 735.5L1812.5 750.5L1806.5 753.5L1791.5 738.5Z"/>
<path d="M1680.5 585.5L1695.5 606.5L1686.5 600.5L1674.5 573.5Z"/>
<path class="c" d="M1676 577.5h1M1677 580.5h1"/>
<path d="M2004.5 780.5L2016.5 777.5L2010.5 771.5L1995.5 774.5Z"/>
<path d="M1563.5 627.5L1575.5 549.5L1569.5 540.5L1554.5 630.5Z"/>
<path class="c" d="M1564 575.5h1M1567 577.5h1M1570 579.5h1"/>
<path d="M1884.5 777.5L1899.5 777.5L1890.5 771.5L1878.5 774.5Z"/>
<path d="M1767.5 702.5L1779.5 723.5L1773.5 726.5L1758.5 705.5Z"/>
<path d="M2088.5 780.5L2103.5 777.5L2094.5 771.5L2082.5 774.5Z"/>
<path d="M1647.5 537.5L1662.5 552.5L1653.5 534.5L1641.5 516.5Z"/>
<path d="M1971.5 780.5L1983.5 777.5L1977.5 771.5L1962.5 774.5Z"/>
<path d="M1530.5 759.5L1542.5 711.5L1536.5 714.5L1524.5 756.5Z"/>
<path d="M1851.5 768.5L1866.5 774.5L1857.5 771.5L1845.5 768.5Z"/>
<path d="M1734.5 660.5L1746.5 684.5L1740.5 684.5L1728.5 660.5Z"/>
<path class="c" d="M1738 676.5h1M1741 678.5h1M1744 680.5h1"/>
<path d="M2055.5 780.5L2070.5 777.5L2061.5 771.5L2049.5 774.5Z"/>
<path d="M1617.5 513.5L1629.5 507.5L1620.5 483.5L1608.5 489.5Z"/>
<path d="M1938.5 783.5L1950.5 777.5L1944.5 771.5L1932.5 774.5Z"/>
<path d="M1497.5 780.5L1509.5 774.5L1503.5 768.5L1491.5 774.5Z"/>
<path d="M1821.5 747.5L1833.5 759.5L1824.5 762.5L1812.5 750.5Z"/>
<path d="M1701.5 615.5L1713.5 636.5L1707.5 633.5L1695.5 606.5Z"/>
<path d="M2025.5 783.5L2037.5 780.5L2028.5 774.5L2016.5 777.5Z"/>
<path d="M1584.5 561.5L1596.5 513.5L1587.5 492.5L1575.5 549.5Z"/>
<path d="M1905.5 783.5L1917.5 780.5L1911.5 774.5L1899.5 777.5Z"/>
<path d="M1464.5 783.5L1476.5 780.5L1470.5 774.5L1458.5 777.5Z"/>
<path d="M1788.5 720.5L1800.5 735.5L1791.5 738.5L1779.5 723.5Z"/>
<path d="M2109.5 783.5L2121.5 780.5L2115.5 774.5L2103.5 777.5Z"/>
<path d="M1668.5 567.5L1680.5 585.5L1674.5 573.5L1662.5 552.5Z"/>
<path class="c" d="M1679 583.5h1"/>
<path d="M1992.5 783.5L2004.5 780.5L1995.5 774.5L1983.5 777.5Z"/>
<path d="M1551.5 708.5L1563.5 627.5L1554.5 630.5L1542.5 711.5Z"/>
<path class="c" d="M1549 678.5h1M1552 680.5h1M1555 683.5h1"/>
<path d="M1872.5 774.5L1884.5 777.5L1878.5 774.5L1866.5 774.5Z"/>
<path d="M1755.5 684.5L1767.5 702.5L1758.5 705.5L1746.5 684.5Z"/>
<path class="c" d="M1753 684.5h1M1756 686.5h1"/>
<path d="M2076.5 783.5L2088.5 780.5L2082.5 774.5L2070.5 777.5Z"/>
<path d="M1635.5 531.5L1647.5 537.5L1641.5 516.5L1629.5 507.5Z"/>
<path d="M1959.5 783.5L1971.5 780.5L1962.5 774.5L1950.5 777.5Z"/>
<path d="M1518.5 780.5L1530.5 759.5L1524.5 756.5L1509.5 774.5Z"/>
<path d="M1839.5 759.5L1851.5 768.5L1845.5 768.5L1833.5 759.5Z"/>
<path d="M1722.5 642.5L1734.5 660.5L1728.5 660.5L1713.5 636.5Z"/>
<path d="M2043.5 786.5L2055.5 780.5L2049.5 774.5L2037.5 780.5Z"/>
<path d="M1602.5 534.5L1617.5 513.5L1608.5 489.5L1596.5 513.5Z"/>
<path d="M1926.5 786.5L1938.5 783.5L1932.5 774.5L1917.5 780.5Z"/>
<path d="M1485.5 786.5L1497.5 780.5L1491.5 774.5L1476.5 780.5Z"/>
<path d="M1806.5 735.5L1821.5 747.5L1812.5 750.5L1800.5 735.5Z"/>
<path d="M1689.5 597.5L1701.5 615.5L1695.5 606.5L1680.5 585.5Z"/>
<path d="M2010.5 786.5L2025.5 783.5L2016.5 777.5L2004.5 780.5Z"/>
<path d="M1569.5 630.5L1584.5 561.5L1575.5 549.5L1563.5 627.5Z"/>
<path class="c" d="M1573 583.5h1M1576 586.5h1"/>
<path d="M1893.5 780.5L1905.5 783.5L1899.5 777.5L1884.5 777.5Z"/>
<path d="M1773.5 702.5L1788.5 720.5L1779.5 723.5L1767.5 702.5Z"/>
<path d="M2097.5 786.5L2109.5 783.5L2103.5 777.5L2088.5 780.5Z"/>
<path d="M1656.5 555.5L1668.5 567.5L1662.5 552.5L1647.5 537.5Z"/>
<path d="M1977.5 786.5L1992.5 783.5L1983.5 777.5L1971.5 780.5Z"/>
<path d="M1536.5 762.5L1551.5 708.5L1542.5 711.5L1530.5 759.5Z"/>
<path d="M1860.5 768.5L1872.5 774.5L1866.5 774.5L1851.5 768.5Z"/>
<path d="M1740.5 666.5L1755.5 684.5L1746.5 684.5L1734.5 660.5Z"/>
<path class="c" d="M1747 682.5h1M1750 683.5h1"/>
<path d="M2064.5 789.5L2076.5 783.5L2070.5 777.5L2055.5 780.5Z"/>
<path d="M1623.5 537.5L1635.5 531.5L1629.5 507.5L1617.5 513.5Z"/>
<path d="M1944.5 789.5L1959.5 783.5L1950.5 777.5L1938.5 783.5Z"/>
<path d="M1506.5 786.5L1518.5 780.5L1509.5 774.5L1497.5 780.5Z"/>
<path d="M1827.5 747.5L1839.5 759.5L1833.5 759.5L1821.5 747.5Z"/>
<path d="M1710.5 624.5L1722.5 642.5L1713.5 636.5L1701.5 615.5Z"/>
<path d="M2031.5 789.5L2043.5 786.5L2037.5 780.5L2025.5 783.5Z"/>
<path d="M1590.5 573.5L1602.5 534.5L1596.5 513.5L1584.5 561.5Z"/>
<path d="M1914.5 786.5L1926.5 786.5L1917.5 780.5L1905.5 783.5Z"/>
<path d="M1473.5 789.5L1485.5 786.5L1476.5 780.5L1464.5 783.5Z"/>
<path d="M1794.5 717.5L1806.5 735.5L1800.5 735.5L1788.5 720.5Z"/>
<path d="M2118.5 789.5L2130.5 786.5L2121.5 780.5L2109.5 783.5Z"/>
<path d="M1677.5 582.5L1689.5 597.5L1680.5 585.5L1668.5 567.5Z"/>
<path class="c" d="M1680 586.5h1M1682 589.5h1"/>
<path d="M1998.5 789.5L2010.5 786.5L2004.5 780.5L1992.5 783.5Z"/>
<path d="M1557.5 705.5L1569.5 630.5L1563.5 627.5L1551.5 708.5Z"/>
<path class="c" d="M1556 685.5h1M1558 688.5h1"/>
<path d="M1881.5 777.5L1893.5 780.5L1884.5 777.5L1872.5 774.5Z"/>
<path d="M1761.5 684.5L1773.5 702.5L1767.5 702.5L1755.5 684.5Z"/>
<path class="c" d="M1759 687.5h1M1762 688.5h1M1765 690.5h1"/>
<path d="M2085.5 789.5L2097.5 786.5L2088.5 780.5L2076.5 783.5Z"/>
<path d="M1644.5 552.5L1656.5 555.5L1647.5 537.5L1635.5 531.5Z"/>
<path d="M1965.5 789.5L1977.5 786.5L1971.5 780.5L1959.5 783.5Z"/>
<path d="M1524.5 786.5L1536.5 762.5L1530.5 759.5L1518.5 780.5Z"/>
<path d="M1848.5 759.5L1860.5 768.5L1851.5 768.5L1839.5 759.5Z"/>
<path d="M1728.5 648.5L1740.5 666.5L1734.5 660.5L1722.5 642.5Z"/>
<path d="M2052.5 792.5L2064.5 789.5L2055.5 780.5L2043.5 786.5Z"/>
<path d="M1611.5 552.5L1623.5 537.5L1617.5 513.5L1602.5 534.5Z"/>
<path d="M1932.5 789.5L1944.5 789.5L1938.5 783.5L1926.5 786.5Z"/>
<path d="M1491.5 792.5L1506.5 786.5L1497.5 780.5L1485.5 786.5Z"/>
<path d="M1815.5 732.5L1827.5 747.5L1821.5 747.5L1806.5 735.5Z"/>
<path d="M1695.5 609.5L1710.5 624.5L1701.5 615.5L1689.5 597.5Z"/>
<path d="M2019.5 792.5L2031.5 789.5L2025.5 783.5L2010.5 786.5Z"/>
<path d="M1578.5 630.5L1590.5 573.5L1584.5 561.5L1569.5 630.5Z"/>
<path class="c" d="M1579 588.5h1M1582 590.5h1M1585 593.5h1"/>
<path d="M1899.5 783.5L1914.5 786.5L1905.5 783.5L1893.5 780.5Z"/>
<path d="M1782.5 702.5L1794.5 717.5L1788.5 720.5L1773.5 702.5Z"/>
<path d="M2103.5 792.5L2118.5 789.5L2109.5 783.5L2097.5 786.5Z"/>
<path d="M1662.5 573.5L1677.5 582.5L1668.5 567.5L1656.5 555.5Z"/>
<path d="M1986.5 792.5L1998.5 789.5L1992.5 783.5L1977.5 786.5Z"/>
<path d="M1545.5 762.5L1557.5 705.5L1551.5 708.5L1536.5 762.5Z"/>
<path d="M1866.5 768.5L1881.5 777.5L1872.5 774.5L1860.5 768.5Z"/>
<path d="M1749.5 669.5L1761.5 684.5L1755.5 684.5L1740.5 666.5Z"/>
<path d="M2070.5 795.5L2085.5 789.5L2076.5 783.5L2064.5 789.5Z"/>
<path d="M1629.5 555.5L1644.5 552.5L1635.5 531.5L1623.5 537.5Z"/>
<path d="M1953.5 795.5L1965.5 789.5L1959.5 783.5L1944.5 789.5Z"/>
<path d="M1512.5 792.5L1524.5 786.5L1518.5 780.5L1506.5 786.5Z"/>
<path d="M1833.5 747.5L1848.5 759.5L1839.5 759.5L1827.5 747.5Z"/>
<path d="M1716.5 633.5L1728.5 648.5L1722.5 642.5L1710.5 624.5Z"/>
<path d="M2037.5 795.5L2052.5 792.5L2043.5 786.5L2031.5 789.5Z"/>
<path d="M1599.5 585.5L1611.5 552.5L1602.5 534.5L1590.5 573.5Z"/>
<path d="M1920.5 789.5L1932.5 789.5L1926.5 786.5L1914.5 786.5Z"/>
<path d="M1479.5 795.5L1491.5 792.5L1485.5 786.5L1473.5 789.5Z"/>
<path d="M1803.5 720.5L1815.5 732.5L1806.5 735.5L1794.5 717.5Z"/>
<path d="M2124.5 795.5L2136.5 792.5L2130.5 786.5L2118.5 789.5Z"/>
<path d="M1683.5 597.5L1695.5 609.5L1689.5 597.5L1677.5 582.5Z"/>
<path class="c" d="M1684 592.5h1M1684 595.5h1M1684 598.5h1"/>
<path d="M2007.5 795.5L2019.5 792.5L2010.5 786.5L1998.5 789.5Z"/>
<path d="M1566.5 702.5L1578.5 630.5L1569.5 630.5L1557.5 705.5Z"/>
<path class="c" d="M1561 691.5h1M1564 694.5h1M1567 696.5h1"/>
<path d="M1887.5 777.5L1899.5 783.5L1893.5 780.5L1881.5 777.5Z"/>
<path d="M1770.5 687.5L1782.5 702.5L1773.5 702.5L1761.5 684.5Z"/>
<path class="c" d="M1768 691.5h1M1771 692.5h1M1774 694.5h1"/>
<path d="M2091.5 795.5L2103.5 792.5L2097.5 786.5L2085.5 789.5Z"/>
<path d="M1650.5 570.5L1662.5 573.5L1656.5 555.5L1644.5 552.5Z"/>
<path d="M1974.5 798.5L1986.5 792.5L1977.5 786.5L1965.5 789.5Z"/>
<path d="M1533.5 789.5L1545.5 762.5L1536.5 762.5L1524.5 786.5Z"/>
<path d="M1854.5 756.5L1866.5 768.5L1860.5 768.5L1848.5 759.5Z"/>
<path d="M1737.5 654.5L1749.5 669.5L1740.5 666.5L1728.5 648.5Z"/>
<path d="M2058.5 798.5L2070.5 795.5L2064.5 789.5L2052.5 792.5Z"/>
<path d="M1617.5 570.5L1629.5 555.5L1623.5 537.5L1611.5 552.5Z"/>
<path d="M1941.5 795.5L1953.5 795.5L1944.5 789.5L1932.5 789.5Z"/>
<path d="M1500.5 798.5L1512.5 792.5L1506.5 786.5L1491.5 792.5Z"/>
<path d="M1821.5 732.5L1833.5 747.5L1827.5 747.5L1815.5 732.5Z"/>
<path d="M1704.5 621.5L1716.5 633.5L1710.5 624.5L1695.5 609.5Z"/>
<path d="M2025.5 798.5L2037.5 795.5L2031.5 789.5L2019.5 792.5Z"/>
<path d="M1584.5 633.5L1599.5 585.5L1590.5 573.5L1578.5 630.5Z"/>
<path class="c" d="M1588 595.5h1M1591 597.5h1M1594 598.5h1"/>
<path d="M1908.5 783.5L1920.5 789.5L1914.5 786.5L1899.5 783.5Z"/>
<path d="M1788.5 705.5L1803.5 720.5L1794.5 717.5L1782.5 702.5Z"/>
<path d="M2112.5 798.5L2124.5 795.5L2118.5 789.5L2103.5 792.5Z"/>
<path d="M1671.5 591.5L1683.5 597.5L1677.5 582.5L1662.5 573.5Z"/>
<path d="M1992.5 798.5L2007.5 795.5L1998.5 789.5L1986.5 792.5Z"/>
<path d="M1551.5 765.5L1566.5 702.5L1557.5 705.5L1545.5 762.5Z"/>
<path d="M1875.5 768.5L1887.5 777.5L1881.5 777.5L1866.5 768.5Z"/>
<path d="M1755.5 675.5L1770.5 687.5L1761.5 684.5L1749.5 669.5Z"/>
<path d="M2079.5 801.5L2091.5 795.5L2085.5 789.5L2070.5 795.5Z"/>
<path d="M1638.5 576.5L1650.5 570.5L1644.5 552.5L1629.5 555.5Z"/>
<path d="M1959.5 798.5L1974.5 798.5L1965.5 789.5L1953.5 795.5Z"/>
<path d="M1518.5 798.5L1533.5 789.5L1524.5 786.5L1512.5 792.5Z"/>
<path d="M1842.5 747.5L1854.5 756.5L1848.5 759.5L1833.5 747.5Z"/>
<path d="M1722.5 642.5L1737.5 654.5L1728.5 648.5L1716.5 633.5Z"/>
<path d="M2046.5 801.5L2058.5 798.5L2052.5 792.5L2037.5 795.5Z"/>
<path d="M1605.5 597.5L1617.5 570.5L1611.5 552.5L1599.5 585.5Z"/>
<path d="M1926.5 792.5L1941.5 795.5L1932.5 789.5L1920.5 789.5Z"/>
<path d="M1488.5 801.5L1500.5 798.5L1491.5 792.5L1479.5 795.5Z"/>
<path d="M1809.5 720.5L1821.5 732.5L1815.5 732.5L1803.5 720.5Z"/>
<path d="M2130.5 801.5L2145.5 798.5L2136.5 792.5L2124.5 795.5Z"/>
<path d="M1692.5 612.5L1704.5 621.5L1695.5 609.5L1683.5 597.5Z"/>
<path d="M2013.5 801.5L2025.5 798.5L2019.5 792.5L2007.5 795.5Z"/>
<path d="M1572.5 699.5L1584.5 633.5L1578.5 630.5L1566.5 702.5Z"/>
<path class="c" d="M1567 697.5h1M1569 700.5h1"/>
<path d="M1896.5 777.5L1908.5 783.5L1899.5 783.5L1887.5 777.5Z"/>
<path d="M1776.5 693.5L1788.5 705.5L1782.5 702.5L1770.5 687.5Z"/>
<path class="c" d="M1777 695.5h1M1780 697.5h1M1783 700.5h1"/>
<path d="M2097.5 804.5L2112.5 798.5L2103.5 792.5L2091.5 795.5Z"/>
<path d="M1659.5 591.5L1671.5 591.5L1662.5 573.5L1650.5 570.5Z"/>
<path d="M1980.5 801.5L1992.5 798.5L1986.5 792.5L1974.5 798.5Z"/>
<path d="M1539.5 795.5L1551.5 765.5L1545.5 762.5L1533.5 789.5Z"/>
<path d="M1863.5 756.5L1875.5 768.5L1866.5 768.5L1854.5 756.5Z"/>
<path d="M1743.5 663.5L1755.5 675.5L1749.5 669.5L1737.5 654.5Z"/>
<path d="M2067.5 804.5L2079.5 801.5L2070.5 795.5L2058.5 798.5Z"/>
<path d="M1626.5 588.5L1638.5 576.5L1629.5 555.5L1617.5 570.5Z"/>
<path d="M1947.5 798.5L1959.5 798.5L1953.5 795.5L1941.5 795.5Z"/>
<path d="M1506.5 804.5L1518.5 798.5L1512.5 792.5L1500.5 798.5Z"/>
<path d="M1830.5 735.5L1842.5 747.5L1833.5 747.5L1821.5 732.5Z"/>
<path d="M1710.5 633.5L1722.5 642.5L1716.5 633.5L1704.5 621.5Z"/>
<path d="M2034.5 804.5L2046.5 801.5L2037.5 795.5L2025.5 798.5Z"/>
<path d="M1593.5 639.5L1605.5 597.5L1599.5 585.5L1584.5 633.5Z"/>
<path class="c" d="M1597 601.5h1M1600 603.5h1M1603 605.5h1"/>
<path d="M1914.5 783.5L1926.5 792.5L1920.5 789.5L1908.5 783.5Z"/>
<path d="M1797.5 708.5L1809.5 720.5L1803.5 720.5L1788.5 705.5Z"/>
<path d="M2118.5 804.5L2130.5 801.5L2124.5 795.5L2112.5 798.5Z"/>
<path d="M1677.5 606.5L1692.5 612.5L1683.5 597.5L1671.5 591.5Z"/>
<path class="c" d="M1683 601.5h1M1681 604.5h1M1679 607.5h1"/>
<path d="M2001.5 804.5L2013.5 801.5L2007.5 795.5L1992.5 798.5Z"/>
<path d="M1560.5 765.5L1572.5 699.5L1566.5 702.5L1551.5 765.5Z"/>
<path class="c" d="M1571 703.5h1"/>
<path d="M1881.5 768.5L1896.5 777.5L1887.5 777.5L1875.5 768.5Z"/>
<path d="M1764.5 681.5L1776.5 693.5L1770.5 687.5L1755.5 675.5Z"/>
<path d="M2085.5 807.5L2097.5 804.5L2091.5 795.5L2079.5 801.5Z"/>
<path d="M1644.5 594.5L1659.5 591.5L1650.5 570.5L1638.5 576.5Z"/>
<path d="M1968.5 801.5L1980.5 801.5L1974.5 798.5L1959.5 798.5Z"/>
<path d="M1527.5 804.5L1539.5 795.5L1533.5 789.5L1518.5 798.5Z"/>
<path d="M1848.5 747.5L1863.5 756.5L1854.5 756.5L1842.5 747.5Z"/>
<path d="M1731.5 654.5L1743.5 663.5L1737.5 654.5L1722.5 642.5Z"/>
<path d="M2052.5 807.5L2067.5 804.5L2058.5 798.5L2046.5 801.5Z"/>
<path d="M1611.5 609.5L1626.5 588.5L1617.5 570.5L1605.5 597.5Z"/>
<path d="M1935.5 792.5L1947.5 798.5L1941.5 795.5L1926.5 792.5Z"/>
<path d="M1494.5 807.5L1506.5 804.5L1500.5 798.5L1488.5 801.5Z"/>
<path d="M1815.5 723.5L1830.5 735.5L1821.5 732.5L1809.5 720.5Z"/>
<path d="M2139.5 807.5L2151.5 804.5L2145.5 798.5L2130.5 801.5Z"/>
<path d="M1698.5 627.5L1710.5 633.5L1704.5 621.5L1692.5 612.5Z"/>
<path d="M2019.5 807.5L2034.5 804.5L2025.5 798.5L2013.5 801.5Z"/>
<path d="M1578.5 699.5L1593.5 639.5L1584.5 633.5L1572.5 699.5Z"/>
<path d="M1902.5 777.5L1914.5 783.5L1908.5 783.5L1896.5 777.5Z"/>
<path d="M1782.5 699.5L1797.5 708.5L1788.5 705.5L1776.5 693.5Z"/>
<path class="c" d="M1786 702.5h1M1789 703.5h1M1792 705.5h1"/>
<path d="M2106.5 810.5L2118.5 804.5L2112.5 798.5L2097.5 804.5Z"/>
<path d="M1665.5 606.5L1677.5 606.5L1671.5 591.5L1659.5 591.5Z"/>
<path d="M1986.5 807.5L2001.5 804.5L1992.5 798.5L1980.5 801.5Z"/>
<path d="M1548.5 798.5L1560.5 765.5L1551.5 765.5L1539.5 795.5Z"/>
<path d="M1869.5 759.5L1881.5 768.5L1875.5 768.5L1863.5 756.5Z"/>
<path d="M1752.5 672.5L1764.5 681.5L1755.5 675.5L1743.5 663.5Z"/>
<path d="M2073.5 810.5L2085.5 807.5L2079.5 801.5L2067.5 804.5Z"/>
<path d="M1632.5 603.5L1644.5 594.5L1638.5 576.5L1626.5 588.5Z"/>
<path d="M1956.5 798.5L1968.5 801.5L1959.5 798.5L1947.5 798.5Z"/>
<path d="M1515.5 810.5L1527.5 804.5L1518.5 798.5L1506.5 804.5Z"/>
<path d="M1836.5 738.5L1848.5 747.5L1842.5 747.5L1830.5 735.5Z"/>
<path d="M1719.5 645.5L1731.5 654.5L1722.5 642.5L1710.5 633.5Z"/>
<path d="M2040.5 810.5L2052.5 807.5L2046.5 801.5L2034.5 804.5Z"/>
<path d="M1599.5 645.5L1611.5 609.5L1605.5 597.5L1593.5 639.5Z"/>
<path class="c" d="M1606 607.5h1M1609 609.5h1"/>
<path d="M1923.5 786.5L1935.5 792.5L1926.5 792.5L1914.5 783.5Z"/>
<path d="M1803.5 714.5L1815.5 723.5L1809.5 720.5L1797.5 708.5Z"/>
<path d="M2127.5 810.5L2139.5 807.5L2130.5 801.5L2118.5 804.5Z"/>
<path d="M1686.5 624.5L1698.5 627.5L1692.5 612.5L1677.5 606.5Z"/>
<path d="M2007.5 810.5L2019.5 807.5L2013.5 801.5L2001.5 804.5Z"/>
<path d="M1566.5 762.5L1578.5 699.5L1572.5 699.5L1560.5 765.5Z"/>
<path class="c" d="M1573 706.5h1M1575 709.5h1"/>
<path d="M1890.5 768.5L1902.5 777.5L1896.5 777.5L1881.5 768.5Z"/>
<path d="M1770.5 690.5L1782.5 699.5L1776.5 693.5L1764.5 681.5Z"/>
<path d="M2094.5 813.5L2106.5 810.5L2097.5 804.5L2085.5 807.5Z"/>
<path d="M1653.5 609.5L1665.5 606.5L1659.5 591.5L1644.5 594.5Z"/>
<path d="M1974.5 804.5L1986.5 807.5L1980.5 801.5L1968.5 801.5Z"/>
<path d="M1533.5 810.5L1548.5 798.5L1539.5 795.5L1527.5 804.5Z"/>
<path d="M1857.5 750.5L1869.5 759.5L1863.5 756.5L1848.5 747.5Z"/>
<path d="M1737.5 663.5L1752.5 672.5L1743.5 663.5L1731.5 654.5Z"/>
<path d="M2061.5 813.5L2073.5 810.5L2067.5 804.5L2052.5 807.5Z"/>
<path d="M1620.5 621.5L1632.5 603.5L1626.5 588.5L1611.5 609.5Z"/>
<path class="c" d="M1615 611.5h1M1618 612.5h1M1621 613.5h1M1624 614.5h1"/>
<path d="M1941.5 792.5L1956.5 798.5L1947.5 798.5L1935.5 792.5Z"/>
<path d="M1500.5 813.5L1515.5 810.5L1506.5 804.5L1494.5 807.5Z"/>
<path d="M1824.5 729.5L1836.5 738.5L1830.5 735.5L1815.5 723.5Z"/>
<path d="M2145.5 813.5L2160.5 810.5L2151.5 804.5L2139.5 807.5Z"/>
<path d="M1704.5 639.5L1719.5 645.5L1710.5 633.5L1698.5 627.5Z"/>
<path d="M2028.5 813.5L2040.5 810.5L2034.5 804.5L2019.5 807.5Z"/>
<path d="M1587.5 699.5L1599.5 645.5L1593.5 639.5L1578.5 699.5Z"/>
<path d="M1908.5 777.5L1923.5 786.5L1914.5 783.5L1902.5 777.5Z"/>
<path d="M1791.5 705.5L1803.5 714.5L1797.5 708.5L1782.5 699.5Z"/>
<path class="c" d="M1795 707.5h1M1798 709.5h1M1801 712.5h1"/>
<path d="M2112.5 816.5L2127.5 810.5L2118.5 804.5L2106.5 810.5Z"/>
<path d="M1671.5 621.5L1686.5 624.5L1677.5 606.5L1665.5 606.5Z"/>
<path class="c" d="M1672 613.5h1M1675 611.5h1M1678 609.5h1"/>
<path d="M1995.5 810.5L2007.5 810.5L2001.5 804.5L1986.5 807.5Z"/>
<path d="M1554.5 804.5L1566.5 762.5L1560.5 765.5L1548.5 798.5Z"/>
<path d="M1875.5 759.5L1890.5 768.5L1881.5 768.5L1869.5 759.5Z"/>
<path d="M1758.5 681.5L1770.5 690.5L1764.5 681.5L1752.5 672.5Z"/>
<path d="M2079.5 816.5L2094.5 813.5L2085.5 807.5L2073.5 810.5Z"/>
<path d="M1641.5 618.5L1653.5 609.5L1644.5 594.5L1632.5 603.5Z"/>
<path d="M1962.5 801.5L1974.5 804.5L1968.5 801.5L1956.5 798.5Z"/>
<path d="M1521.5 816.5L1533.5 810.5L1527.5 804.5L1515.5 810.5Z"/>
<path d="M1845.5 741.5L1857.5 750.5L1848.5 747.5L1836.5 738.5Z"/>
<path d="M1725.5 657.5L1737.5 663.5L1731.5 654.5L1719.5 645.5Z"/>
<path d="M2049.5 816.5L2061.5 813.5L2052.5 807.5L2040.5 810.5Z"/>
<path d="M1608.5 651.5L1620.5 621.5L1611.5 609.5L1599.5 645.5Z"/>
<path class="c" d="M1612 610.5h1"/>
<path d="M1929.5 786.5L1941.5 792.5L1935.5 792.5L1923.5 786.5Z"/>
<path d="M1812.5 720.5L1824.5 729.5L1815.5 723.5L1803.5 714.5Z"/>
<path d="M2133.5 819.5L2145.5 813.5L2139.5 807.5L2127.5 810.5Z"/>
<path d="M1692.5 636.5L1704.5 639.5L1698.5 627.5L1686.5 624.5Z"/>
<path d="M2016.5 816.5L2028.5 813.5L2019.5 807.5L2007.5 810.5Z"/>
<path d="M1575.5 762.5L1587.5 699.5L1578.5 699.5L1566.5 762.5Z"/>
<path class="c" d="M1579 713.5h1M1582 716.5h1"/>
<path d="M1896.5 771.5L1908.5 777.5L1902.5 777.5L1890.5 768.5Z"/>
<path d="M1779.5 696.5L1791.5 705.5L1782.5 699.5L1770.5 690.5Z"/>
<path d="M2100.5 819.5L2112.5 816.5L2106.5 810.5L2094.5 813.5Z"/>
<path d="M1659.5 624.5L1671.5 621.5L1665.5 606.5L1653.5 609.5Z"/>
<path class="c" d="M1660 617.5h1M1663 617.5h1M1666 616.5h1M1669 615.5h1"/>
<path d="M1983.5 807.5L1995.5 810.5L1986.5 807.5L1974.5 804.5Z"/>
<path d="M1542.5 816.5L1554.5 804.5L1548.5 798.5L1533.5 810.5Z"/>
<path d="M1863.5 753.5L1875.5 759.5L1869.5 759.5L1857.5 750.5Z"/>
<path d="M1746.5 675.5L1758.5 681.5L1752.5 672.5L1737.5 663.5Z"/>
<path d="M2067.5 819.5L2079.5 816.5L2073.5 810.5L2061.5 813.5Z"/>
<path d="M1626.5 636.5L1641.5 618.5L1632.5 603.5L1620.5 621.5Z"/>
<path class="c" d="M1627 615.5h1M1630 616.5h1M1633 616.5h1M1636 617.5h1M1639 618.5h1"/>
<path d="M1950.5 795.5L1962.5 801.5L1956.5 798.5L1941.5 792.5Z"/>
<path d="M1509.5 819.5L1521.5 816.5L1515.5 810.5L1500.5 813.5Z"/>
<path d="M1830.5 732.5L1845.5 741.5L1836.5 738.5L1824.5 729.5Z"/>
<path d="M2154.5 819.5L2166.5 816.5L2160.5 810.5L2145.5 813.5Z"/>
<path d="M1713.5 654.5L1725.5 657.5L1719.5 645.5L1704.5 639.5Z"/>
<path d="M2034.5 819.5L2049.5 816.5L2040.5 810.5L2028.5 813.5Z"/>
<path d="M1593.5 699.5L1608.5 651.5L1599.5 645.5L1587.5 699.5Z"/>
<path d="M1917.5 780.5L1929.5 786.5L1923.5 786.5L1908.5 777.5Z"/>
<path d="M1797.5 711.5L1812.5 720.5L1803.5 714.5L1791.5 705.5Z"/>
<path class="c" d="M1804 714.5h1M1807 716.5h1M1810 718.5h1"/>
<path d="M2121.5 822.5L2133.5 819.5L2127.5 810.5L2112.5 816.5Z"/>
<path d="M1680.5 636.5L1692.5 636.5L1686.5 624.5L1671.5 621.5Z"/>
<path d="M2001.5 813.5L2016.5 816.5L2007.5 810.5L1995.5 810.5Z"/>
<path d="M1560.5 807.5L1575.5 762.5L1566.5 762.5L1554.5 804.5Z"/>
<path d="M1884.5 762.5L1896.5 771.5L1890.5 768.5L1875.5 759.5Z"/>
<path d="M1764.5 690.5L1779.5 696.5L1770.5 690.5L1758.5 681.5Z"/>
<path d="M2088.5 822.5L2100.5 819.5L2094.5 813.5L2079.5 816.5Z"/>
<path d="M1647.5 633.5L1659.5 624.5L1653.5 609.5L1641.5 618.5Z"/>
<path class="c" d="M1642 619.5h1M1645 619.5h1M1648 619.5h1M1651 618.5h1M1654 618.5h1M1657 618.5h1"/>
<path d="M1968.5 801.5L1983.5 807.5L1974.5 804.5L1962.5 801.5Z"/>
<path d="M1530.5 822.5L1542.5 816.5L1533.5 810.5L1521.5 816.5Z"/>
<path d="M1851.5 744.5L1863.5 753.5L1857.5 750.5L1845.5 741.5Z"/>
<path d="M1734.5 669.5L1746.5 675.5L1737.5 663.5L1725.5 657.5Z"/>
<path d="M2055.5 822.5L2067.5 819.5L2061.5 813.5L2049.5 816.5Z"/>
<path d="M1614.5 660.5L1626.5 636.5L1620.5 621.5L1608.5 651.5Z"/>
<path d="M1938.5 789.5L1950.5 795.5L1941.5 792.5L1929.5 786.5Z"/>
<path d="M1818.5 726.5L1830.5 732.5L1824.5 729.5L1812.5 720.5Z"/>
<path class="c" d="M1813 720.5h1M1816 723.5h1"/>
<path d="M2142.5 825.5L2154.5 819.5L2145.5 813.5L2133.5 819.5Z"/>
<path d="M1701.5 651.5L1713.5 654.5L1704.5 639.5L1692.5 636.5Z"/>
<path d="M2022.5 819.5L2034.5 819.5L2028.5 813.5L2016.5 816.5Z"/>
<path d="M1581.5 759.5L1593.5 699.5L1587.5 699.5L1575.5 762.5Z"/>
<path class="c" d="M1585 721.5h1M1588 724.5h1"/>
<path d="M1905.5 774.5L1917.5 780.5L1908.5 777.5L1896.5 771.5Z"/>
<path d="M1785.5 705.5L1797.5 711.5L1791.5 705.5L1779.5 696.5Z"/>
<path d="M2109.5 825.5L2121.5 822.5L2112.5 816.5L2100.5 819.5Z"/>
<path d="M1668.5 639.5L1680.5 636.5L1671.5 621.5L1659.5 624.5Z"/>
<path d="M1989.5 807.5L2001.5 813.5L1995.5 810.5L1983.5 807.5Z"/>
<path d="M1548.5 822.5L1560.5 807.5L1554.5 804.5L1542.5 816.5Z"/>
<path d="M1872.5 756.5L1884.5 762.5L1875.5 759.5L1863.5 753.5Z"/>
<path d="M1752.5 684.5L1764.5 690.5L1758.5 681.5L1746.5 675.5Z"/>
<path d="M2076.5 825.5L2088.5 822.5L2079.5 816.5L2067.5 819.5Z"/>
<path d="M1635.5 648.5L1647.5 633.5L1641.5 618.5L1626.5 636.5Z"/>
<path d="M1956.5 795.5L1968.5 801.5L1962.5 801.5L1950.5 795.5Z"/>
<path d="M1515.5 825.5L1530.5 822.5L1521.5 816.5L1509.5 819.5Z"/>
<path d="M1839.5 738.5L1851.5 744.5L1845.5 741.5L1830.5 732.5Z"/>
<path d="M2160.5 828.5L2172.5 822.5L2166.5 816.5L2154.5 819.5Z"/>
<path d="M1719.5 666.5L1734.5 669.5L1725.5 657.5L1713.5 654.5Z"/>
<path d="M2043.5 822.5L2055.5 822.5L2049.5 816.5L2034.5 819.5Z"/>
<path d="M1602.5 699.5L1614.5 660.5L1608.5 651.5L1593.5 699.5Z"/>
<path d="M1923.5 783.5L1938.5 789.5L1929.5 786.5L1917.5 780.5Z"/>
<path d="M1806.5 717.5L1818.5 726.5L1812.5 720.5L1797.5 711.5Z"/>
<path d="M2127.5 828.5L2142.5 825.5L2133.5 819.5L2121.5 822.5Z"/>
<path d="M1686.5 651.5L1701.5 651.5L1692.5 636.5L1680.5 636.5Z"/>
<path d="M2010.5 816.5L2022.5 819.5L2016.5 816.5L2001.5 813.5Z"/>
<path d="M1569.5 810.5L1581.5 759.5L1575.5 762.5L1560.5 807.5Z"/>
<path d="M1890.5 765.5L1905.5 774.5L1896.5 771.5L1884.5 762.5Z"/>
<path d="M1773.5 699.5L1785.5 705.5L1779.5 696.5L1764.5 690.5Z"/>
<path d="M2094.5 828.5L2109.5 825.5L2100.5 819.5L2088.5 822.5Z"/>
<path d="M1653.5 648.5L1668.5 639.5L1659.5 624.5L1647.5 633.5Z"/>
<path d="M1977.5 804.5L1989.5 807.5L1983.5 807.5L1968.5 801.5Z"/>
<path d="M1536.5 828.5L1548.5 822.5L1542.5 816.5L1530.5 822.5Z"/>
<path d="M1857.5 750.5L1872.5 756.5L1863.5 753.5L1851.5 744.5Z"/>
<path d="M1740.5 681.5L1752.5 684.5L1746.5 675.5L1734.5 669.5Z"/>
<path d="M2061.5 828.5L2076.5 825.5L2067.5 819.5L2055.5 822.5Z"/>
<path d="M1623.5 669.5L1635.5 648.5L1626.5 636.5L1614.5 660.5Z"/>
<path d="M1944.5 789.5L1956.5 795.5L1950.5 795.5L1938.5 789.5Z"/>
<path d="M1827.5 732.5L1839.5 738.5L1830.5 732.5L1818.5 726.5Z"/>
<path class="c" d="M1819 726.5h1M1822 728.5h1M1825 730.5h1"/>
<path d="M2148.5 831.5L2160.5 828.5L2154.5 819.5L2142.5 825.5Z"/>
<path d="M1707.5 663.5L1719.5 666.5L1713.5 654.5L1701.5 651.5Z"/>
<path d="M2031.5 822.5L2043.5 822.5L2034.5 819.5L2022.5 819.5Z"/>
<path d="M1590.5 756.5L1602.5 699.5L1593.5 699.5L1581.5 759.5Z"/>
<path class="c" d="M1591 725.5h1M1594 727.5h1"/>
<path d="M1911.5 777.5L1923.5 783.5L1917.5 780.5L1905.5 774.5Z"/>
<path d="M1794.5 714.5L1806.5 717.5L1797.5 711.5L1785.5 705.5Z"/>
<path d="M2115.5 831.5L2127.5 828.5L2121.5 822.5L2109.5 825.5Z"/>
<path d="M1674.5 654.5L1686.5 651.5L1680.5 636.5L1668.5 639.5Z"/>
<path d="M1998.5 810.5L2010.5 816.5L2001.5 813.5L1989.5 807.5Z"/>
<path d="M1557.5 828.5L1569.5 810.5L1560.5 807.5L1548.5 822.5Z"/>
<path d="M1878.5 759.5L1890.5 765.5L1884.5 762.5L1872.5 756.5Z"/>
<path d="M1761.5 693.5L1773.5 699.5L1764.5 690.5L1752.5 684.5Z"/>
<path d="M2082.5 831.5L2094.5 828.5L2088.5 822.5L2076.5 825.5Z"/>
<path d="M1641.5 660.5L1653.5 648.5L1647.5 633.5L1635.5 648.5Z"/>
<path d="M1965.5 798.5L1977.5 804.5L1968.5 801.5L1956.5 795.5Z"/>
<path d="M1524.5 831.5L1536.5 828.5L1530.5 822.5L1515.5 825.5Z"/>
<path d="M1845.5 744.5L1857.5 750.5L1851.5 744.5L1839.5 738.5Z"/>
<path d="M2169.5 834.5L2181.5 828.5L2172.5 822.5L2160.5 828.5Z"/>
<path d="M1728.5 678.5L1740.5 681.5L1734.5 669.5L1719.5 666.5Z"/>
<path d="M2049.5 825.5L2061.5 828.5L2055.5 822.5L2043.5 822.5Z"/>
<path d="M1608.5 705.5L1623.5 669.5L1614.5 660.5L1602.5 699.5Z"/>
<path d="M1932.5 786.5L1944.5 789.5L1938.5 789.5L1923.5 783.5Z"/>
<path d="M1812.5 726.5L1827.5 732.5L1818.5 726.5L1806.5 717.5Z"/>
<path d="M2136.5 834.5L2148.5 831.5L2142.5 825.5L2127.5 828.5Z"/>
<path d="M1695.5 666.5L1707.5 663.5L1701.5 651.5L1686.5 651.5Z"/>
<path d="M2016.5 816.5L2031.5 822.5L2022.5 819.5L2010.5 816.5Z"/>
<path d="M1575.5 810.5L1590.5 756.5L1581.5 759.5L1569.5 810.5Z"/>
<path d="M1899.5 771.5L1911.5 777.5L1905.5 774.5L1890.5 765.5Z"/>
<path d="M1779.5 708.5L1794.5 714.5L1785.5 705.5L1773.5 699.5Z"/>
<path d="M2103.5 834.5L2115.5 831.5L2109.5 825.5L2094.5 828.5Z"/>
<path d="M1662.5 660.5L1674.5 654.5L1668.5 639.5L1653.5 648.5Z"/>
<path d="M1983.5 807.5L1998.5 810.5L1989.5 807.5L1977.5 804.5Z"/>
<path d="M1542.5 834.5L1557.5 828.5L1548.5 822.5L1536.5 828.5Z"/>
<path d="M1866.5 753.5L1878.5 759.5L1872.5 756.5L1857.5 750.5Z"/>
<path d="M1746.5 690.5L1761.5 693.5L1752.5 684.5L1740.5 681.5Z"/>
<path d="M2070.5 831.5L2082.5 831.5L2076.5 825.5L2061.5 828.5Z"/>
<path d="M1629.5 678.5L1641.5 660.5L1635.5 648.5L1623.5 669.5Z"/>
<path d="M1950.5 792.5L1965.5 798.5L1956.5 795.5L1944.5 789.5Z"/>
<path d="M1833.5 738.5L1845.5 744.5L1839.5 738.5L1827.5 732.5Z"/>
<path class="c" d="M1828 733.5h1M1831 736.5h1"/>
<path d="M2154.5 837.5L2169.5 834.5L2160.5 828.5L2148.5 831.5Z"/>
<path d="M1716.5 678.5L1728.5 678.5L1719.5 666.5L1707.5 663.5Z"/>
<path d="M2037.5 822.5L2049.5 825.5L2043.5 822.5L2031.5 822.5Z"/>
<path d="M1596.5 756.5L1608.5 705.5L1602.5 699.5L1590.5 756.5Z"/>
<path class="c" d="M1596 730.5h1M1598 733.5h1M1599 736.5h1"/>
<path d="M1917.5 780.5L1932.5 786.5L1923.5 783.5L1911.5 777.5Z"/>
<path d="M1800.5 720.5L1812.5 726.5L1806.5 717.5L1794.5 714.5Z"/>
<path d="M2121.5 837.5L2136.5 834.5L2127.5 828.5L2115.5 831.5Z"/>
<path d="M1683.5 669.5L1695.5 666.5L1686.5 651.5L1674.5 654.5Z"/>
<path d="M2004.5 813.5L2016.5 816.5L2010.5 816.5L1998.5 810.5Z"/>
<path d="M1563.5 834.5L1575.5 810.5L1569.5 810.5L1557.5 828.5Z"/>
<path d="M1887.5 765.5L1899.5 771.5L1890.5 765.5L1878.5 759.5Z"/>
<path d="M1767.5 705.5L1779.5 708.5L1773.5 699.5L1761.5 693.5Z"/>
<path d="M2091.5 837.5L2103.5 834.5L2094.5 828.5L2082.5 831.5Z"/>
<path d="M1650.5 672.5L1662.5 660.5L1653.5 648.5L1641.5 660.5Z"/>
<path d="M1971.5 801.5L1983.5 807.5L1977.5 804.5L1965.5 798.5Z"/>
<path d="M1530.5 840.5L1542.5 834.5L1536.5 828.5L1524.5 831.5Z"/>
<path d="M1854.5 750.5L1866.5 753.5L1857.5 750.5L1845.5 744.5Z"/>
<path d="M2175.5 840.5L2187.5 834.5L2181.5 828.5L2169.5 834.5Z"/>
<path d="M1734.5 690.5L1746.5 690.5L1740.5 681.5L1728.5 678.5Z"/>
<path d="M2058.5 828.5L2070.5 831.5L2061.5 828.5L2049.5 825.5Z"/>
<path d="M1617.5 708.5L1629.5 678.5L1623.5 669.5L1608.5 705.5Z"/>
<path d="M1938.5 789.5L1950.5 792.5L1944.5 789.5L1932.5 786.5Z"/>
<path d="M1821.5 732.5L1833.5 738.5L1827.5 732.5L1812.5 726.5Z"/>
<path d="M2142.5 840.5L2154.5 837.5L2148.5 831.5L2136.5 834.5Z"/>
<path d="M1701.5 678.5L1716.5 678.5L1707.5 663.5L1695.5 666.5Z"/>
<path d="M2025.5 819.5L2037.5 822.5L2031.5 822.5L2016.5 816.5Z"/>
<path d="M1584.5 813.5L1596.5 756.5L1590.5 756.5L1575.5 810.5Z"/>
<path d="M1905.5 774.5L1917.5 780.5L1911.5 777.5L1899.5 771.5Z"/>
<path d="M1788.5 717.5L1800.5 720.5L1794.5 714.5L1779.5 708.5Z"/>
<path d="M2109.5 840.5L2121.5 837.5L2115.5 831.5L2103.5 834.5Z"/>
<path d="M1668.5 672.5L1683.5 669.5L1674.5 654.5L1662.5 660.5Z"/>
<path d="M1992.5 807.5L2004.5 813.5L1998.5 810.5L1983.5 807.5Z"/>
<path d="M1551.5 840.5L1563.5 834.5L1557.5 828.5L1542.5 834.5Z"/>
<path d="M1872.5 759.5L1887.5 765.5L1878.5 759.5L1866.5 753.5Z"/>
<path d="M1755.5 702.5L1767.5 705.5L1761.5 693.5L1746.5 690.5Z"/>
<path d="M2076.5 834.5L2091.5 837.5L2082.5 831.5L2070.5 831.5Z"/>
<path d="M1635.5 687.5L1650.5 672.5L1641.5 660.5L1629.5 678.5Z"/>
<path d="M1959.5 795.5L1971.5 801.5L1965.5 798.5L1950.5 792.5Z"/>
<path d="M1839.5 744.5L1854.5 750.5L1845.5 744.5L1833.5 738.5Z"/>
<path d="M2163.5 843.5L2175.5 840.5L2169.5 834.5L2154.5 837.5Z"/>
<path d="M1722.5 690.5L1734.5 690.5L1728.5 678.5L1716.5 678.5Z"/>
<path d="M2043.5 825.5L2058.5 828.5L2049.5 825.5L2037.5 822.5Z"/>
<path d="M1602.5 753.5L1617.5 708.5L1608.5 705.5L1596.5 756.5Z"/>
<path class="c" d="M1603 740.5h1"/>
<path d="M1926.5 783.5L1938.5 789.5L1932.5 786.5L1917.5 780.5Z"/>
<path d="M1806.5 729.5L1821.5 732.5L1812.5 726.5L1800.5 720.5Z"/>
<path d="M2130.5 843.5L2142.5 840.5L2136.5 834.5L2121.5 837.5Z"/>
<path d="M1689.5 681.5L1701.5 678.5L1695.5 666.5L1683.5 669.5Z"/>
<path d="M2010.5 816.5L2025.5 819.5L2016.5 816.5L2004.5 813.5Z"/>
<path d="M1572.5 840.5L1584.5 813.5L1575.5 810.5L1563.5 834.5Z"/>
<path d="M1893.5 771.5L1905.5 774.5L1899.5 771.5L1887.5 765.5Z"/>
<path d="M1776.5 714.5L1788.5 717.5L1779.5 708.5L1767.5 705.5Z"/>
<path d="M2097.5 840.5L2109.5 840.5L2103.5 834.5L2091.5 837.5Z"/>
<path d="M1656.5 684.5L1668.5 672.5L1662.5 660.5L1650.5 672.5Z"/>
<path d="M1980.5 804.5L1992.5 807.5L1983.5 807.5L1971.5 801.5Z"/>
<path d="M1539.5 846.5L1551.5 840.5L1542.5 834.5L1530.5 840.5Z"/>
<path d="M1860.5 756.5L1872.5 759.5L1866.5 753.5L1854.5 750.5Z"/>
<path d="M2184.5 846.5L2196.5 843.5L2187.5 834.5L2175.5 840.5Z"/>
<path d="M1743.5 702.5L1755.5 702.5L1746.5 690.5L1734.5 690.5Z"/>
<path d="M2064.5 831.5L2076.5 834.5L2070.5 831.5L2058.5 828.5Z"/>
<path d="M1623.5 714.5L1635.5 687.5L1629.5 678.5L1617.5 708.5Z"/>
<path d="M1947.5 792.5L1959.5 795.5L1950.5 792.5L1938.5 789.5Z"/>
<path d="M1827.5 741.5L1839.5 744.5L1833.5 738.5L1821.5 732.5Z"/>
<path class="c" d="M1833 739.5h1M1836 742.5h1"/>
<path d="M2151.5 846.5L2163.5 843.5L2154.5 837.5L2142.5 840.5Z"/>
<path d="M1710.5 690.5L1722.5 690.5L1716.5 678.5L1701.5 678.5Z"/>
<path d="M2031.5 822.5L2043.5 825.5L2037.5 822.5L2025.5 819.5Z"/>
<path d="M1590.5 813.5L1602.5 753.5L1596.5 756.5L1584.5 813.5Z"/>
<path d="M1914.5 780.5L1926.5 783.5L1917.5 780.5L1905.5 774.5Z"/>
<path d="M1794.5 726.5L1806.5 729.5L1800.5 720.5L1788.5 717.5Z"/>
<path d="M2118.5 843.5L2130.5 843.5L2121.5 837.5L2109.5 840.5Z"/>
<path d="M1677.5 687.5L1689.5 681.5L1683.5 669.5L1668.5 672.5Z"/>
<path d="M1998.5 810.5L2010.5 816.5L2004.5 813.5L1992.5 807.5Z"/>
<path d="M1557.5 846.5L1572.5 840.5L1563.5 834.5L1551.5 840.5Z"/>
<path d="M1881.5 765.5L1893.5 771.5L1887.5 765.5L1872.5 759.5Z"/>
<path d="M1761.5 711.5L1776.5 714.5L1767.5 705.5L1755.5 702.5Z"/>
<path d="M2085.5 837.5L2097.5 840.5L2091.5 837.5L2076.5 834.5Z"/>
<path d="M1644.5 696.5L1656.5 684.5L1650.5 672.5L1635.5 687.5Z"/>
<path d="M1965.5 801.5L1980.5 804.5L1971.5 801.5L1959.5 795.5Z"/>
<path d="M1848.5 753.5L1860.5 756.5L1854.5 750.5L1839.5 744.5Z"/>
<path d="M2169.5 849.5L2184.5 846.5L2175.5 840.5L2163.5 843.5Z"/>
<path d="M1728.5 702.5L1743.5 702.5L1734.5 690.5L1722.5 690.5Z"/>
<path d="M2052.5 828.5L2064.5 831.5L2058.5 828.5L2043.5 825.5Z"/>
<path d="M1611.5 753.5L1623.5 714.5L1617.5 708.5L1602.5 753.5Z"/>
<path class="c" d="M1607 745.5h1M1610 748.5h1"/>
<path d="M1932.5 789.5L1947.5 792.5L1938.5 789.5L1926.5 783.5Z"/>
<path d="M1815.5 738.5L1827.5 741.5L1821.5 732.5L1806.5 729.5Z"/>
<path d="M2136.5 849.5L2151.5 846.5L2142.5 840.5L2130.5 843.5Z"/>
<path d="M1695.5 693.5L1710.5 690.5L1701.5 678.5L1689.5 681.5Z"/>
<path d="M2019.5 819.5L2031.5 822.5L2025.5 819.5L2010.5 816.5Z"/>
<path d="M1578.5 843.5L1590.5 813.5L1584.5 813.5L1572.5 840.5Z"/>
<path d="M1899.5 774.5L1914.5 780.5L1905.5 774.5L1893.5 771.5Z"/>
<path d="M1782.5 723.5L1794.5 726.5L1788.5 717.5L1776.5 714.5Z"/>
<path d="M2103.5 843.5L2118.5 843.5L2109.5 840.5L2097.5 840.5Z"/>
<path d="M1665.5 693.5L1677.5 687.5L1668.5 672.5L1656.5 684.5Z"/>
<path d="M1986.5 807.5L1998.5 810.5L1992.5 807.5L1980.5 804.5Z"/>
<path d="M1545.5 852.5L1557.5 846.5L1551.5 840.5L1539.5 846.5Z"/>
<path d="M1869.5 762.5L1881.5 765.5L1872.5 759.5L1860.5 756.5Z"/>
<path d="M2190.5 852.5L2202.5 849.5L2196.5 843.5L2184.5 846.5Z"/>
<path d="M1749.5 711.5L1761.5 711.5L1755.5 702.5L1743.5 702.5Z"/>
<path d="M2073.5 834.5L2085.5 837.5L2076.5 834.5L2064.5 831.5Z"/>
<path d="M1632.5 720.5L1644.5 696.5L1635.5 687.5L1623.5 714.5Z"/>
<path d="M1953.5 795.5L1965.5 801.5L1959.5 795.5L1947.5 792.5Z"/>
<path d="M1836.5 750.5L1848.5 753.5L1839.5 744.5L1827.5 741.5Z"/>
<path class="c" d="M1838 745.5h1M1841 748.5h1M1844 751.5h1"/>
<path d="M2157.5 852.5L2169.5 849.5L2163.5 843.5L2151.5 846.5Z"/>
<path d="M1716.5 702.5L1728.5 702.5L1722.5 690.5L1710.5 690.5Z"/>
<path d="M2040.5 825.5L2052.5 828.5L2043.5 825.5L2031.5 822.5Z"/>
<path d="M1599.5 810.5L1611.5 753.5L1602.5 753.5L1590.5 813.5Z"/>
<path d="M1920.5 783.5L1932.5 789.5L1926.5 783.5L1914.5 780.5Z"/>
<path d="M1803.5 735.5L1815.5 738.5L1806.5 729.5L1794.5 726.5Z"/>
<path d="M2124.5 846.5L2136.5 849.5L2130.5 843.5L2118.5 843.5Z"/>
<path d="M1683.5 699.5L1695.5 693.5L1689.5 681.5L1677.5 687.5Z"/>
<path d="M2007.5 816.5L2019.5 819.5L2010.5 816.5L1998.5 810.5Z"/>
<path d="M1566.5 852.5L1578.5 843.5L1572.5 840.5L1557.5 846.5Z"/>
<path d="M1887.5 771.5L1899.5 774.5L1893.5 771.5L1881.5 765.5Z"/>
<path d="M1770.5 723.5L1782.5 723.5L1776.5 714.5L1761.5 711.5Z"/>
<path d="M2091.5 840.5L2103.5 843.5L2097.5 840.5L2085.5 837.5Z"/>
<path d="M1650.5 705.5L1665.5 693.5L1656.5 684.5L1644.5 696.5Z"/>
<path d="M1974.5 804.5L1986.5 807.5L1980.5 804.5L1965.5 801.5Z"/>
<path d="M1854.5 759.5L1869.5 762.5L1860.5 756.5L1848.5 753.5Z"/>
<path d="M2178.5 855.5L2190.5 852.5L2184.5 846.5L2169.5 849.5Z"/>
<path d="M1737.5 711.5L1749.5 711.5L1743.5 702.5L1728.5 702.5Z"/>
<path d="M2058.5 831.5L2073.5 834.5L2064.5 831.5L2052.5 828.5Z"/>
<path d="M1617.5 756.5L1632.5 720.5L1623.5 714.5L1611.5 753.5Z"/>
<path class="c" d="M1613 751.5h1M1614 754.5h1"/>
<path d="M1941.5 792.5L1953.5 795.5L1947.5 792.5L1932.5 789.5Z"/>
<path d="M1821.5 747.5L1836.5 750.5L1827.5 741.5L1815.5 738.5Z"/>
<path d="M2145.5 852.5L2157.5 852.5L2151.5 846.5L2136.5 849.5Z"/>
<path d="M1704.5 705.5L1716.5 702.5L1710.5 690.5L1695.5 693.5Z"/>
<path d="M2025.5 822.5L2040.5 825.5L2031.5 822.5L2019.5 819.5Z"/>
<path d="M1584.5 849.5L1599.5 810.5L1590.5 813.5L1578.5 843.5Z"/>
<path d="M1908.5 780.5L1920.5 783.5L1914.5 780.5L1899.5 774.5Z"/>
<path d="M1788.5 735.5L1803.5 735.5L1794.5 726.5L1782.5 723.5Z"/>
<path d="M2112.5 846.5L2124.5 846.5L2118.5 843.5L2103.5 843.5Z"/>
<path d="M1671.5 705.5L1683.5 699.5L1677.5 687.5L1665.5 693.5Z"/>
<path d="M1992.5 813.5L2007.5 816.5L1998.5 810.5L1986.5 807.5Z"/>
<path d="M1554.5 858.5L1566.5 852.5L1557.5 846.5L1545.5 852.5Z"/>
<path d="M1875.5 768.5L1887.5 771.5L1881.5 765.5L1869.5 762.5Z"/>
<path d="M2196.5 858.5L2211.5 855.5L2202.5 849.5L2190.5 852.5Z"/>
<path d="M1758.5 723.5L1770.5 723.5L1761.5 711.5L1749.5 711.5Z"/>
<path d="M2079.5 837.5L2091.5 840.5L2085.5 837.5L2073.5 834.5Z"/>
<path d="M1638.5 726.5L1650.5 705.5L1644.5 696.5L1632.5 720.5Z"/>
<path d="M1962.5 801.5L1974.5 804.5L1965.5 801.5L1953.5 795.5Z"/>
<path d="M1842.5 756.5L1854.5 759.5L1848.5 753.5L1836.5 750.5Z"/>
<path class="c" d="M1846 754.5h1M1848 757.5h1"/>
<path d="M2166.5 858.5L2178.5 855.5L2169.5 849.5L2157.5 852.5Z"/>
<path d="M1725.5 714.5L1737.5 711.5L1728.5 702.5L1716.5 702.5Z"/>
<path d="M2046.5 828.5L2058.5 831.5L2052.5 828.5L2040.5 825.5Z"/>
<path d="M1605.5 810.5L1617.5 756.5L1611.5 753.5L1599.5 810.5Z"/>
<path class="c" d="M1616 757.5h1"/>
<path d="M1929.5 789.5L1941.5 792.5L1932.5 789.5L1920.5 783.5Z"/>
<path d="M1809.5 744.5L1821.5 747.5L1815.5 738.5L1803.5 735.5Z"/>
<path d="M2133.5 849.5L2145.5 852.5L2136.5 849.5L2124.5 846.5Z"/>
<path d="M1692.5 708.5L1704.5 705.5L1695.5 693.5L1683.5 699.5Z"/>
<path d="M2013.5 819.5L2025.5 822.5L2019.5 819.5L2007.5 816.5Z"/>
<path d="M1572.5 858.5L1584.5 849.5L1578.5 843.5L1566.5 852.5Z"/>
<path d="M1896.5 777.5L1908.5 780.5L1899.5 774.5L1887.5 771.5Z"/>
<path d="M1776.5 732.5L1788.5 735.5L1782.5 723.5L1770.5 723.5Z"/>
<path d="M2100.5 843.5L2112.5 846.5L2103.5 843.5L2091.5 840.5Z"/>
<path d="M1659.5 717.5L1671.5 705.5L1665.5 693.5L1650.5 705.5Z"/>
<path d="M1980.5 810.5L1992.5 813.5L1986.5 807.5L1974.5 804.5Z"/>
<path d="M1863.5 768.5L1875.5 768.5L1869.5 762.5L1854.5 759.5Z"/>
<path d="M2184.5 861.5L2196.5 858.5L2190.5 852.5L2178.5 855.5Z"/>
<path d="M1743.5 723.5L1758.5 723.5L1749.5 711.5L1737.5 711.5Z"/>
<path d="M2067.5 834.5L2079.5 837.5L2073.5 834.5L2058.5 831.5Z"/>
<path d="M1626.5 756.5L1638.5 726.5L1632.5 720.5L1617.5 756.5Z"/>
<path d="M1947.5 798.5L1962.5 801.5L1953.5 795.5L1941.5 792.5Z"/>
<path d="M1830.5 756.5L1842.5 756.5L1836.5 750.5L1821.5 747.5Z"/>
<path d="M2151.5 855.5L2166.5 858.5L2157.5 852.5L2145.5 852.5Z"/>
<path d="M1710.5 717.5L1725.5 714.5L1716.5 702.5L1704.5 705.5Z"/>
<path d="M2034.5 825.5L2046.5 828.5L2040.5 825.5L2025.5 822.5Z"/>
<path d="M1593.5 852.5L1605.5 810.5L1599.5 810.5L1584.5 849.5Z"/>
<path d="M1914.5 786.5L1929.5 789.5L1920.5 783.5L1908.5 780.5Z"/>
<path d="M1797.5 744.5L1809.5 744.5L1803.5 735.5L1788.5 735.5Z"/>
<path d="M2118.5 849.5L2133.5 849.5L2124.5 846.5L2112.5 846.5Z"/>
<path d="M1677.5 717.5L1692.5 708.5L1683.5 699.5L1671.5 705.5Z"/>
<path d="M2001.5 816.5L2013.5 819.5L2007.5 816.5L1992.5 813.5Z"/>
<path d="M1560.5 864.5L1572.5 858.5L1566.5 852.5L1554.5 858.5Z"/>
<path d="M1881.5 777.5L1896.5 777.5L1887.5 771.5L1875.5 768.5Z"/>
<path d="M2205.5 864.5L2217.5 861.5L2211.5 855.5L2196.5 858.5Z"/>
<path d="M1764.5 732.5L1776.5 732.5L1770.5 723.5L1758.5 723.5Z"/>
<path d="M2085.5 840.5L2100.5 843.5L2091.5 840.5L2079.5 837.5Z"/>
<path d="M1647.5 732.5L1659.5 717.5L1650.5 705.5L1638.5 726.5Z"/>
<path d="M1968.5 807.5L1980.5 810.5L1974.5 804.5L1962.5 801.5Z"/>
<path d="M1851.5 765.5L1863.5 768.5L1854.5 759.5L1842.5 756.5Z"/>
<path class="c" d="M1850 760.5h1M1852 763.5h1M1854 766.5h1"/>
<path d="M2172.5 861.5L2184.5 861.5L2178.5 855.5L2166.5 858.5Z"/>
<path d="M1731.5 726.5L1743.5 723.5L1737.5 711.5L1725.5 714.5Z"/>
<path d="M2055.5 831.5L2067.5 834.5L2058.5 831.5L2046.5 828.5Z"/>
<path d="M1614.5 807.5L1626.5 756.5L1617.5 756.5L1605.5 810.5Z"/>
<path class="c" d="M1618 759.5h1M1621 760.5h1M1624 762.5h1"/>
<path d="M1935.5 795.5L1947.5 798.5L1941.5 792.5L1929.5 789.5Z"/>
<path d="M1818.5 753.5L1830.5 756.5L1821.5 747.5L1809.5 744.5Z"/>
<path d="M2139.5 855.5L2151.5 855.5L2145.5 852.5L2133.5 849.5Z"/>
<path d="M1698.5 720.5L1710.5 717.5L1704.5 705.5L1692.5 708.5Z"/>
<path d="M2022.5 822.5L2034.5 825.5L2025.5 822.5L2013.5 819.5Z"/>
<path d="M1581.5 864.5L1593.5 852.5L1584.5 849.5L1572.5 858.5Z"/>
<path d="M1902.5 786.5L1914.5 786.5L1908.5 780.5L1896.5 777.5Z"/>
<path d="M1785.5 744.5L1797.5 744.5L1788.5 735.5L1776.5 732.5Z"/>
<path d="M2106.5 846.5L2118.5 849.5L2112.5 846.5L2100.5 843.5Z"/>
<path d="M1665.5 726.5L1677.5 717.5L1671.5 705.5L1659.5 717.5Z"/>
<path d="M1989.5 813.5L2001.5 816.5L1992.5 813.5L1980.5 810.5Z"/>
<path d="M1869.5 774.5L1881.5 777.5L1875.5 768.5L1863.5 768.5Z"/>
<path d="M2193.5 864.5L2205.5 864.5L2196.5 858.5L2184.5 861.5Z"/>
<path d="M1752.5 735.5L1764.5 732.5L1758.5 723.5L1743.5 723.5Z"/>
<path d="M2073.5 837.5L2085.5 840.5L2079.5 837.5L2067.5 834.5Z"/>
<path d="M1632.5 759.5L1647.5 732.5L1638.5 726.5L1626.5 756.5Z"/>
<path d="M1956.5 804.5L1968.5 807.5L1962.5 801.5L1947.5 798.5Z"/>
<path d="M1836.5 762.5L1851.5 765.5L1842.5 756.5L1830.5 756.5Z"/>
<path d="M2160.5 858.5L2172.5 861.5L2166.5 858.5L2151.5 855.5Z"/>
<path d="M1719.5 726.5L1731.5 726.5L1725.5 714.5L1710.5 717.5Z"/>
<path d="M2040.5 831.5L2055.5 831.5L2046.5 828.5L2034.5 825.5Z"/>
<path d="M1599.5 858.5L1614.5 807.5L1605.5 810.5L1593.5 852.5Z"/>
<path d="M1923.5 792.5L1935.5 795.5L1929.5 789.5L1914.5 786.5Z"/>
<path d="M1803.5 753.5L1818.5 753.5L1809.5 744.5L1797.5 744.5Z"/>
<path d="M2127.5 852.5L2139.5 855.5L2133.5 849.5L2118.5 849.5Z"/>
<path d="M1686.5 726.5L1698.5 720.5L1692.5 708.5L1677.5 717.5Z"/>
<path d="M2007.5 822.5L2022.5 822.5L2013.5 819.5L2001.5 816.5Z"/>
<path d="M1566.5 870.5L1581.5 864.5L1572.5 858.5L1560.5 864.5Z"/>
<path d="M1890.5 783.5L1902.5 786.5L1896.5 777.5L1881.5 777.5Z"/>
<path d="M2211.5 870.5L2226.5 867.5L2217.5 861.5L2205.5 864.5Z"/>
<path d="M1770.5 744.5L1785.5 744.5L1776.5 732.5L1764.5 732.5Z"/>
<path d="M2094.5 843.5L2106.5 846.5L2100.5 843.5L2085.5 840.5Z"/>
<path d="M1653.5 741.5L1665.5 726.5L1659.5 717.5L1647.5 732.5Z"/>
<path d="M1974.5 810.5L1989.5 813.5L1980.5 810.5L1968.5 807.5Z"/>
<path d="M1857.5 771.5L1869.5 774.5L1863.5 768.5L1851.5 765.5Z"/>
<path class="c" d="M1856 769.5h1"/>
<path d="M2178.5 864.5L2193.5 864.5L2184.5 861.5L2172.5 861.5Z"/>
<path d="M1740.5 735.5L1752.5 735.5L1743.5 723.5L1731.5 726.5Z"/>
<path d="M2061.5 837.5L2073.5 837.5L2067.5 834.5L2055.5 831.5Z"/>
<path d="M1620.5 807.5L1632.5 759.5L1626.5 756.5L1614.5 807.5Z"/>
<path class="c" d="M1626 766.5h1M1628 769.5h1"/>
<path d="M1941.5 801.5L1956.5 804.5L1947.5 798.5L1935.5 795.5Z"/>
<path d="M1824.5 762.5L1836.5 762.5L1830.5 756.5L1818.5 753.5Z"/>
<path d="M2145.5 858.5L2160.5 858.5L2151.5 855.5L2139.5 855.5Z"/>
<path d="M1707.5 732.5L1719.5 726.5L1710.5 717.5L1698.5 720.5Z"/>
<path d="M2028.5 828.5L2040.5 831.5L2034.5 825.5L2022.5 822.5Z"/>
<path d="M1587.5 870.5L1599.5 858.5L1593.5 852.5L1581.5 864.5Z"/>
<path d="M1911.5 792.5L1923.5 792.5L1914.5 786.5L1902.5 786.5Z"/>
<path d="M1791.5 753.5L1803.5 753.5L1797.5 744.5L1785.5 744.5Z"/>
<path d="M2115.5 849.5L2127.5 852.5L2118.5 849.5L2106.5 846.5Z"/>
<path d="M1674.5 735.5L1686.5 726.5L1677.5 717.5L1665.5 726.5Z"/>
<path d="M1995.5 819.5L2007.5 822.5L2001.5 816.5L1989.5 813.5Z"/>
<path d="M1878.5 783.5L1890.5 783.5L1881.5 777.5L1869.5 774.5Z"/>
<path d="M2199.5 867.5L2211.5 870.5L2205.5 864.5L2193.5 864.5Z"/>
<path d="M1758.5 744.5L1770.5 744.5L1764.5 732.5L1752.5 735.5Z"/>
<path d="M2082.5 843.5L2094.5 843.5L2085.5 840.5L2073.5 837.5Z"/>
<path d="M1641.5 762.5L1653.5 741.5L1647.5 732.5L1632.5 759.5Z"/>
<path d="M1962.5 810.5L1974.5 810.5L1968.5 807.5L1956.5 804.5Z"/>
<path d="M1845.5 771.5L1857.5 771.5L1851.5 765.5L1836.5 762.5Z"/>
<path d="M2166.5 861.5L2178.5 864.5L2172.5 861.5L2160.5 858.5Z"/>
<path d="M1725.5 738.5L1740.5 735.5L1731.5 726.5L1719.5 726.5Z"/>
<path d="M2049.5 834.5L2061.5 837.5L2055.5 831.5L2040.5 831.5Z"/>
<path d="M1608.5 858.5L1620.5 807.5L1614.5 807.5L1599.5 858.5Z"/>
<path d="M1929.5 801.5L1941.5 801.5L1935.5 795.5L1923.5 792.5Z"/>
<path d="M1812.5 762.5L1824.5 762.5L1818.5 753.5L1803.5 753.5Z"/>
<path d="M2133.5 855.5L2145.5 858.5L2139.5 855.5L2127.5 852.5Z"/>
<path d="M1692.5 738.5L1707.5 732.5L1698.5 720.5L1686.5 726.5Z"/>
<path d="M2016.5 825.5L2028.5 828.5L2022.5 822.5L2007.5 822.5Z"/>
<path d="M1575.5 876.5L1587.5 870.5L1581.5 864.5L1566.5 870.5Z"/>
<path d="M1896.5 789.5L1911.5 792.5L1902.5 786.5L1890.5 783.5Z"/>
<path d="M2220.5 873.5L2232.5 873.5L2226.5 867.5L2211.5 870.5Z"/>
<path d="M1779.5 753.5L1791.5 753.5L1785.5 744.5L1770.5 744.5Z"/>
<path d="M2100.5 849.5L2115.5 849.5L2106.5 846.5L2094.5 843.5Z"/>
<path d="M1659.5 747.5L1674.5 735.5L1665.5 726.5L1653.5 741.5Z"/>
<path d="M1983.5 816.5L1995.5 819.5L1989.5 813.5L1974.5 810.5Z"/>
<path d="M1863.5 780.5L1878.5 783.5L1869.5 774.5L1857.5 771.5Z"/>
<path d="M2187.5 867.5L2199.5 867.5L2193.5 864.5L2178.5 864.5Z"/>
<path d="M1746.5 747.5L1758.5 744.5L1752.5 735.5L1740.5 735.5Z"/>
<path d="M2067.5 840.5L2082.5 843.5L2073.5 837.5L2061.5 837.5Z"/>
<path d="M1626.5 804.5L1641.5 762.5L1632.5 759.5L1620.5 807.5Z"/>
<path class="c" d="M1630 770.5h1M1633 773.5h1M1636 775.5h1"/>
<path d="M1950.5 807.5L1962.5 810.5L1956.5 804.5L1941.5 801.5Z"/>
<path d="M1830.5 771.5L1845.5 771.5L1836.5 762.5L1824.5 762.5Z"/>
<path d="M2154.5 861.5L2166.5 861.5L2160.5 858.5L2145.5 858.5Z"/>
<path d="M1713.5 741.5L1725.5 738.5L1719.5 726.5L1707.5 732.5Z"/>
<path d="M2034.5 831.5L2049.5 834.5L2040.5 831.5L2028.5 828.5Z"/>
<path d="M1596.5 876.5L1608.5 858.5L1599.5 858.5L1587.5 870.5Z"/>
<path d="M1917.5 798.5L1929.5 801.5L1923.5 792.5L1911.5 792.5Z"/>
<path d="M1800.5 762.5L1812.5 762.5L1803.5 753.5L1791.5 753.5Z"/>
<path d="M2121.5 855.5L2133.5 855.5L2127.5 852.5L2115.5 849.5Z"/>
<path d="M1680.5 744.5L1692.5 738.5L1686.5 726.5L1674.5 735.5Z"/>
<path d="M2004.5 825.5L2016.5 825.5L2007.5 822.5L1995.5 819.5Z"/>
<path d="M1884.5 789.5L1896.5 789.5L1890.5 783.5L1878.5 783.5Z"/>
<path d="M2208.5 873.5L2220.5 873.5L2211.5 870.5L2199.5 867.5Z"/>
<path d="M1767.5 753.5L1779.5 753.5L1770.5 744.5L1758.5 744.5Z"/>
<path d="M2088.5 846.5L2100.5 849.5L2094.5 843.5L2082.5 843.5Z"/>
<path d="M1647.5 768.5L1659.5 747.5L1653.5 741.5L1641.5 762.5Z"/>
<path d="M1971.5 816.5L1983.5 816.5L1974.5 810.5L1962.5 810.5Z"/>
<path d="M1851.5 780.5L1863.5 780.5L1857.5 771.5L1845.5 771.5Z"/>
<path class="c" d="M1857 772.5h1M1857 775.5h1M1858 778.5h1"/>
<path d="M2175.5 867.5L2187.5 867.5L2178.5 864.5L2166.5 861.5Z"/>
<path d="M1734.5 750.5L1746.5 747.5L1740.5 735.5L1725.5 738.5Z"/>
<path d="M2055.5 840.5L2067.5 840.5L2061.5 837.5L2049.5 834.5Z"/>
<path d="M1614.5 861.5L1626.5 804.5L1620.5 807.5L1608.5 858.5Z"/>
<path d="M1938.5 807.5L1950.5 807.5L1941.5 801.5L1929.5 801.5Z"/>
<path d="M1818.5 771.5L1830.5 771.5L1824.5 762.5L1812.5 762.5Z"/>
<path d="M2142.5 858.5L2154.5 861.5L2145.5 858.5L2133.5 855.5Z"/>
<path d="M1701.5 747.5L1713.5 741.5L1707.5 732.5L1692.5 738.5Z"/>
<path d="M2022.5 831.5L2034.5 831.5L2028.5 828.5L2016.5 825.5Z"/>
<path d="M1581.5 882.5L1596.5 876.5L1587.5 870.5L1575.5 876.5Z"/>
<path d="M1905.5 798.5L1917.5 798.5L1911.5 792.5L1896.5 789.5Z"/>
<path d="M2226.5 876.5L2238.5 879.5L2232.5 873.5L2220.5 873.5Z"/>
<path d="M1785.5 762.5L1800.5 762.5L1791.5 753.5L1779.5 753.5Z"/>
<path d="M2109.5 852.5L2121.5 855.5L2115.5 849.5L2100.5 849.5Z"/>
<path d="M1668.5 756.5L1680.5 744.5L1674.5 735.5L1659.5 747.5Z"/>
<path d="M1989.5 822.5L2004.5 825.5L1995.5 819.5L1983.5 816.5Z"/>
<path d="M1872.5 789.5L1884.5 789.5L1878.5 783.5L1863.5 780.5Z"/>
<path d="M2193.5 870.5L2208.5 873.5L2199.5 867.5L2187.5 867.5Z"/>
<path d="M1752.5 756.5L1767.5 753.5L1758.5 744.5L1746.5 747.5Z"/>
<path d="M2076.5 846.5L2088.5 846.5L2082.5 843.5L2067.5 840.5Z"/>
<path d="M1635.5 804.5L1647.5 768.5L1641.5 762.5L1626.5 804.5Z"/>
<path class="c" d="M1638 778.5h1M1640 781.5h1"/>
<path d="M1956.5 813.5L1971.5 816.5L1962.5 810.5L1950.5 807.5Z"/>
<path d="M1839.5 780.5L1851.5 780.5L1845.5 771.5L1830.5 771.5Z"/>
<path d="M2160.5 864.5L2175.5 867.5L2166.5 861.5L2154.5 861.5Z"/>
<path d="M1719.5 753.5L1734.5 750.5L1725.5 738.5L1713.5 741.5Z"/>
<path d="M2043.5 837.5L2055.5 840.5L2049.5 834.5L2034.5 831.5Z"/>
<path d="M1602.5 882.5L1614.5 861.5L1608.5 858.5L1596.5 876.5Z"/>
<path d="M1923.5 804.5L1938.5 807.5L1929.5 801.5L1917.5 798.5Z"/>
<path d="M1806.5 771.5L1818.5 771.5L1812.5 762.5L1800.5 762.5Z"/>
<path d="M2127.5 858.5L2142.5 858.5L2133.5 855.5L2121.5 855.5Z"/>
<path d="M1689.5 753.5L1701.5 747.5L1692.5 738.5L1680.5 744.5Z"/>
<path d="M2010.5 831.5L2022.5 831.5L2016.5 825.5L2004.5 825.5Z"/>
<path d="M1893.5 798.5L1905.5 798.5L1896.5 789.5L1884.5 789.5Z"/>
<path d="M2214.5 876.5L2226.5 876.5L2220.5 873.5L2208.5 873.5Z"/>
<path d="M1773.5 765.5L1785.5 762.5L1779.5 753.5L1767.5 753.5Z"/>
<path d="M2097.5 852.5L2109.5 852.5L2100.5 849.5L2088.5 846.5Z"/>
<path d="M1656.5 774.5L1668.5 756.5L1659.5 747.5L1647.5 768.5Z"/>
<path d="M1977.5 822.5L1989.5 822.5L1983.5 816.5L1971.5 816.5Z"/>
<path d="M1860.5 789.5L1872.5 789.5L1863.5 780.5L1851.5 780.5Z"/>
<path class="c" d="M1858 781.5h1M1859 784.5h1M1860 787.5h1"/>
<path d="M2181.5 870.5L2193.5 870.5L2187.5 867.5L2175.5 867.5Z"/>
<path d="M1740.5 759.5L1752.5 756.5L1746.5 747.5L1734.5 750.5Z"/>
<path d="M2064.5 843.5L2076.5 846.5L2067.5 840.5L2055.5 840.5Z"/>
<path d="M1623.5 861.5L1635.5 804.5L1626.5 804.5L1614.5 861.5Z"/>
<path d="M1944.5 813.5L1956.5 813.5L1950.5 807.5L1938.5 807.5Z"/>
<path d="M1827.5 780.5L1839.5 780.5L1830.5 771.5L1818.5 771.5Z"/>
<path d="M2148.5 864.5L2160.5 864.5L2154.5 861.5L2142.5 858.5Z"/>
<path d="M1707.5 756.5L1719.5 753.5L1713.5 741.5L1701.5 747.5Z"/>
<path d="M2031.5 837.5L2043.5 837.5L2034.5 831.5L2022.5 831.5Z"/>
<path d="M1590.5 888.5L1602.5 882.5L1596.5 876.5L1581.5 882.5Z"/>
<path d="M1911.5 804.5L1923.5 804.5L1917.5 798.5L1905.5 798.5Z"/>
<path d="M1794.5 771.5L1806.5 771.5L1800.5 762.5L1785.5 762.5Z"/>
<path d="M2115.5 858.5L2127.5 858.5L2121.5 855.5L2109.5 852.5Z"/>
<path d="M1674.5 765.5L1689.5 753.5L1680.5 744.5L1668.5 756.5Z"/>
<path d="M1998.5 828.5L2010.5 831.5L2004.5 825.5L1989.5 822.5Z"/>
<path d="M1878.5 795.5L1893.5 798.5L1884.5 789.5L1872.5 789.5Z"/>
<path d="M2202.5 873.5L2214.5 876.5L2208.5 873.5L2193.5 870.5Z"/>
<path d="M1761.5 765.5L1773.5 765.5L1767.5 753.5L1752.5 756.5Z"/>
<path d="M2082.5 849.5L2097.5 852.5L2088.5 846.5L2076.5 846.5Z"/>
<path d="M1641.5 804.5L1656.5 774.5L1647.5 768.5L1635.5 804.5Z"/>
<path class="c" d="M1642 784.5h1M1645 787.5h1M1648 790.5h1"/>
<path d="M1965.5 822.5L1977.5 822.5L1971.5 816.5L1956.5 813.5Z"/>
<path d="M1845.5 789.5L1860.5 789.5L1851.5 780.5L1839.5 780.5Z"/>
<path d="M2169.5 867.5L2181.5 870.5L2175.5 867.5L2160.5 864.5Z"/>
<path d="M1728.5 762.5L1740.5 759.5L1734.5 750.5L1719.5 753.5Z"/>
<path d="M2049.5 843.5L2064.5 843.5L2055.5 840.5L2043.5 837.5Z"/>
<path d="M1608.5 888.5L1623.5 861.5L1614.5 861.5L1602.5 882.5Z"/>
<path d="M1932.5 813.5L1944.5 813.5L1938.5 807.5L1923.5 804.5Z"/>
<path d="M1812.5 780.5L1827.5 780.5L1818.5 771.5L1806.5 771.5Z"/>
<path d="M2136.5 861.5L2148.5 864.5L2142.5 858.5L2127.5 858.5Z"/>
<path d="M1695.5 765.5L1707.5 756.5L1701.5 747.5L1689.5 753.5Z"/>
<path d="M2016.5 834.5L2031.5 837.5L2022.5 831.5L2010.5 831.5Z"/>
<path d="M1899.5 804.5L1911.5 804.5L1905.5 798.5L1893.5 798.5Z"/>
<path d="M1782.5 774.5L1794.5 771.5L1785.5 762.5L1773.5 765.5Z"/>
<path d="M2103.5 855.5L2115.5 858.5L2109.5 852.5L2097.5 852.5Z"/>
<path d="M1662.5 780.5L1674.5 765.5L1668.5 756.5L1656.5 774.5Z"/>
<path d="M1986.5 828.5L1998.5 828.5L1989.5 822.5L1977.5 822.5Z"/>
<path d="M1866.5 795.5L1878.5 795.5L1872.5 789.5L1860.5 789.5Z"/>
<path class="c" d="M1861 790.5h1"/>
<path d="M2190.5 873.5L2202.5 873.5L2193.5 870.5L2181.5 870.5Z"/>
<path d="M1749.5 768.5L1761.5 765.5L1752.5 756.5L1740.5 759.5Z"/>
<path d="M2070.5 849.5L2082.5 849.5L2076.5 846.5L2064.5 843.5Z"/>
<path d="M1629.5 861.5L1641.5 804.5L1635.5 804.5L1623.5 861.5Z"/>
<path d="M1953.5 819.5L1965.5 822.5L1956.5 813.5L1944.5 813.5Z"/>
<path d="M1833.5 789.5L1845.5 789.5L1839.5 780.5L1827.5 780.5Z"/>
<path d="M2157.5 867.5L2169.5 867.5L2160.5 864.5L2148.5 864.5Z"/>
<path d="M1716.5 768.5L1728.5 762.5L1719.5 753.5L1707.5 756.5Z"/>
<path d="M2037.5 843.5L2049.5 843.5L2043.5 837.5L2031.5 837.5Z"/>
<path d="M1596.5 894.5L1608.5 888.5L1602.5 882.5L1590.5 888.5Z"/>
<path d="M1920.5 813.5L1932.5 813.5L1923.5 804.5L1911.5 804.5Z"/>
<path d="M1800.5 783.5L1812.5 780.5L1806.5 771.5L1794.5 771.5Z"/>
<path d="M2124.5 861.5L2136.5 861.5L2127.5 858.5L2115.5 858.5Z"/>
<path d="M1683.5 774.5L1695.5 765.5L1689.5 753.5L1674.5 765.5Z"/>
<path d="M2004.5 834.5L2016.5 834.5L2010.5 831.5L1998.5 828.5Z"/>
<path d="M1887.5 804.5L1899.5 804.5L1893.5 798.5L1878.5 795.5Z"/>
<path d="M1767.5 777.5L1782.5 774.5L1773.5 765.5L1761.5 765.5Z"/>
<path d="M2091.5 855.5L2103.5 855.5L2097.5 852.5L2082.5 849.5Z"/>
<path d="M1650.5 807.5L1662.5 780.5L1656.5 774.5L1641.5 804.5Z"/>
<path class="c" d="M1650 793.5h1M1653 796.5h1"/>
<path d="M1971.5 828.5L1986.5 828.5L1977.5 822.5L1965.5 822.5Z"/>
<path d="M1854.5 798.5L1866.5 795.5L1860.5 789.5L1845.5 789.5Z"/>
<path class="c" d="M1861 793.5h1M1860 796.5h1"/>
<path d="M2175.5 873.5L2190.5 873.5L2181.5 870.5L2169.5 867.5Z"/>
<path d="M1734.5 771.5L1749.5 768.5L1740.5 759.5L1728.5 762.5Z"/>
<path d="M2058.5 849.5L2070.5 849.5L2064.5 843.5L2049.5 843.5Z"/>
<path d="M1617.5 894.5L1629.5 861.5L1623.5 861.5L1608.5 888.5Z"/>
<path d="M1938.5 819.5L1953.5 819.5L1944.5 813.5L1932.5 813.5Z"/>
<path d="M1821.5 789.5L1833.5 789.5L1827.5 780.5L1812.5 780.5Z"/>
<path d="M2142.5 867.5L2157.5 867.5L2148.5 864.5L2136.5 861.5Z"/>
<path d="M1701.5 774.5L1716.5 768.5L1707.5 756.5L1695.5 765.5Z"/>
<path d="M2025.5 840.5L2037.5 843.5L2031.5 837.5L2016.5 834.5Z"/>
<path d="M1905.5 813.5L1920.5 813.5L1911.5 804.5L1899.5 804.5Z"/>
<path d="M1788.5 783.5L1800.5 783.5L1794.5 771.5L1782.5 774.5Z"/>
<path d="M2109.5 861.5L2124.5 861.5L2115.5 858.5L2103.5 855.5Z"/>
<path d="M1671.5 786.5L1683.5 774.5L1674.5 765.5L1662.5 780.5Z"/>
<path d="M1992.5 834.5L2004.5 834.5L1998.5 828.5L1986.5 828.5Z"/>
<path d="M1875.5 804.5L1887.5 804.5L1878.5 795.5L1866.5 795.5Z"/>
<path d="M1755.5 780.5L1767.5 777.5L1761.5 765.5L1749.5 768.5Z"/>
<path d="M2079.5 855.5L2091.5 855.5L2082.5 849.5L2070.5 849.5Z"/>
<path d="M1638.5 858.5L1650.5 807.5L1641.5 804.5L1629.5 861.5Z"/>
<path d="M1959.5 828.5L1971.5 828.5L1965.5 822.5L1953.5 819.5Z"/>
<path d="M1842.5 798.5L1854.5 798.5L1845.5 789.5L1833.5 789.5Z"/>
<path d="M2163.5 873.5L2175.5 873.5L2169.5 867.5L2157.5 867.5Z"/>
<path d="M1722.5 777.5L1734.5 771.5L1728.5 762.5L1716.5 768.5Z"/>
<path d="M2046.5 846.5L2058.5 849.5L2049.5 843.5L2037.5 843.5Z"/>
<path d="M1605.5 900.5L1617.5 894.5L1608.5 888.5L1596.5 894.5Z"/>
<path d="M1926.5 819.5L1938.5 819.5L1932.5 813.5L1920.5 813.5Z"/>
<path d="M1809.5 792.5L1821.5 789.5L1812.5 780.5L1800.5 783.5Z"/>
<path d="M2130.5 867.5L2142.5 867.5L2136.5 861.5L2124.5 861.5Z"/>
<path d="M1689.5 780.5L1701.5 774.5L1695.5 765.5L1683.5 774.5Z"/>
<path d="M2013.5 840.5L2025.5 840.5L2016.5 834.5L2004.5 834.5Z"/>
<path d="M1893.5 813.5L1905.5 813.5L1899.5 804.5L1887.5 804.5Z"/>
<path d="M1776.5 786.5L1788.5 783.5L1782.5 774.5L1767.5 777.5Z"/>
<path d="M2097.5 861.5L2109.5 861.5L2103.5 855.5L2091.5 855.5Z"/>
<path d="M1656.5 807.5L1671.5 786.5L1662.5 780.5L1650.5 807.5Z"/>
<path class="c" d="M1657 799.5h1"/>
<path d="M1980.5 834.5L1992.5 834.5L1986.5 828.5L1971.5 828.5Z"/>
<path d="M1860.5 804.5L1875.5 804.5L1866.5 795.5L1854.5 798.5Z"/>
<path class="c" d="M1859 799.5h1M1859 802.5h1"/>
<path d="M1743.5 783.5L1755.5 780.5L1749.5 768.5L1734.5 771.5Z"/>
<path d="M2064.5 855.5L2079.5 855.5L2070.5 849.5L2058.5 849.5Z"/>
<path d="M1623.5 900.5L1638.5 858.5L1629.5 861.5L1617.5 894.5Z"/>
<path d="M1947.5 828.5L1959.5 828.5L1953.5 819.5L1938.5 819.5Z"/>
<path d="M1827.5 798.5L1842.5 798.5L1833.5 789.5L1821.5 789.5Z"/>
<path d="M2151.5 870.5L2163.5 873.5L2157.5 867.5L2142.5 867.5Z"/>
<path d="M1710.5 783.5L1722.5 777.5L1716.5 768.5L1701.5 774.5Z"/>
<path d="M2031.5 846.5L2046.5 846.5L2037.5 843.5L2025.5 840.5Z"/>
<path d="M1914.5 819.5L1926.5 819.5L1920.5 813.5L1905.5 813.5Z"/>
<path d="M1794.5 792.5L1809.5 792.5L1800.5 783.5L1788.5 783.5Z"/>
<path d="M2118.5 867.5L2130.5 867.5L2124.5 861.5L2109.5 861.5Z"/>
<path d="M1677.5 792.5L1689.5 780.5L1683.5 774.5L1671.5 786.5Z"/>
<path d="M1998.5 840.5L2013.5 840.5L2004.5 834.5L1992.5 834.5Z"/>
<path d="M1881.5 813.5L1893.5 813.5L1887.5 804.5L1875.5 804.5Z"/>
<path d="M1761.5 789.5L1776.5 786.5L1767.5 777.5L1755.5 780.5Z"/>
<path d="M2085.5 861.5L2097.5 861.5L2091.5 855.5L2079.5 855.5Z"/>
<path d="M1644.5 855.5L1656.5 807.5L1650.5 807.5L1638.5 858.5Z"/>
<path d="M1965.5 834.5L1980.5 834.5L1971.5 828.5L1959.5 828.5Z"/>
<path d="M1848.5 807.5L1860.5 804.5L1854.5 798.5L1842.5 798.5Z"/>
<path class="c" d="M1857 805.5h1"/>
<path d="M1731.5 786.5L1743.5 783.5L1734.5 771.5L1722.5 777.5Z"/>
<path d="M2052.5 852.5L2064.5 855.5L2058.5 849.5L2046.5 846.5Z"/>
<path d="M1611.5 906.5L1623.5 900.5L1617.5 894.5L1605.5 900.5Z"/>
<path d="M1935.5 828.5L1947.5 828.5L1938.5 819.5L1926.5 819.5Z"/>
<path d="M1815.5 801.5L1827.5 798.5L1821.5 789.5L1809.5 792.5Z"/>
<path d="M2139.5 870.5L2151.5 870.5L2142.5 867.5L2130.5 867.5Z"/>
<path d="M1698.5 789.5L1710.5 783.5L1701.5 774.5L1689.5 780.5Z"/>
<path d="M2019.5 846.5L2031.5 846.5L2025.5 840.5L2013.5 840.5Z"/>
<path d="M1902.5 819.5L1914.5 819.5L1905.5 813.5L1893.5 813.5Z"/>
<path d="M1782.5 795.5L1794.5 792.5L1788.5 783.5L1776.5 786.5Z"/>
<path d="M2106.5 864.5L2118.5 867.5L2109.5 861.5L2097.5 861.5Z"/>
<path d="M1665.5 813.5L1677.5 792.5L1671.5 786.5L1656.5 807.5Z"/>
<path class="c" d="M1661 805.5h1M1664 808.5h1M1666 811.5h1"/>
<path d="M1986.5 840.5L1998.5 840.5L1992.5 834.5L1980.5 834.5Z"/>
<path d="M1869.5 813.5L1881.5 813.5L1875.5 804.5L1860.5 804.5Z"/>
<path d="M1749.5 792.5L1761.5 789.5L1755.5 780.5L1743.5 783.5Z"/>
<path d="M2073.5 858.5L2085.5 861.5L2079.5 855.5L2064.5 855.5Z"/>
<path d="M1632.5 906.5L1644.5 855.5L1638.5 858.5L1623.5 900.5Z"/>
<path d="M1953.5 834.5L1965.5 834.5L1959.5 828.5L1947.5 828.5Z"/>
<path d="M1836.5 807.5L1848.5 807.5L1842.5 798.5L1827.5 798.5Z"/>
<path d="M1716.5 792.5L1731.5 786.5L1722.5 777.5L1710.5 783.5Z"/>
<path d="M2040.5 852.5L2052.5 852.5L2046.5 846.5L2031.5 846.5Z"/>
<path d="M1920.5 828.5L1935.5 828.5L1926.5 819.5L1914.5 819.5Z"/>
<path d="M1803.5 801.5L1815.5 801.5L1809.5 792.5L1794.5 792.5Z"/>
<path d="M2124.5 870.5L2139.5 870.5L2130.5 867.5L2118.5 867.5Z"/>
<path d="M1683.5 801.5L1698.5 789.5L1689.5 780.5L1677.5 792.5Z"/>
<path d="M2007.5 846.5L2019.5 846.5L2013.5 840.5L1998.5 840.5Z"/>
<path d="M1887.5 822.5L1902.5 819.5L1893.5 813.5L1881.5 813.5Z"/>
<path d="M1770.5 798.5L1782.5 795.5L1776.5 786.5L1761.5 789.5Z"/>
<path d="M2091.5 864.5L2106.5 864.5L2097.5 861.5L2085.5 861.5Z"/>
<path d="M1650.5 855.5L1665.5 813.5L1656.5 807.5L1644.5 855.5Z"/>
<path d="M1974.5 840.5L1986.5 840.5L1980.5 834.5L1965.5 834.5Z"/>
<path d="M1854.5 813.5L1869.5 813.5L1860.5 804.5L1848.5 807.5Z"/>
<path class="c" d="M1856 808.5h1M1854 811.5h1"/>
<path d="M1737.5 795.5L1749.5 792.5L1743.5 783.5L1731.5 786.5Z"/>
<path d="M2058.5 858.5L2073.5 858.5L2064.5 855.5L2052.5 852.5Z"/>
<path d="M1620.5 912.5L1632.5 906.5L1623.5 900.5L1611.5 906.5Z"/>
<path d="M1941.5 834.5L1953.5 834.5L1947.5 828.5L1935.5 828.5Z"/>
<path d="M1824.5 810.5L1836.5 807.5L1827.5 798.5L1815.5 801.5Z"/>
<path d="M1704.5 798.5L1716.5 792.5L1710.5 783.5L1698.5 789.5Z"/>
<path d="M2028.5 852.5L2040.5 852.5L2031.5 846.5L2019.5 846.5Z"/>
<path d="M1908.5 828.5L1920.5 828.5L1914.5 819.5L1902.5 819.5Z"/>
<path d="M1791.5 804.5L1803.5 801.5L1794.5 792.5L1782.5 795.5Z"/>
<path d="M2112.5 870.5L2124.5 870.5L2118.5 867.5L2106.5 864.5Z"/>
<path d="M1671.5 816.5L1683.5 801.5L1677.5 792.5L1665.5 813.5Z"/>
<path class="c" d="M1668 814.5h1"/>
<path d="M1995.5 846.5L2007.5 846.5L1998.5 840.5L1986.5 840.5Z"/>
<path d="M1875.5 822.5L1887.5 822.5L1881.5 813.5L1869.5 813.5Z"/>
<path d="M1758.5 801.5L1770.5 798.5L1761.5 789.5L1749.5 792.5Z"/>
<path d="M2079.5 864.5L2091.5 864.5L2085.5 861.5L2073.5 858.5Z"/>
<path d="M1638.5 909.5L1650.5 855.5L1644.5 855.5L1632.5 906.5Z"/>
<path d="M1962.5 840.5L1974.5 840.5L1965.5 834.5L1953.5 834.5Z"/>
<path d="M1842.5 816.5L1854.5 813.5L1848.5 807.5L1836.5 807.5Z"/>
<path d="M1725.5 801.5L1737.5 795.5L1731.5 786.5L1716.5 792.5Z"/>
<path d="M2046.5 858.5L2058.5 858.5L2052.5 852.5L2040.5 852.5Z"/>
<path d="M1929.5 834.5L1941.5 834.5L1935.5 828.5L1920.5 828.5Z"/>
<path d="M1809.5 810.5L1824.5 810.5L1815.5 801.5L1803.5 801.5Z"/>
<path d="M1692.5 807.5L1704.5 798.5L1698.5 789.5L1683.5 801.5Z"/>
<path d="M2013.5 852.5L2028.5 852.5L2019.5 846.5L2007.5 846.5Z"/>
<path d="M1896.5 828.5L1908.5 828.5L1902.5 819.5L1887.5 822.5Z"/>
<path d="M1776.5 807.5L1791.5 804.5L1782.5 795.5L1770.5 798.5Z"/>
<path d="M2100.5 870.5L2112.5 870.5L2106.5 864.5L2091.5 864.5Z"/>
<path d="M1659.5 852.5L1671.5 816.5L1665.5 813.5L1650.5 855.5Z"/>
<path d="M1980.5 846.5L1995.5 846.5L1986.5 840.5L1974.5 840.5Z"/>
<path d="M1863.5 822.5L1875.5 822.5L1869.5 813.5L1854.5 813.5Z"/>
<path d="M1743.5 804.5L1758.5 801.5L1749.5 792.5L1737.5 795.5Z"/>
<path d="M2067.5 864.5L2079.5 864.5L2073.5 858.5L2058.5 858.5Z"/>
<path d="M1626.5 918.5L1638.5 909.5L1632.5 906.5L1620.5 912.5Z"/>
<path d="M1947.5 840.5L1962.5 840.5L1953.5 834.5L1941.5 834.5Z"/>
<path d="M1830.5 819.5L1842.5 816.5L1836.5 807.5L1824.5 810.5Z"/>
<path d="M1713.5 807.5L1725.5 801.5L1716.5 792.5L1704.5 798.5Z"/>
<path d="M2034.5 861.5L2046.5 858.5L2040.5 852.5L2028.5 852.5Z"/>
<path d="M1917.5 837.5L1929.5 834.5L1920.5 828.5L1908.5 828.5Z"/>
<path d="M1797.5 813.5L1809.5 810.5L1803.5 801.5L1791.5 804.5Z"/>
<path d="M1680.5 822.5L1692.5 807.5L1683.5 801.5L1671.5 816.5Z"/>
<path d="M2001.5 855.5L2013.5 852.5L2007.5 846.5L1995.5 846.5Z"/>
<path d="M1884.5 831.5L1896.5 828.5L1887.5 822.5L1875.5 822.5Z"/>
<path d="M1764.5 810.5L1776.5 807.5L1770.5 798.5L1758.5 801.5Z"/>
<path d="M2088.5 870.5L2100.5 870.5L2091.5 864.5L2079.5 864.5Z"/>
<path d="M1647.5 912.5L1659.5 852.5L1650.5 855.5L1638.5 909.5Z"/>
<path d="M1968.5 849.5L1980.5 846.5L1974.5 840.5L1962.5 840.5Z"/>
<path d="M1851.5 825.5L1863.5 822.5L1854.5 813.5L1842.5 816.5Z"/>
<path class="c" d="M1853 814.5h1M1852 817.5h1M1851 820.5h1M1850 823.5h1"/>
<path d="M1731.5 810.5L1743.5 804.5L1737.5 795.5L1725.5 801.5Z"/>
<path d="M2055.5 867.5L2067.5 864.5L2058.5 858.5L2046.5 858.5Z"/>
<path d="M1935.5 843.5L1947.5 840.5L1941.5 834.5L1929.5 834.5Z"/>
<path d="M1818.5 819.5L1830.5 819.5L1824.5 810.5L1809.5 810.5Z"/>
<path d="M1698.5 816.5L1713.5 807.5L1704.5 798.5L1692.5 807.5Z"/>
<path d="M2022.5 861.5L2034.5 861.5L2028.5 852.5L2013.5 852.5Z"/>
<path d="M1902.5 837.5L1917.5 837.5L1908.5 828.5L1896.5 828.5Z"/>
<path d="M1785.5 816.5L1797.5 813.5L1791.5 804.5L1776.5 807.5Z"/>
<path d="M1665.5 852.5L1680.5 822.5L1671.5 816.5L1659.5 852.5Z"/>
<path class="c" d="M1672 817.5h1M1675 820.5h1M1678 822.5h1"/>
<path d="M1989.5 855.5L2001.5 855.5L1995.5 846.5L1980.5 846.5Z"/>
<path d="M1869.5 831.5L1884.5 831.5L1875.5 822.5L1863.5 822.5Z"/>
<path d="M1752.5 813.5L1764.5 810.5L1758.5 801.5L1743.5 804.5Z"/>
<path d="M2073.5 870.5L2088.5 870.5L2079.5 864.5L2067.5 864.5Z"/>
<path d="M1632.5 927.5L1647.5 912.5L1638.5 909.5L1626.5 918.5Z"/>
<path d="M1956.5 849.5L1968.5 849.5L1962.5 840.5L1947.5 840.5Z"/>
<path d="M1836.5 825.5L1851.5 825.5L1842.5 816.5L1830.5 819.5Z"/>
<path class="c" d="M1849 824.5h1"/>
<path d="M1719.5 816.5L1731.5 810.5L1725.5 801.5L1713.5 807.5Z"/>
<path d="M2040.5 867.5L2055.5 867.5L2046.5 858.5L2034.5 861.5Z"/>
<path d="M1923.5 843.5L1935.5 843.5L1929.5 834.5L1917.5 837.5Z"/>
<path d="M1806.5 822.5L1818.5 819.5L1809.5 810.5L1797.5 813.5Z"/>
<path d="M1686.5 828.5L1698.5 816.5L1692.5 807.5L1680.5 822.5Z"/>
<path d="M2010.5 861.5L2022.5 861.5L2013.5 852.5L2001.5 855.5Z"/>
<path d="M1890.5 837.5L1902.5 837.5L1896.5 828.5L1884.5 831.5Z"/>
<path d="M1773.5 819.5L1785.5 816.5L1776.5 807.5L1764.5 810.5Z"/>
<path d="M1653.5 915.5L1665.5 852.5L1659.5 852.5L1647.5 912.5Z"/>
<path d="M1977.5 855.5L1989.5 855.5L1980.5 846.5L1968.5 849.5Z"/>
<path d="M1857.5 834.5L1869.5 831.5L1863.5 822.5L1851.5 825.5Z"/>
<path d="M1740.5 819.5L1752.5 813.5L1743.5 804.5L1731.5 810.5Z"/>
<path d="M2061.5 873.5L2073.5 870.5L2067.5 864.5L2055.5 867.5Z"/>
<path d="M1944.5 849.5L1956.5 849.5L1947.5 840.5L1935.5 843.5Z"/>
<path d="M1824.5 828.5L1836.5 825.5L1830.5 819.5L1818.5 819.5Z"/>
<path d="M1707.5 822.5L1719.5 816.5L1713.5 807.5L1698.5 816.5Z"/>
<path d="M2028.5 867.5L2040.5 867.5L2034.5 861.5L2022.5 861.5Z"/>
<path d="M1911.5 843.5L1923.5 843.5L1917.5 837.5L1902.5 837.5Z"/>
<path d="M1791.5 825.5L1806.5 822.5L1797.5 813.5L1785.5 816.5Z"/>
<path d="M1674.5 852.5L1686.5 828.5L1680.5 822.5L1665.5 852.5Z"/>
<path class="c" d="M1681 826.5h1M1683 829.5h1"/>
<path d="M1995.5 861.5L2010.5 861.5L2001.5 855.5L1989.5 855.5Z"/>
<path d="M1878.5 840.5L1890.5 837.5L1884.5 831.5L1869.5 831.5Z"/>
<path d="M1758.5 822.5L1773.5 819.5L1764.5 810.5L1752.5 813.5Z"/>
<path d="M1641.5 933.5L1653.5 915.5L1647.5 912.5L1632.5 927.5Z"/>
<path d="M1962.5 855.5L1977.5 855.5L1968.5 849.5L1956.5 849.5Z"/>
<path d="M1845.5 834.5L1857.5 834.5L1851.5 825.5L1836.5 825.5Z"/>
<path class="c" d="M1843 829.5h1M1846 827.5h1"/>
<path d="M1725.5 822.5L1740.5 819.5L1731.5 810.5L1719.5 816.5Z"/>
<path d="M2049.5 873.5L2061.5 873.5L2055.5 867.5L2040.5 867.5Z"/>
<path d="M1929.5 852.5L1944.5 849.5L1935.5 843.5L1923.5 843.5Z"/>
<path d="M1812.5 831.5L1824.5 828.5L1818.5 819.5L1806.5 822.5Z"/>
<path d="M1695.5 834.5L1707.5 822.5L1698.5 816.5L1686.5 828.5Z"/>
<path d="M2016.5 867.5L2028.5 867.5L2022.5 861.5L2010.5 861.5Z"/>
<path d="M1899.5 846.5L1911.5 843.5L1902.5 837.5L1890.5 837.5Z"/>
<path d="M1779.5 828.5L1791.5 825.5L1785.5 816.5L1773.5 819.5Z"/>
<path d="M1662.5 912.5L1674.5 852.5L1665.5 852.5L1653.5 915.5Z"/>
<path d="M1983.5 861.5L1995.5 861.5L1989.5 855.5L1977.5 855.5Z"/>
<path d="M1866.5 840.5L1878.5 840.5L1869.5 831.5L1857.5 834.5Z"/>
<path d="M1746.5 828.5L1758.5 822.5L1752.5 813.5L1740.5 819.5Z"/>
<path d="M1950.5 858.5L1962.5 855.5L1956.5 849.5L1944.5 849.5Z"/>
<path d="M1833.5 837.5L1845.5 834.5L1836.5 825.5L1824.5 828.5Z"/>
<path class="c" d="M1840 832.5h1M1838 835.5h1"/>
<path d="M1713.5 831.5L1725.5 822.5L1719.5 816.5L1707.5 822.5Z"/>
<path d="M2037.5 873.5L2049.5 873.5L2040.5 867.5L2028.5 867.5Z"/>
<path d="M1917.5 852.5L1929.5 852.5L1923.5 843.5L1911.5 843.5Z"/>
<path d="M1800.5 834.5L1812.5 831.5L1806.5 822.5L1791.5 825.5Z"/>
<path d="M1680.5 852.5L1695.5 834.5L1686.5 828.5L1674.5 852.5Z"/>
<path class="c" d="M1687 832.5h1M1690 834.5h1M1693 836.5h1"/>
<path d="M2004.5 867.5L2016.5 867.5L2010.5 861.5L1995.5 861.5Z"/>
<path d="M1884.5 849.5L1899.5 846.5L1890.5 837.5L1878.5 840.5Z"/>
<path d="M1767.5 831.5L1779.5 828.5L1773.5 819.5L1758.5 822.5Z"/>
<path d="M1647.5 939.5L1662.5 912.5L1653.5 915.5L1641.5 933.5Z"/>
<path d="M1971.5 864.5L1983.5 861.5L1977.5 855.5L1962.5 855.5Z"/>
<path d="M1851.5 843.5L1866.5 840.5L1857.5 834.5L1845.5 834.5Z"/>
<path d="M1734.5 831.5L1746.5 828.5L1740.5 819.5L1725.5 822.5Z"/>
<path d="M1938.5 858.5L1950.5 858.5L1944.5 849.5L1929.5 852.5Z"/>
<path d="M1818.5 840.5L1833.5 837.5L1824.5 828.5L1812.5 831.5Z"/>
<path d="M1701.5 840.5L1713.5 831.5L1707.5 822.5L1695.5 834.5Z"/>
<path d="M2022.5 873.5L2037.5 873.5L2028.5 867.5L2016.5 867.5Z"/>
<path d="M1905.5 855.5L1917.5 852.5L1911.5 843.5L1899.5 846.5Z"/>
<path d="M1785.5 837.5L1800.5 834.5L1791.5 825.5L1779.5 828.5Z"/>
<path d="M1668.5 909.5L1680.5 852.5L1674.5 852.5L1662.5 912.5Z"/>
<path d="M1989.5 870.5L2004.5 867.5L1995.5 861.5L1983.5 861.5Z"/>
<path d="M1872.5 849.5L1884.5 849.5L1878.5 840.5L1866.5 840.5Z"/>
<path d="M1755.5 837.5L1767.5 831.5L1758.5 822.5L1746.5 828.5Z"/>
<path d="M1959.5 864.5L1971.5 864.5L1962.5 855.5L1950.5 858.5Z"/>
<path d="M1839.5 846.5L1851.5 843.5L1845.5 834.5L1833.5 837.5Z"/>
<path class="c" d="M1835 838.5h1"/>
<path d="M1722.5 837.5L1734.5 831.5L1725.5 822.5L1713.5 831.5Z"/>
<path d="M1926.5 861.5L1938.5 858.5L1929.5 852.5L1917.5 852.5Z"/>
<path d="M1806.5 843.5L1818.5 840.5L1812.5 831.5L1800.5 834.5Z"/>
<path d="M1689.5 855.5L1701.5 840.5L1695.5 834.5L1680.5 852.5Z"/>
<path class="c" d="M1696 839.5h1M1699 842.5h1"/>
<path d="M2010.5 876.5L2022.5 873.5L2016.5 867.5L2004.5 867.5Z"/>
<path d="M1893.5 855.5L1905.5 855.5L1899.5 846.5L1884.5 849.5Z"/>
<path d="M1773.5 840.5L1785.5 837.5L1779.5 828.5L1767.5 831.5Z"/>
<path d="M1656.5 945.5L1668.5 909.5L1662.5 912.5L1647.5 939.5Z"/>
<path d="M1977.5 870.5L1989.5 870.5L1983.5 861.5L1971.5 864.5Z"/>
<path d="M1860.5 852.5L1872.5 849.5L1866.5 840.5L1851.5 843.5Z"/>
<path d="M1740.5 840.5L1755.5 837.5L1746.5 828.5L1734.5 831.5Z"/>
<path d="M1944.5 867.5L1959.5 864.5L1950.5 858.5L1938.5 858.5Z"/>
<path d="M1827.5 849.5L1839.5 846.5L1833.5 837.5L1818.5 840.5Z"/>
<path class="c" d="M1825 845.5h1M1828 843.5h1M1831 841.5h1M1834 839.5h1"/>
<path d="M1707.5 846.5L1722.5 837.5L1713.5 831.5L1701.5 840.5Z"/>
<path d="M1911.5 861.5L1926.5 861.5L1917.5 852.5L1905.5 855.5Z"/>
<path d="M1794.5 846.5L1806.5 843.5L1800.5 834.5L1785.5 837.5Z"/>
<path d="M1674.5 906.5L1689.5 855.5L1680.5 852.5L1668.5 909.5Z"/>
<path d="M1998.5 876.5L2010.5 876.5L2004.5 867.5L1989.5 870.5Z"/>
<path d="M1878.5 858.5L1893.5 855.5L1884.5 849.5L1872.5 849.5Z"/>
<path d="M1761.5 843.5L1773.5 840.5L1767.5 831.5L1755.5 837.5Z"/>
<path d="M1965.5 873.5L1977.5 870.5L1971.5 864.5L1959.5 864.5Z"/>
<path d="M1848.5 855.5L1860.5 852.5L1851.5 843.5L1839.5 846.5Z"/>
<path d="M1728.5 846.5L1740.5 840.5L1734.5 831.5L1722.5 837.5Z"/>
<path d="M1932.5 867.5L1944.5 867.5L1938.5 858.5L1926.5 861.5Z"/>
<path d="M1815.5 852.5L1827.5 849.5L1818.5 840.5L1806.5 843.5Z"/>
<path class="c" d="M1816 852.5h1M1819 850.5h1M1822 847.5h1"/>
<path d="M1695.5 861.5L1707.5 846.5L1701.5 840.5L1689.5 855.5Z"/>
<path class="c" d="M1702 844.5h1M1705 847.5h1"/>
<path d="M1899.5 864.5L1911.5 861.5L1905.5 855.5L1893.5 855.5Z"/>
<path d="M1782.5 849.5L1794.5 846.5L1785.5 837.5L1773.5 840.5Z"/>
<path d="M1662.5 951.5L1674.5 906.5L1668.5 909.5L1656.5 945.5Z"/>
<path d="M1986.5 879.5L1998.5 876.5L1989.5 870.5L1977.5 870.5Z"/>
<path d="M1866.5 861.5L1878.5 858.5L1872.5 849.5L1860.5 852.5Z"/>
<path d="M1749.5 849.5L1761.5 843.5L1755.5 837.5L1740.5 840.5Z"/>
<path d="M1953.5 873.5L1965.5 873.5L1959.5 864.5L1944.5 867.5Z"/>
<path d="M1833.5 855.5L1848.5 855.5L1839.5 846.5L1827.5 849.5Z"/>
<path d="M1716.5 852.5L1728.5 846.5L1722.5 837.5L1707.5 846.5Z"/>
<path d="M1920.5 870.5L1932.5 867.5L1926.5 861.5L1911.5 861.5Z"/>
<path d="M1800.5 855.5L1815.5 852.5L1806.5 843.5L1794.5 846.5Z"/>
<path d="M1683.5 900.5L1695.5 861.5L1689.5 855.5L1674.5 906.5Z"/>
<path d="M1887.5 867.5L1899.5 864.5L1893.5 855.5L1878.5 858.5Z"/>
<path d="M1767.5 852.5L1782.5 849.5L1773.5 840.5L1761.5 843.5Z"/>
<path d="M1971.5 879.5L1986.5 879.5L1977.5 870.5L1965.5 873.5Z"/>
<path d="M1854.5 861.5L1866.5 861.5L1860.5 852.5L1848.5 855.5Z"/>
<path d="M1737.5 855.5L1749.5 849.5L1740.5 840.5L1728.5 846.5Z"/>
<path d="M1941.5 876.5L1953.5 873.5L1944.5 867.5L1932.5 867.5Z"/>
<path d="M1821.5 858.5L1833.5 855.5L1827.5 849.5L1815.5 852.5Z"/>
<path d="M1704.5 864.5L1716.5 852.5L1707.5 846.5L1695.5 861.5Z"/>
<path class="c" d="M1708 849.5h1M1711 851.5h1M1714 852.5h1"/>
<path d="M1908.5 873.5L1920.5 870.5L1911.5 861.5L1899.5 864.5Z"/>
<path d="M1788.5 858.5L1800.5 855.5L1794.5 846.5L1782.5 849.5Z"/>
<path d="M1671.5 957.5L1683.5 900.5L1674.5 906.5L1662.5 951.5Z"/>
<path d="M1875.5 867.5L1887.5 867.5L1878.5 858.5L1866.5 861.5Z"/>
<path d="M1755.5 858.5L1767.5 852.5L1761.5 843.5L1749.5 849.5Z"/>
<path d="M1959.5 882.5L1971.5 879.5L1965.5 873.5L1953.5 873.5Z"/>
<path d="M1842.5 864.5L1854.5 861.5L1848.5 855.5L1833.5 855.5Z"/>
<path d="M1722.5 861.5L1737.5 855.5L1728.5 846.5L1716.5 852.5Z"/>
<path class="c" d="M1723 859.5h1"/>
<path d="M1926.5 876.5L1941.5 876.5L1932.5 867.5L1920.5 870.5Z"/>
<path d="M1809.5 861.5L1821.5 858.5L1815.5 852.5L1800.5 855.5Z"/>
<path class="c" d="M1804 856.5h1M1807 855.5h1M1810 854.5h1M1813 853.5h1"/>
<path d="M1689.5 897.5L1704.5 864.5L1695.5 861.5L1683.5 900.5Z"/>
<path d="M1893.5 873.5L1908.5 873.5L1899.5 864.5L1887.5 867.5Z"/>
<path d="M1776.5 861.5L1788.5 858.5L1782.5 849.5L1767.5 852.5Z"/>
<path d="M1860.5 870.5L1875.5 867.5L1866.5 861.5L1854.5 861.5Z"/>
<path d="M1743.5 861.5L1755.5 858.5L1749.5 849.5L1737.5 855.5Z"/>
<path d="M1947.5 882.5L1959.5 882.5L1953.5 873.5L1941.5 876.5Z"/>
<path d="M1830.5 867.5L1842.5 864.5L1833.5 855.5L1821.5 858.5Z"/>
<path d="M1710.5 870.5L1722.5 861.5L1716.5 852.5L1704.5 864.5Z"/>
<path class="c" d="M1718 856.5h1"/>
<path d="M1914.5 879.5L1926.5 876.5L1920.5 870.5L1908.5 873.5Z"/>
<path d="M1797.5 867.5L1809.5 861.5L1800.5 855.5L1788.5 858.5Z"/>
<path class="c" d="M1792 861.5h1M1795 860.5h1M1798 858.5h1M1801 857.5h1"/>
<path d="M1677.5 963.5L1689.5 897.5L1683.5 900.5L1671.5 957.5Z"/>
<path d="M1881.5 876.5L1893.5 873.5L1887.5 867.5L1875.5 867.5Z"/>
<path d="M1764.5 864.5L1776.5 861.5L1767.5 852.5L1755.5 858.5Z"/>
<path d="M1848.5 873.5L1860.5 870.5L1854.5 861.5L1842.5 864.5Z"/>
<path d="M1731.5 867.5L1743.5 861.5L1737.5 855.5L1722.5 861.5Z"/>
<path class="c" d="M1726 861.5h1M1729 861.5h1M1732 862.5h1M1735 862.5h1M1738 863.5h1"/>
<path d="M1935.5 885.5L1947.5 882.5L1941.5 876.5L1926.5 876.5Z"/>
<path d="M1815.5 870.5L1830.5 867.5L1821.5 858.5L1809.5 861.5Z"/>
<path d="M1698.5 894.5L1710.5 870.5L1704.5 864.5L1689.5 897.5Z"/>
<path d="M1902.5 882.5L1914.5 879.5L1908.5 873.5L1893.5 873.5Z"/>
<path d="M1782.5 870.5L1797.5 867.5L1788.5 858.5L1776.5 861.5Z"/>
<path class="c" d="M1780 863.5h1M1783 863.5h1M1786 862.5h1M1789 862.5h1"/>
<path d="M1869.5 879.5L1881.5 876.5L1875.5 867.5L1860.5 870.5Z"/>
<path d="M1749.5 870.5L1764.5 864.5L1755.5 858.5L1743.5 861.5Z"/>
<path class="c" d="M1747 865.5h1M1750 865.5h1M1753 865.5h1M1756 865.5h1M1759 865.5h1M1762 865.5h1"/>
<path d="M1836.5 876.5L1848.5 873.5L1842.5 864.5L1830.5 867.5Z"/>
<path d="M1719.5 876.5L1731.5 867.5L1722.5 861.5L1710.5 870.5Z"/>
<path d="M1923.5 888.5L1935.5 885.5L1926.5 876.5L1914.5 879.5Z"/>
<path d="M1803.5 873.5L1815.5 870.5L1809.5 861.5L1797.5 867.5Z"/>
<path d="M1686.5 969.5L1698.5 894.5L1689.5 897.5L1677.5 963.5Z"/>
<path d="M1890.5 885.5L1902.5 882.5L1893.5 873.5L1881.5 876.5Z"/>
<path d="M1770.5 873.5L1782.5 870.5L1776.5 861.5L1764.5 864.5Z"/>
<path class="c" d="M1765 865.5h1M1768 865.5h1M1771 864.5h1M1774 864.5h1M1777 864.5h1"/>
<path d="M1857.5 882.5L1869.5 879.5L1860.5 870.5L1848.5 873.5Z"/>
<path d="M1737.5 876.5L1749.5 870.5L1743.5 861.5L1731.5 867.5Z"/>
<path class="c" d="M1741 864.5h1M1744 865.5h1"/>
<path d="M1824.5 879.5L1836.5 876.5L1830.5 867.5L1815.5 870.5Z"/>
<path d="M1704.5 894.5L1719.5 876.5L1710.5 870.5L1698.5 894.5Z"/>
<path d="M1908.5 891.5L1923.5 888.5L1914.5 879.5L1902.5 882.5Z"/>
<path d="M1791.5 876.5L1803.5 873.5L1797.5 867.5L1782.5 870.5Z"/>
<path d="M1875.5 888.5L1890.5 885.5L1881.5 876.5L1869.5 879.5Z"/>
<path d="M1758.5 879.5L1770.5 873.5L1764.5 864.5L1749.5 870.5Z"/>
<path d="M1842.5 885.5L1857.5 882.5L1848.5 873.5L1836.5 876.5Z"/>
<path d="M1725.5 882.5L1737.5 876.5L1731.5 867.5L1719.5 876.5Z"/>
<path d="M1809.5 882.5L1824.5 879.5L1815.5 870.5L1803.5 873.5Z"/>
<path d="M1692.5 972.5L1704.5 894.5L1698.5 894.5L1686.5 969.5Z"/>
<path d="M1896.5 891.5L1908.5 891.5L1902.5 882.5L1890.5 885.5Z"/>
<path d="M1779.5 882.5L1791.5 876.5L1782.5 870.5L1770.5 873.5Z"/>
<path d="M1863.5 888.5L1875.5 888.5L1869.5 879.5L1857.5 882.5Z"/>
<path d="M1746.5 882.5L1758.5 879.5L1749.5 870.5L1737.5 876.5Z"/>
<path d="M1830.5 888.5L1842.5 885.5L1836.5 876.5L1824.5 879.5Z"/>
<path d="M1713.5 897.5L1725.5 882.5L1719.5 876.5L1704.5 894.5Z"/>
<path d="M1797.5 885.5L1809.5 882.5L1803.5 873.5L1791.5 876.5Z"/>
<path d="M1884.5 894.5L1896.5 891.5L1890.5 885.5L1875.5 888.5Z"/>
<path d="M1764.5 885.5L1779.5 882.5L1770.5 873.5L1758.5 879.5Z"/>
<path d="M1851.5 891.5L1863.5 888.5L1857.5 882.5L1842.5 885.5Z"/>
<path d="M1731.5 888.5L1746.5 882.5L1737.5 876.5L1725.5 882.5Z"/>
<path d="M1818.5 891.5L1830.5 888.5L1824.5 879.5L1809.5 882.5Z"/>
<path d="M1698.5 975.5L1713.5 897.5L1704.5 894.5L1692.5 972.5Z"/>
<path d="M1785.5 888.5L1797.5 885.5L1791.5 876.5L1779.5 882.5Z"/>
<path d="M1872.5 897.5L1884.5 894.5L1875.5 888.5L1863.5 888.5Z"/>
<path d="M1752.5 891.5L1764.5 885.5L1758.5 879.5L1746.5 882.5Z"/>
<path d="M1839.5 894.5L1851.5 891.5L1842.5 885.5L1830.5 888.5Z"/>
<path d="M1719.5 900.5L1731.5 888.5L1725.5 882.5L1713.5 897.5Z"/>
<path d="M1806.5 894.5L1818.5 891.5L1809.5 882.5L1797.5 885.5Z"/>
<path d="M1773.5 894.5L1785.5 888.5L1779.5 882.5L1764.5 885.5Z"/>
<path d="M1857.5 900.5L1872.5 897.5L1863.5 888.5L1851.5 891.5Z"/>
<path d="M1740.5 897.5L1752.5 891.5L1746.5 882.5L1731.5 888.5Z"/>
<path d="M1824.5 897.5L1839.5 894.5L1830.5 888.5L1818.5 891.5Z"/>
<path d="M1707.5 972.5L1719.5 900.5L1713.5 897.5L1698.5 975.5Z"/>
<path d="M1791.5 897.5L1806.5 894.5L1797.5 885.5L1785.5 888.5Z"/>
<path d="M1761.5 897.5L1773.5 894.5L1764.5 885.5L1752.5 891.5Z"/>
<path d="M1845.5 903.5L1857.5 900.5L1851.5 891.5L1839.5 894.5Z"/>
<path d="M1728.5 906.5L1740.5 897.5L1731.5 888.5L1719.5 900.5Z"/>
<path d="M1812.5 903.5L1824.5 897.5L1818.5 891.5L1806.5 894.5Z"/>
<path d="M1779.5 900.5L1791.5 897.5L1785.5 888.5L1773.5 894.5Z"/>
<path d="M1746.5 903.5L1761.5 897.5L1752.5 891.5L1740.5 897.5Z"/>
<path d="M1833.5 906.5L1845.5 903.5L1839.5 894.5L1824.5 897.5Z"/>
<path d="M1713.5 960.5L1728.5 906.5L1719.5 900.5L1707.5 972.5Z"/>
<path d="M1800.5 906.5L1812.5 903.5L1806.5 894.5L1791.5 897.5Z"/>
<path d="M1767.5 906.5L1779.5 900.5L1773.5 894.5L1761.5 897.5Z"/>
<path d="M1734.5 909.5L1746.5 903.5L1740.5 897.5L1728.5 906.5Z"/>
<path d="M1821.5 909.5L1833.5 906.5L1824.5 897.5L1812.5 903.5Z"/>
<path d="M1788.5 909.5L1800.5 906.5L1791.5 897.5L1779.5 900.5Z"/>
<path d="M1755.5 909.5L1767.5 906.5L1761.5 897.5L1746.5 903.5Z"/>
<path d="M1722.5 942.5L1734.5 909.5L1728.5 906.5L1713.5 960.5Z"/>
<path d="M1806.5 912.5L1821.5 909.5L1812.5 903.5L1800.5 906.5Z"/>
<path d="M1773.5 912.5L1788.5 909.5L1779.5 900.5L1767.5 906.5Z"/>
<path d="M1743.5 915.5L1755.5 909.5L1746.5 903.5L1734.5 909.5Z"/>
<path d="M1794.5 918.5L1806.5 912.5L1800.5 906.5L1788.5 909.5Z"/>
<path d="M1761.5 918.5L1773.5 912.5L1767.5 906.5L1755.5 909.5Z"/>
<path d="M1728.5 933.5L1743.5 915.5L1734.5 909.5L1722.5 942.5Z"/>
<path d="M1782.5 921.5L1794.5 918.5L1788.5 909.5L1773.5 912.5Z"/>
<path d="M1749.5 921.5L1761.5 918.5L1755.5 909.5L1743.5 915.5Z"/>
<path d="M1770.5 924.5L1782.5 921.5L1773.5 912.5L1761.5 918.5Z"/>
<path d="M1737.5 933.5L1749.5 921.5L1743.5 915.5L1728.5 933.5Z"/>
<path d="M1755.5 930.5L1770.5 924.5L1761.5 918.5L1749.5 921.5Z"/>
<path d="M1743.5 933.5L1755.5 930.5L1749.5 921.5L1737.5 933.5Z"/>
</g>
<g stroke="#000" stroke-width="1" fill="none" shape-rendering="crispEdges">
<line x1="1446.5" y1="279.5" x2="1740.5" y2="525.5"/>
<line x1="1740.5" y1="525.5" x2="2250.5" y2="384.5"/>
<line x1="1740.5" y1="525.5" x2="1740.5" y2="1023.5"/>
<line x1="1740.5" y1="1023.5" x2="2250.5" y2="879.5"/>
<line x1="1740.5" y1="1023.5" x2="1446.5" y2="774.5"/>
</g>
<g stroke="#000" stroke-width="1.2" fill="none">
<line x1="1740.5" y1="1023.5" x2="1745.5" y2="1037.7"/>
<line x1="1755.5" y1="1020.5" x2="1758" y2="1027.6"/>
<line x1="1767.5" y1="1017.5" x2="1770" y2="1024.6"/>
<line x1="1779.5" y1="1014.5" x2="1782" y2="1021.6"/>
<line x1="1791.5" y1="1008.5" x2="1794" y2="1015.6"/>
<line x1="1803.5" y1="1005.5" x2="1808.5" y2="1019.7"/>
<line x1="1818.5" y1="1002.5" x2="1821" y2="1009.6"/>
<line x1="1830.5" y1="999.5" x2="1833" y2="1006.6"/>
<line x1="1842.5" y1="996.5" x2="1845" y2="1003.6"/>
<line x1="1854.5" y1="990.5" x2="1857" y2="997.6"/>
<line x1="1869.5" y1="987.5" x2="1874.5" y2="1001.7"/>
<line x1="1881.5" y1="984.5" x2="1884" y2="991.6"/>
<line x1="1893.5" y1="981.5" x2="1896" y2="988.6"/>
<line x1="1905.5" y1="978.5" x2="1908" y2="985.6"/>
<line x1="1920.5" y1="975.5" x2="1923" y2="982.6"/>
<line x1="1932.5" y1="969.5" x2="1937.5" y2="983.7"/>
<line x1="1944.5" y1="966.5" x2="1947" y2="973.6"/>
<line x1="1956.5" y1="963.5" x2="1959" y2="970.6"/>
<line x1="1971.5" y1="960.5" x2="1974" y2="967.6"/>
<line x1="1983.5" y1="957.5" x2="1986" y2="964.6"/>
<line x1="1995.5" y1="951.5" x2="2000.5" y2="965.7"/>
<line x1="2007.5" y1="948.5" x2="2010" y2="955.6"/>
<line x1="2022.5" y1="945.5" x2="2025" y2="952.6"/>
<line x1="2034.5" y1="942.5" x2="2037" y2="949.6"/>
<line x1="2046.5" y1="939.5" x2="2049" y2="946.6"/>
<line x1="2058.5" y1="933.5" x2="2063.4" y2="947.7"/>
<line x1="2070.5" y1="930.5" x2="2073" y2="937.6"/>
<line x1="2085.5" y1="927.5" x2="2088" y2="934.6"/>
<line x1="2097.5" y1="924.5" x2="2100" y2="931.6"/>
<line x1="2109.5" y1="921.5" x2="2112" y2="928.6"/>
<line x1="2121.5" y1="915.5" x2="2126.4" y2="929.7"/>
<line x1="2136.5" y1="912.5" x2="2139" y2="919.6"/>
<line x1="2148.5" y1="909.5" x2="2151" y2="916.6"/>
<line x1="2160.5" y1="906.5" x2="2163" y2="913.6"/>
<line x1="2172.5" y1="903.5" x2="2175" y2="910.6"/>
<line x1="2187.5" y1="897.5" x2="2192.4" y2="911.7"/>
<line x1="2199.5" y1="894.5" x2="2202" y2="901.6"/>
<line x1="2211.5" y1="891.5" x2="2214" y2="898.6"/>
<line x1="2223.5" y1="888.5" x2="2226" y2="895.6"/>
<line x1="2238.5" y1="885.5" x2="2241" y2="892.6"/>
<line x1="2250.5" y1="879.5" x2="2255.4" y2="893.7"/>
<line x1="1740.5" y1="1023.5" x2="1732.4" y2="1030.6"/>
<line x1="1734.5" y1="1020.5" x2="1731.3" y2="1023.3"/>
<line x1="1728.5" y1="1014.5" x2="1725.3" y2="1017.3"/>
<line x1="1722.5" y1="1008.5" x2="1719.3" y2="1011.3"/>
<line x1="1716.5" y1="1005.5" x2="1713.3" y2="1008.3"/>
<line x1="1710.5" y1="999.5" x2="1702.4" y2="1006.6"/>
<line x1="1707.5" y1="993.5" x2="1704.3" y2="996.3"/>
<line x1="1701.5" y1="990.5" x2="1698.3" y2="993.3"/>
<line x1="1695.5" y1="984.5" x2="1692.3" y2="987.3"/>
<line x1="1689.5" y1="978.5" x2="1686.3" y2="981.3"/>
<line x1="1683.5" y1="975.5" x2="1675.4" y2="982.6"/>
<line x1="1677.5" y1="969.5" x2="1674.3" y2="972.3"/>
<line x1="1671.5" y1="963.5" x2="1668.3" y2="966.3"/>
<line x1="1665.5" y1="960.5" x2="1662.3" y2="963.3"/>
<line x1="1659.5" y1="954.5" x2="1656.3" y2="957.3"/>
<line x1="1653.5" y1="948.5" x2="1645.4" y2="955.6"/>
<line x1="1647.5" y1="945.5" x2="1644.3" y2="948.3"/>
<line x1="1641.5" y1="939.5" x2="1638.3" y2="942.3"/>
<line x1="1635.5" y1="933.5" x2="1632.3" y2="936.3"/>
<line x1="1629.5" y1="930.5" x2="1626.3" y2="933.3"/>
<line x1="1623.5" y1="924.5" x2="1615.4" y2="931.6"/>
<line x1="1617.5" y1="918.5" x2="1614.3" y2="921.3"/>
<line x1="1611.5" y1="915.5" x2="1608.3" y2="918.3"/>
<line x1="1605.5" y1="909.5" x2="1602.3" y2="912.3"/>
<line x1="1599.5" y1="903.5" x2="1596.3" y2="906.3"/>
<line x1="1593.5" y1="900.5" x2="1585.4" y2="907.6"/>
<line x1="1587.5" y1="894.5" x2="1584.3" y2="897.3"/>
<line x1="1581.5" y1="888.5" x2="1578.3" y2="891.3"/>
<line x1="1575.5" y1="885.5" x2="1572.3" y2="888.3"/>
<line x1="1569.5" y1="879.5" x2="1566.3" y2="882.3"/>
<line x1="1566.5" y1="876.5" x2="1558.4" y2="883.6"/>
<line x1="1560.5" y1="870.5" x2="1557.3" y2="873.3"/>
<line x1="1554.5" y1="864.5" x2="1551.3" y2="867.3"/>
<line x1="1548.5" y1="861.5" x2="1545.3" y2="864.3"/>
<line x1="1542.5" y1="855.5" x2="1539.3" y2="858.3"/>
<line x1="1536.5" y1="849.5" x2="1528.4" y2="856.6"/>
<line x1="1530.5" y1="846.5" x2="1527.3" y2="849.3"/>
<line x1="1524.5" y1="840.5" x2="1521.3" y2="843.3"/>
<line x1="1518.5" y1="834.5" x2="1515.3" y2="837.3"/>
<line x1="1512.5" y1="831.5" x2="1509.3" y2="834.3"/>
<line x1="1506.5" y1="825.5" x2="1498.4" y2="832.6"/>
<line x1="1500.5" y1="819.5" x2="1497.3" y2="822.3"/>
<line x1="1494.5" y1="816.5" x2="1491.3" y2="819.3"/>
<line x1="1488.5" y1="810.5" x2="1485.3" y2="813.3"/>
<line x1="1482.5" y1="804.5" x2="1479.3" y2="807.3"/>
<line x1="1476.5" y1="801.5" x2="1468.4" y2="808.6"/>
<line x1="1470.5" y1="795.5" x2="1467.3" y2="798.3"/>
<line x1="1464.5" y1="789.5" x2="1461.3" y2="792.3"/>
<line x1="1458.5" y1="786.5" x2="1455.3" y2="789.3"/>
<line x1="1452.5" y1="780.5" x2="1449.3" y2="783.3"/>
<line x1="1446.5" y1="774.5" x2="1438.4" y2="781.6"/>
</g>
<g stroke="#000" stroke-width="1" fill="none" shape-rendering="crispEdges">
<line x1="1446.5" y1="774.5" x2="1431" y2="774.5"/>
<line x1="1446.5" y1="756.5" x2="1440" y2="756.5"/>
<line x1="1446.5" y1="735.5" x2="1440" y2="735.5"/>
<line x1="1446.5" y1="717.5" x2="1440" y2="717.5"/>
<line x1="1446.5" y1="696.5" x2="1440" y2="696.5"/>
<line x1="1446.5" y1="678.5" x2="1431" y2="678.5"/>
<line x1="1446.5" y1="657.5" x2="1440" y2="657.5"/>
<line x1="1446.5" y1="636.5" x2="1440" y2="636.5"/>
<line x1="1446.5" y1="618.5" x2="1440" y2="618.5"/>
<line x1="1446.5" y1="597.5" x2="1440" y2="597.5"/>
<line x1="1446.5" y1="579.5" x2="1431" y2="579.5"/>
<line x1="1446.5" y1="558.5" x2="1440" y2="558.5"/>
<line x1="1446.5" y1="540.5" x2="1440" y2="540.5"/>
<line x1="1446.5" y1="519.5" x2="1440" y2="519.5"/>
<line x1="1446.5" y1="501.5" x2="1440" y2="501.5"/>
<line x1="1446.5" y1="480.5" x2="1431" y2="480.5"/>
<line x1="1446.5" y1="459.5" x2="1440" y2="459.5"/>
<line x1="1446.5" y1="441.5" x2="1440" y2="441.5"/>
<line x1="1446.5" y1="420.5" x2="1440" y2="420.5"/>
<line x1="1446.5" y1="402.5" x2="1440" y2="402.5"/>
<line x1="1446.5" y1="381.5" x2="1431" y2="381.5"/>
<line x1="1446.5" y1="363.5" x2="1440" y2="363.5"/>
<line x1="1446.5" y1="342.5" x2="1440" y2="342.5"/>
<line x1="1446.5" y1="321.5" x2="1440" y2="321.5"/>
<line x1="1446.5" y1="303.5" x2="1440" y2="303.5"/>
<line x1="1446.5" y1="282.5" x2="1431" y2="282.5"/>
</g>
<g font-size="36.5">
<text x="1751" y="1077.2" text-anchor="middle">−20</text>
<text x="1814" y="1059.2" text-anchor="middle">−15</text>
<text x="1880" y="1041.2" text-anchor="middle">−10</text>
<text x="1943" y="1023.2" text-anchor="middle">−5</text>
<text x="2006" y="1005.2" text-anchor="middle">0</text>
<text x="2069" y="987.2" text-anchor="middle">5</text>
<text x="2132" y="969.2" text-anchor="middle">10</text>
<text x="2198" y="951.2" text-anchor="middle">15</text>
<text x="2261" y="933.2" text-anchor="middle">20</text>
<text x="1713.5" y="1068.5" text-anchor="end">0</text>
<text x="1683.5" y="1044.5" text-anchor="end">0.1</text>
<text x="1656.5" y="1020.5" text-anchor="end">0.2</text>
<text x="1626.5" y="993.5" text-anchor="end">0.3</text>
<text x="1596.5" y="969.5" text-anchor="end">0.4</text>
<text x="1566.5" y="945.5" text-anchor="end">0.5</text>
<text x="1539.5" y="921.5" text-anchor="end">0.6</text>
<text x="1509.5" y="894.5" text-anchor="end">0.7</text>
<text x="1479.5" y="870.5" text-anchor="end">0.8</text>
<text x="1449.5" y="846.5" text-anchor="end">0.9</text>
<text x="1419.5" y="819.5" text-anchor="end">1</text>
<text x="1428" y="789.1" text-anchor="end" font-size="36">0</text>
<text x="1428" y="693.1" text-anchor="end" font-size="36">0.001</text>
<text x="1428" y="594.1" text-anchor="end" font-size="36">0.002</text>
<text x="1428" y="495.1" text-anchor="end" font-size="36">0.003</text>
<text x="1428" y="396.1" text-anchor="end" font-size="36">0.004</text>
<text x="1428" y="297.1" text-anchor="end" font-size="36">0.005</text>
</g>
<text x="2257.8" y="946.6" font-size="36" text-anchor="middle">x</text>
<text transform="translate(1427.1 862.2) rotate(40.25)" x="0" y="9.4" font-size="36" text-anchor="middle">alpha</text>
<text transform="translate(1298.9 277.5) rotate(-90)" x="0" y="0" font-size="36" text-anchor="end">Events / ( 1 x 0.025 )</text>
<text x="1458.8" y="80.9" font-size="55.8">Histogram of hh__x_alpha</text>
<rect x="2112.5" y="96.5" width="228" height="267" fill="#fff" stroke="#000" stroke-width="1" shape-rendering="crispEdges"/>
<line x1="2112.5" y1="141.5" x2="2340.5" y2="141.5" stroke="#000" stroke-width="1" shape-rendering="crispEdges"/>
<text x="2221.5" y="128.9" font-size="33.5" text-anchor="middle">hh__x_alpha</text>
<g font-size="24.5">
<text x="2124.6" y="173.9">Entries</text>
<text x="2324" y="173.9" text-anchor="end">1600</text>
<text x="2124.6" y="218.9">Mean x</text>
<text x="2324" y="218.9" text-anchor="end">−7.313</text>
<text x="2124.6" y="260.7">Mean y</text>
<text x="2324" y="260.7" text-anchor="end">0.4999</text>
<text x="2124.6" y="308">Std Dev x</text>
<text x="2324" y="308" text-anchor="end">6.485</text>
<text x="2124.6" y="350.2">Std Dev y</text>
<text x="2324" y="350.2" text-anchor="end">0.2887</text>
</g>
</svg></body></html>
